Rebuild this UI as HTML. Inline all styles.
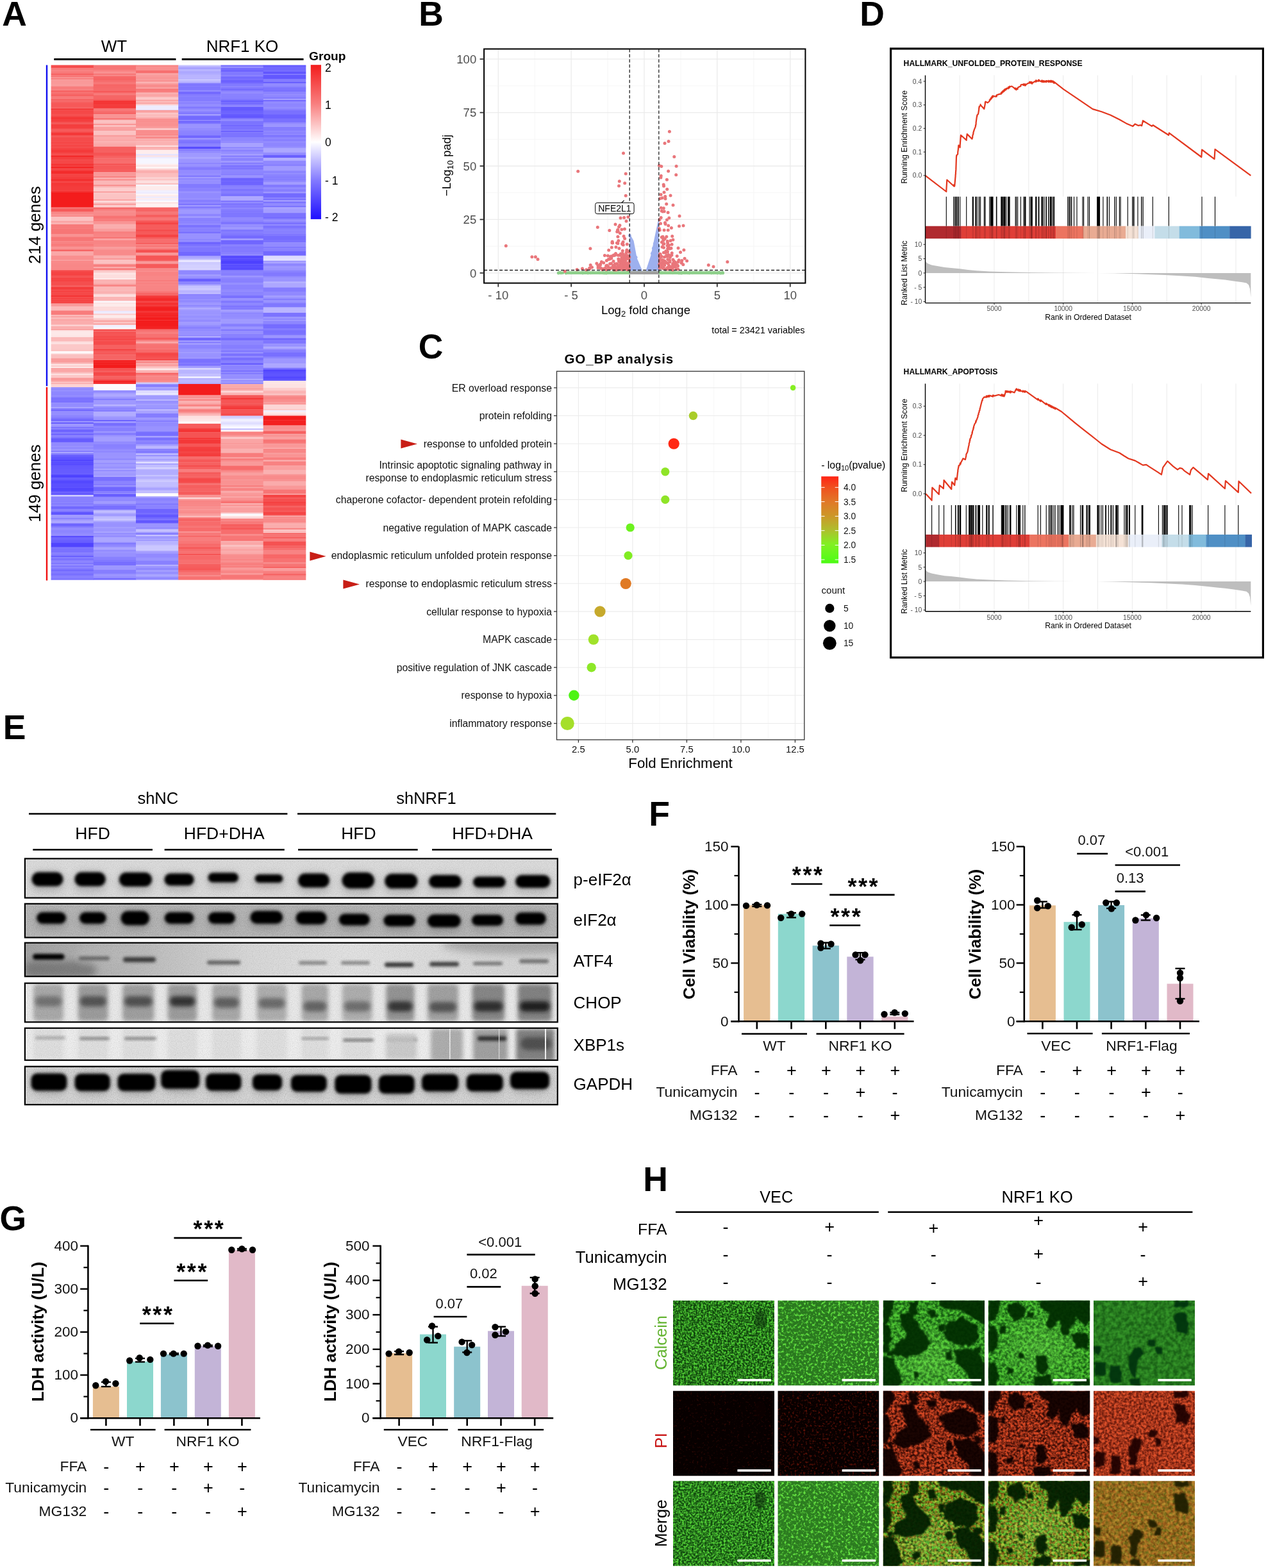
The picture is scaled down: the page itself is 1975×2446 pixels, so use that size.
<!DOCTYPE html>
<html><head><meta charset="utf-8"><title>Figure</title>
<style>
html,body{margin:0;padding:0;background:#fff;}
svg{display:block;font-family:"Liberation Sans",Arial,sans-serif;}
</style></head><body>
<svg width="1975" height="2446" viewBox="0 0 1975 2446">
<defs><linearGradient id="hmcb" x1="0" y1="0" x2="0" y2="1"><stop offset="0" stop-color="#f31c1c"/><stop offset=".25" stop-color="#f87e7e"/><stop offset=".5" stop-color="#fff"/><stop offset=".75" stop-color="#8279ff"/><stop offset="1" stop-color="#1e0fff"/></linearGradient>
<linearGradient id="pvg" x1="0" y1="0" x2="0" y2="1"><stop offset="0" stop-color="#ff2314"/><stop offset=".127" stop-color="#f0501e"/><stop offset=".29" stop-color="#e17828"/><stop offset=".45" stop-color="#cd9628"/><stop offset=".615" stop-color="#afbe2d"/><stop offset=".78" stop-color="#82f023"/><stop offset=".94" stop-color="#5afa19"/><stop offset="1" stop-color="#4bfa14"/></linearGradient>
<filter id="b1" x="-30%" y="-60%" width="160%" height="220%"><feGaussianBlur stdDeviation="2.0"/></filter>
<filter id="b2" x="-30%" y="-60%" width="160%" height="220%"><feGaussianBlur stdDeviation="3"/></filter>
<filter id="b3" x="-40%" y="-60%" width="180%" height="220%"><feGaussianBlur stdDeviation="6"/></filter>
<filter id="grain" x="0" y="0" width="100%" height="100%"><feTurbulence type="fractalNoise" baseFrequency="0.9" numOctaves="1" seed="4"/><feColorMatrix type="matrix" values="0 0 0 0 0  0 0 0 0 0  0 0 0 0 0  0 0 0 -1.3 0.75"/></filter>
<clipPath id="bc1"><rect x="38.9" y="1339.4" width="830.9" height="61.2"/></clipPath>
<clipPath id="bc2"><rect x="38.9" y="1409.8" width="830.9" height="52.7"/></clipPath>
<linearGradient id="atfbg" x1="0" y1="0" x2="1" y2="0"><stop offset="0" stop-color="#a2a2a2"/><stop offset=".22" stop-color="#bdbdbd"/><stop offset=".42" stop-color="#d8d8d8"/><stop offset=".62" stop-color="#e3e3e3"/><stop offset="1" stop-color="#d2d2d2"/></linearGradient>
<clipPath id="bc3"><rect x="38.9" y="1470.7" width="830.9" height="52.5"/></clipPath>
<clipPath id="bc4"><rect x="38.9" y="1533.7" width="830.9" height="60.7"/></clipPath>
<clipPath id="bc5"><rect x="38.9" y="1603.8" width="830.9" height="50"/></clipPath>
<clipPath id="bc6"><rect x="38.9" y="1663.7" width="830.9" height="59.5"/></clipPath>
<filter id="hb" x="-10%" y="-10%" width="120%" height="120%"><feGaussianBlur stdDeviation="1.3"/></filter>
<filter id="c1" x="0" y="0" width="1" height="1" color-interpolation-filters="sRGB"><feTurbulence type="fractalNoise" baseFrequency="0.34" numOctaves="3" seed="3"/><feComponentTransfer><feFuncR type="linear" slope="3" intercept="-1.1"/></feComponentTransfer><feColorMatrix type="matrix" values="0.251 0 0 0 0.063  0.529 0 0 0 0.275  0.153 0 0 0 0.051  0 0 0 0 1"/></filter>
<filter id="c2" x="0" y="0" width="1" height="1" color-interpolation-filters="sRGB"><feTurbulence type="fractalNoise" baseFrequency="0.26" numOctaves="3" seed="5"/><feComponentTransfer><feFuncR type="linear" slope="4" intercept="-2"/></feComponentTransfer><feColorMatrix type="matrix" values="0.227 0 0 0 0.165  0.431 0 0 0 0.471  0.133 0 0 0 0.122  0 0 0 0 1"/></filter>
<filter id="c3" x="0" y="0" width="1" height="1" color-interpolation-filters="sRGB"><feTurbulence type="fractalNoise" baseFrequency="0.22" numOctaves="2" seed="7"/><feComponentTransfer><feFuncR type="linear" slope="2.6" intercept="-0.8"/></feComponentTransfer><feColorMatrix type="matrix" values="0.220 0 0 0 0.094  0.408 0 0 0 0.376  0.129 0 0 0 0.075  0 0 0 0 1"/></filter>
<filter id="c5" x="0" y="0" width="1" height="1" color-interpolation-filters="sRGB"><feTurbulence type="fractalNoise" baseFrequency="0.16" numOctaves="2" seed="9"/><feComponentTransfer><feFuncR type="linear" slope="2.2" intercept="-0.6"/></feComponentTransfer><feColorMatrix type="matrix" values="0.102 0 0 0 0.102  0.196 0 0 0 0.384  0.071 0 0 0 0.086  0 0 0 0 1"/></filter>
<filter id="p1" x="0" y="0" width="1" height="1" color-interpolation-filters="sRGB"><feTurbulence type="fractalNoise" baseFrequency="0.3" numOctaves="2" seed="11"/><feComponentTransfer><feFuncR type="linear" slope="3" intercept="-1.8"/></feComponentTransfer><feColorMatrix type="matrix" values="0.208 0 0 0 0.027  0.039 0 0 0 0.000  0.020 0 0 0 0.000  0 0 0 0 1"/></filter>
<filter id="p2" x="0" y="0" width="1" height="1" color-interpolation-filters="sRGB"><feTurbulence type="fractalNoise" baseFrequency="0.3" numOctaves="2" seed="13"/><feComponentTransfer><feFuncR type="linear" slope="3" intercept="-1.6"/></feComponentTransfer><feColorMatrix type="matrix" values="0.400 0 0 0 0.031  0.078 0 0 0 0.000  0.031 0 0 0 0.000  0 0 0 0 1"/></filter>
<filter id="p3" x="0" y="0" width="1" height="1" color-interpolation-filters="sRGB"><feTurbulence type="fractalNoise" baseFrequency="0.26" numOctaves="2" seed="15"/><feComponentTransfer><feFuncR type="linear" slope="2.6" intercept="-0.8"/></feComponentTransfer><feColorMatrix type="matrix" values="0.608 0 0 0 0.235  0.235 0 0 0 0.047  0.122 0 0 0 0.020  0 0 0 0 1"/></filter>
<filter id="p5" x="0" y="0" width="1" height="1" color-interpolation-filters="sRGB"><feTurbulence type="fractalNoise" baseFrequency="0.26" numOctaves="2" seed="17"/><feComponentTransfer><feFuncR type="linear" slope="2.4" intercept="-0.7"/></feComponentTransfer><feColorMatrix type="matrix" values="0.459 0 0 0 0.412  0.212 0 0 0 0.102  0.118 0 0 0 0.047  0 0 0 0 1"/></filter>
<filter id="m1" x="0" y="0" width="1" height="1" color-interpolation-filters="sRGB"><feTurbulence type="fractalNoise" baseFrequency="0.34" numOctaves="3" seed="19"/><feComponentTransfer><feFuncR type="linear" slope="3" intercept="-1.1"/></feComponentTransfer><feColorMatrix type="matrix" values="0.259 0 0 0 0.071  0.525 0 0 0 0.298  0.157 0 0 0 0.059  0 0 0 0 1"/></filter>
<filter id="m2" x="0" y="0" width="1" height="1" color-interpolation-filters="sRGB"><feTurbulence type="fractalNoise" baseFrequency="0.26" numOctaves="3" seed="21"/><feComponentTransfer><feFuncR type="linear" slope="4" intercept="-2"/></feComponentTransfer><feColorMatrix type="matrix" values="0.235 0 0 0 0.173  0.424 0 0 0 0.486  0.137 0 0 0 0.125  0 0 0 0 1"/></filter>
<filter id="m3" x="0" y="0" width="1" height="1" color-interpolation-filters="sRGB"><feTurbulence type="fractalNoise" baseFrequency="0.24" numOctaves="2" seed="23" result="t1"/><feComponentTransfer in="t1" result="c1"><feFuncR type="linear" slope="2.6" intercept="-0.8"/></feComponentTransfer><feColorMatrix in="c1" type="matrix" values="0.216 0 0 0 0.000  0.510 0 0 0 0.196  0.149 0 0 0 0.000  0 0 0 0 1" result="g"/><feTurbulence type="fractalNoise" baseFrequency="0.24" numOctaves="2" seed="25" result="t2"/><feComponentTransfer in="t2" result="c2"><feFuncR type="linear" slope="2.6" intercept="-0.8"/></feComponentTransfer><feColorMatrix in="c2" type="matrix" values="0.490 0 0 0 0.098  0.196 0 0 0 0.000  0.086 0 0 0 0.000  0 0 0 0 1" result="r"/><feBlend in="g" in2="r" mode="screen"/></filter>
<filter id="m5" x="0" y="0" width="1" height="1" color-interpolation-filters="sRGB"><feTurbulence type="fractalNoise" baseFrequency="0.2" numOctaves="2" seed="27" result="t1"/><feComponentTransfer in="t1" result="c1"><feFuncR type="linear" slope="2.2" intercept="-0.6"/></feComponentTransfer><feColorMatrix in="c1" type="matrix" values="0.078 0 0 0 0.000  0.220 0 0 0 0.086  0.059 0 0 0 0.000  0 0 0 0 1" result="g"/><feTurbulence type="fractalNoise" baseFrequency="0.2" numOctaves="2" seed="29" result="t2"/><feComponentTransfer in="t2" result="c2"><feFuncR type="linear" slope="2.2" intercept="-0.6"/></feComponentTransfer><feColorMatrix in="c2" type="matrix" values="0.314 0 0 0 0.392  0.173 0 0 0 0.188  0.086 0 0 0 0.047  0 0 0 0 1" result="r"/><feBlend in="g" in2="r" mode="screen"/></filter>
<clipPath id="hc1"><rect x="1050" y="2028.8" width="158" height="132.5"/></clipPath>
<clipPath id="hc2"><rect x="1213.5" y="2028.8" width="157.7" height="132.5"/></clipPath>
<clipPath id="hc3"><rect x="1377.8" y="2028.8" width="158.2" height="132.5"/></clipPath>
<radialGradient id="hg3" cx="0.45" cy="0.72" r="0.5"><stop offset="0" stop-color="#9cff70" stop-opacity="0.22"/><stop offset="1" stop-color="#9cff70" stop-opacity="0"/></radialGradient>
<clipPath id="hc4"><rect x="1541.8" y="2028.8" width="158.4" height="132.5"/></clipPath>
<radialGradient id="hg4" cx="0.5" cy="0.55" r="0.5"><stop offset="0" stop-color="#9cff70" stop-opacity="0.22"/><stop offset="1" stop-color="#9cff70" stop-opacity="0"/></radialGradient>
<clipPath id="hc5"><rect x="1706" y="2028.8" width="158" height="132.5"/></clipPath>
<clipPath id="hc6"><rect x="1050" y="2169.7" width="158" height="132.6"/></clipPath>
<clipPath id="hc7"><rect x="1213.5" y="2169.7" width="157.7" height="132.6"/></clipPath>
<clipPath id="hc8"><rect x="1377.8" y="2169.7" width="158.2" height="132.6"/></clipPath>
<clipPath id="hc9"><rect x="1541.8" y="2169.7" width="158.4" height="132.6"/></clipPath>
<clipPath id="hc10"><rect x="1706" y="2169.7" width="158" height="132.6"/></clipPath>
<clipPath id="hc11"><rect x="1050" y="2310.3" width="158" height="132.5"/></clipPath>
<clipPath id="hc12"><rect x="1213.5" y="2310.3" width="157.7" height="132.5"/></clipPath>
<clipPath id="hc13"><rect x="1377.8" y="2310.3" width="158.2" height="132.5"/></clipPath>
<radialGradient id="hg13" cx="0.45" cy="0.72" r="0.5"><stop offset="0" stop-color="#9cff70" stop-opacity="0.22"/><stop offset="1" stop-color="#9cff70" stop-opacity="0"/></radialGradient>
<clipPath id="hc14"><rect x="1541.8" y="2310.3" width="158.4" height="132.5"/></clipPath>
<radialGradient id="hg14" cx="0.5" cy="0.55" r="0.5"><stop offset="0" stop-color="#9cff70" stop-opacity="0.22"/><stop offset="1" stop-color="#9cff70" stop-opacity="0"/></radialGradient>
<clipPath id="hc15"><rect x="1706" y="2310.3" width="158" height="132.5"/></clipPath></defs>
<rect width="1975" height="2446" fill="#fff"/>
<text x="3.2" y="40.1" font-size="53.5" font-weight="bold">A</text>
<text x="653.3" y="40" font-size="53.5" font-weight="bold">B</text>
<text x="652.8" y="559.1" font-size="53.5" font-weight="bold">C</text>
<text x="1341.2" y="40.2" font-size="53.5" font-weight="bold">D</text>
<text x="4.8" y="1152.5" font-size="53.5" font-weight="bold">E</text>
<text x="1012.2" y="1287.5" font-size="53.5" font-weight="bold">F</text>
<text x="-0.6" y="1919.2" font-size="53.5" font-weight="bold">G</text>
<text x="1003.3" y="1858.4" font-size="53.5" font-weight="bold">H</text>
<rect x="79.6" y="101.5" width="66.6" height="4.7" fill="#f54c4c"/>
<rect x="79.6" y="105.9" width="66.6" height="4.7" fill="#f87d7d"/>
<rect x="79.6" y="110.3" width="66.6" height="4.7" fill="#f87b7b"/>
<rect x="79.6" y="114.7" width="66.6" height="2.5" fill="#f66464"/>
<rect x="79.6" y="116.9" width="66.6" height="2.5" fill="#f87b7b"/>
<rect x="79.6" y="119.1" width="66.6" height="1" fill="#f65f5f"/>
<rect x="79.6" y="119.8" width="66.6" height="2.5" fill="#f99191"/>
<rect x="79.6" y="122" width="66.6" height="2.5" fill="#f88181"/>
<rect x="79.6" y="124.2" width="66.6" height="6.9" fill="#f99999"/>
<rect x="79.6" y="130.8" width="66.6" height="4.1" fill="#f99c9c"/>
<rect x="79.6" y="134.6" width="66.6" height="4.7" fill="#f87c7c"/>
<rect x="79.6" y="139" width="66.6" height="2.5" fill="#f88383"/>
<rect x="79.6" y="141.2" width="66.6" height="2.5" fill="#f65858"/>
<rect x="79.6" y="143.4" width="66.6" height="2.5" fill="#f76c6c"/>
<rect x="79.6" y="145.6" width="66.6" height="2.5" fill="#f76969"/>
<rect x="79.6" y="147.8" width="66.6" height="2.5" fill="#f66161"/>
<rect x="79.6" y="150" width="66.6" height="4.7" fill="#f77979"/>
<rect x="79.6" y="154.4" width="66.6" height="2.5" fill="#f65959"/>
<rect x="79.6" y="156.6" width="66.6" height="2.5" fill="#f76c6c"/>
<rect x="79.6" y="158.8" width="66.6" height="2.5" fill="#f65f5f"/>
<rect x="79.6" y="161" width="66.6" height="6.9" fill="#f65858"/>
<rect x="79.6" y="167.6" width="66.6" height="2" fill="#f66161"/>
<rect x="79.6" y="169.3" width="66.6" height="2.5" fill="#f32e2e"/>
<rect x="79.6" y="171.5" width="66.6" height="6.9" fill="#f54848"/>
<rect x="79.6" y="178.1" width="66.6" height="2.5" fill="#f54b4b"/>
<rect x="79.6" y="180.3" width="66.6" height="2.5" fill="#f43e3e"/>
<rect x="79.6" y="182.5" width="66.6" height="2.5" fill="#f43232"/>
<rect x="79.6" y="184.7" width="66.6" height="4.7" fill="#f43d3d"/>
<rect x="79.6" y="189.1" width="66.6" height="2.5" fill="#f44040"/>
<rect x="79.6" y="191.3" width="66.6" height="2.5" fill="#f55252"/>
<rect x="79.6" y="193.5" width="66.6" height="6.9" fill="#f43e3e"/>
<rect x="79.6" y="200.1" width="66.6" height="2.5" fill="#f54747"/>
<rect x="79.6" y="202.3" width="66.6" height="4.7" fill="#f65757"/>
<rect x="79.6" y="206.7" width="66.6" height="4.7" fill="#f43838"/>
<rect x="79.6" y="211.1" width="66.6" height="2.5" fill="#f55050"/>
<rect x="79.6" y="213.3" width="66.6" height="6.9" fill="#f54b4b"/>
<rect x="79.6" y="219.9" width="66.6" height="2.5" fill="#f54d4d"/>
<rect x="79.6" y="222.1" width="66.6" height="2.5" fill="#f43d3d"/>
<rect x="79.6" y="224.3" width="66.6" height="4.7" fill="#f54747"/>
<rect x="79.6" y="228.7" width="66.6" height="2.5" fill="#f54e4e"/>
<rect x="79.6" y="230.9" width="66.6" height="3.1" fill="#f54343"/>
<rect x="79.6" y="233.7" width="66.6" height="4.7" fill="#f43a3a"/>
<rect x="79.6" y="238.1" width="66.6" height="2.5" fill="#f44040"/>
<rect x="79.6" y="240.3" width="66.6" height="2.5" fill="#f54545"/>
<rect x="79.6" y="242.5" width="66.6" height="2.5" fill="#f32626"/>
<rect x="79.6" y="244.7" width="66.6" height="4.7" fill="#f43f3f"/>
<rect x="79.6" y="249.1" width="66.6" height="6.9" fill="#f54747"/>
<rect x="79.6" y="255.7" width="66.6" height="2.5" fill="#f43434"/>
<rect x="79.6" y="257.9" width="66.6" height="2.5" fill="#f44141"/>
<rect x="79.6" y="260.1" width="66.6" height="2.5" fill="#f31c1c"/>
<rect x="79.6" y="262.3" width="66.6" height="2.5" fill="#f43a3a"/>
<rect x="79.6" y="264.5" width="66.6" height="2.5" fill="#f43d3d"/>
<rect x="79.6" y="266.7" width="66.6" height="4.7" fill="#f32b2b"/>
<rect x="79.6" y="271.1" width="66.6" height="2.5" fill="#f43d3d"/>
<rect x="79.6" y="273.3" width="66.6" height="2.5" fill="#f43535"/>
<rect x="79.6" y="275.5" width="66.6" height="4.7" fill="#f43b3b"/>
<rect x="79.6" y="279.9" width="66.6" height="2.5" fill="#f32a2a"/>
<rect x="79.6" y="282.1" width="66.6" height="2.5" fill="#f43c3c"/>
<rect x="79.6" y="284.3" width="66.6" height="4.7" fill="#f43737"/>
<rect x="79.6" y="288.7" width="66.6" height="2.5" fill="#f43a3a"/>
<rect x="79.6" y="290.9" width="66.6" height="6.9" fill="#f43c3c"/>
<rect x="79.6" y="297.5" width="66.6" height="2.5" fill="#f32b2b"/>
<rect x="79.6" y="299.7" width="66.6" height="0.6" fill="#f65e5e"/>
<rect x="79.6" y="300" width="66.6" height="23.8" fill="#f31c1c"/>
<rect x="79.6" y="323.5" width="66.6" height="2.5" fill="#f77676"/>
<rect x="79.6" y="325.7" width="66.6" height="4.7" fill="#f65b5b"/>
<rect x="79.6" y="330.1" width="66.6" height="2.5" fill="#f88080"/>
<rect x="79.6" y="332.3" width="66.6" height="2.5" fill="#f88282"/>
<rect x="79.6" y="334.5" width="66.6" height="2.5" fill="#f99393"/>
<rect x="79.6" y="336.7" width="66.6" height="1.6" fill="#f88686"/>
<rect x="79.6" y="338" width="66.6" height="6.9" fill="#fbc1c1"/>
<rect x="79.6" y="344.6" width="66.6" height="2.5" fill="#faa2a2"/>
<rect x="79.6" y="346.8" width="66.6" height="3.5" fill="#fbb3b3"/>
<rect x="79.6" y="350" width="66.6" height="6.9" fill="#f77a7a"/>
<rect x="79.6" y="356.6" width="66.6" height="9.1" fill="#f77676"/>
<rect x="79.6" y="365.4" width="66.6" height="2.5" fill="#f99090"/>
<rect x="79.6" y="367.6" width="66.6" height="2.5" fill="#f98f8f"/>
<rect x="79.6" y="369.8" width="66.6" height="6.9" fill="#f77676"/>
<rect x="79.6" y="376.4" width="66.6" height="4.7" fill="#f88383"/>
<rect x="79.6" y="380.8" width="66.6" height="2.5" fill="#f87a7a"/>
<rect x="79.6" y="383" width="66.6" height="2.5" fill="#f88181"/>
<rect x="79.6" y="385.2" width="66.6" height="2.5" fill="#f98e8e"/>
<rect x="79.6" y="387.4" width="66.6" height="2.5" fill="#f88989"/>
<rect x="79.6" y="389.6" width="66.6" height="2.5" fill="#f65e5e"/>
<rect x="79.6" y="391.8" width="66.6" height="6.9" fill="#faa7a7"/>
<rect x="79.6" y="398.4" width="66.6" height="6.9" fill="#f98e8e"/>
<rect x="79.6" y="405" width="66.6" height="2.5" fill="#f99c9c"/>
<rect x="79.6" y="407.2" width="66.6" height="2.5" fill="#f88181"/>
<rect x="79.6" y="409.4" width="66.6" height="2.5" fill="#f88484"/>
<rect x="79.6" y="411.6" width="66.6" height="6.9" fill="#f88787"/>
<rect x="79.6" y="418.2" width="66.6" height="2.5" fill="#f88080"/>
<rect x="79.6" y="420.4" width="66.6" height="1.3" fill="#f87f7f"/>
<rect x="79.6" y="421.4" width="66.6" height="2.5" fill="#f54545"/>
<rect x="79.6" y="423.6" width="66.6" height="2.5" fill="#f54444"/>
<rect x="79.6" y="425.8" width="66.6" height="4.7" fill="#f54343"/>
<rect x="79.6" y="430.2" width="66.6" height="2.5" fill="#f54a4a"/>
<rect x="79.6" y="432.4" width="66.6" height="6.9" fill="#f54444"/>
<rect x="79.6" y="439" width="66.6" height="6.9" fill="#f54e4e"/>
<rect x="79.6" y="445.6" width="66.6" height="2.5" fill="#f65f5f"/>
<rect x="79.6" y="447.8" width="66.6" height="2.5" fill="#f43a3a"/>
<rect x="79.6" y="450" width="66.6" height="2.5" fill="#f43f3f"/>
<rect x="79.6" y="452.2" width="66.6" height="4.7" fill="#f54444"/>
<rect x="79.6" y="456.6" width="66.6" height="4.7" fill="#f54848"/>
<rect x="79.6" y="461" width="66.6" height="2.5" fill="#f43333"/>
<rect x="79.6" y="463.2" width="66.6" height="4.7" fill="#f54545"/>
<rect x="79.6" y="467.6" width="66.6" height="2.5" fill="#f54242"/>
<rect x="79.6" y="469.8" width="66.6" height="2.5" fill="#f54747"/>
<rect x="79.6" y="472" width="66.6" height="1.7" fill="#f43f3f"/>
<rect x="79.6" y="473.4" width="66.6" height="4.7" fill="#f99999"/>
<rect x="79.6" y="477.8" width="66.6" height="6.9" fill="#fbbaba"/>
<rect x="79.6" y="484.4" width="66.6" height="6.9" fill="#f87c7c"/>
<rect x="79.6" y="491" width="66.6" height="2.5" fill="#fbb9b9"/>
<rect x="79.6" y="493.2" width="66.6" height="2.5" fill="#f99d9d"/>
<rect x="79.6" y="495.4" width="66.6" height="2.5" fill="#fbbcbc"/>
<rect x="79.6" y="497.6" width="66.6" height="2.5" fill="#faa6a6"/>
<rect x="79.6" y="499.8" width="66.6" height="0.5" fill="#f99f9f"/>
<rect x="79.6" y="500" width="66.6" height="6.9" fill="#faadad"/>
<rect x="79.6" y="506.6" width="66.6" height="2.5" fill="#fcd4d4"/>
<rect x="79.6" y="508.8" width="66.6" height="4.7" fill="#faafaf"/>
<rect x="79.6" y="513.2" width="66.6" height="2.1" fill="#f99d9d"/>
<rect x="79.6" y="515" width="66.6" height="2.5" fill="#fde0e0"/>
<rect x="79.6" y="517.2" width="66.6" height="6.9" fill="#fde9e9"/>
<rect x="79.6" y="523.8" width="66.6" height="2.5" fill="#fde5e5"/>
<rect x="79.6" y="526" width="66.6" height="6.9" fill="#fbbaba"/>
<rect x="79.6" y="532.6" width="66.6" height="2.5" fill="#fddede"/>
<rect x="79.6" y="534.8" width="66.6" height="2.5" fill="#fde1e1"/>
<rect x="79.6" y="537" width="66.6" height="6.9" fill="#fcc8c8"/>
<rect x="79.6" y="543.6" width="66.6" height="4.7" fill="#fbc5c5"/>
<rect x="79.6" y="548" width="66.6" height="2.5" fill="#fefeff"/>
<rect x="79.6" y="550.2" width="66.6" height="2.5" fill="#fdebeb"/>
<rect x="79.6" y="552.4" width="66.6" height="2.5" fill="#fbbebe"/>
<rect x="79.6" y="554.6" width="66.6" height="2.5" fill="#fbc1c1"/>
<rect x="79.6" y="556.8" width="66.6" height="2.5" fill="#fbbebe"/>
<rect x="79.6" y="559" width="66.6" height="6.9" fill="#f99c9c"/>
<rect x="79.6" y="565.6" width="66.6" height="2.5" fill="#fbbaba"/>
<rect x="79.6" y="567.8" width="66.6" height="2.5" fill="#fde5e5"/>
<rect x="79.6" y="570" width="66.6" height="2.5" fill="#fccccc"/>
<rect x="79.6" y="572.2" width="66.6" height="2.1" fill="#fde8e8"/>
<rect x="79.6" y="574" width="66.6" height="6.9" fill="#faa6a6"/>
<rect x="79.6" y="580.6" width="66.6" height="2.5" fill="#fbbfbf"/>
<rect x="79.6" y="582.8" width="66.6" height="2.5" fill="#fde1e1"/>
<rect x="79.6" y="585" width="66.6" height="4.7" fill="#fcc8c8"/>
<rect x="79.6" y="589.4" width="66.6" height="2.5" fill="#f99494"/>
<rect x="79.6" y="591.6" width="66.6" height="2.5" fill="#f99898"/>
<rect x="79.6" y="593.8" width="66.6" height="2.5" fill="#faaeae"/>
<rect x="79.6" y="596" width="66.6" height="2.5" fill="#fbc4c4"/>
<rect x="79.6" y="598.2" width="66.6" height="1.1" fill="#f99595"/>
<rect x="79.6" y="599" width="66.6" height="5.3" fill="#fcd3d3"/>
<rect x="79.6" y="604" width="66.6" height="2.5" fill="#9790ff"/>
<rect x="79.6" y="606.2" width="66.6" height="2.5" fill="#8880ff"/>
<rect x="79.6" y="608.4" width="66.6" height="2.5" fill="#928bff"/>
<rect x="79.6" y="610.6" width="66.6" height="6.9" fill="#8e87ff"/>
<rect x="79.6" y="617.2" width="66.6" height="2.5" fill="#8e86ff"/>
<rect x="79.6" y="619.4" width="66.6" height="6.9" fill="#7c73ff"/>
<rect x="79.6" y="626" width="66.6" height="2.5" fill="#7a71ff"/>
<rect x="79.6" y="628.2" width="66.6" height="6.9" fill="#938cff"/>
<rect x="79.6" y="634.8" width="66.6" height="2.5" fill="#aaa4ff"/>
<rect x="79.6" y="637" width="66.6" height="2.5" fill="#8178ff"/>
<rect x="79.6" y="639.2" width="66.6" height="2.5" fill="#6a60ff"/>
<rect x="79.6" y="641.4" width="66.6" height="6.9" fill="#958eff"/>
<rect x="79.6" y="648" width="66.6" height="2.5" fill="#8b83ff"/>
<rect x="79.6" y="650.2" width="66.6" height="2.5" fill="#8078ff"/>
<rect x="79.6" y="652.4" width="66.6" height="2.5" fill="#7269ff"/>
<rect x="79.6" y="654.6" width="66.6" height="2.5" fill="#6e64ff"/>
<rect x="79.6" y="656.8" width="66.6" height="2.5" fill="#9c96ff"/>
<rect x="79.6" y="659" width="66.6" height="2.5" fill="#675dff"/>
<rect x="79.6" y="661.2" width="66.6" height="4.7" fill="#9d96ff"/>
<rect x="79.6" y="665.6" width="66.6" height="2.5" fill="#7c73ff"/>
<rect x="79.6" y="667.8" width="66.6" height="2.5" fill="#8b84ff"/>
<rect x="79.6" y="670" width="66.6" height="4.7" fill="#6e64ff"/>
<rect x="79.6" y="674.4" width="66.6" height="2.5" fill="#7f77ff"/>
<rect x="79.6" y="676.6" width="66.6" height="2.5" fill="#6e64ff"/>
<rect x="79.6" y="678.8" width="66.6" height="2.5" fill="#8e86ff"/>
<rect x="79.6" y="681" width="66.6" height="2.5" fill="#8179ff"/>
<rect x="79.6" y="683.2" width="66.6" height="6.9" fill="#665cff"/>
<rect x="79.6" y="689.8" width="66.6" height="6.9" fill="#928aff"/>
<rect x="79.6" y="696.4" width="66.6" height="4.7" fill="#918aff"/>
<rect x="79.6" y="700.8" width="66.6" height="2.5" fill="#9f99ff"/>
<rect x="79.6" y="703" width="66.6" height="2.5" fill="#847cff"/>
<rect x="79.6" y="705.2" width="66.6" height="2.5" fill="#a7a2ff"/>
<rect x="79.6" y="707.4" width="66.6" height="2.5" fill="#746bff"/>
<rect x="79.6" y="709.6" width="66.6" height="0.7" fill="#9993ff"/>
<rect x="79.6" y="710" width="66.6" height="2.5" fill="#6257ff"/>
<rect x="79.6" y="712.2" width="66.6" height="4.7" fill="#5d53ff"/>
<rect x="79.6" y="716.6" width="66.6" height="2.5" fill="#5044ff"/>
<rect x="79.6" y="718.8" width="66.6" height="2.5" fill="#5d53ff"/>
<rect x="79.6" y="721" width="66.6" height="2.5" fill="#584dff"/>
<rect x="79.6" y="723.2" width="66.6" height="2.5" fill="#4c40ff"/>
<rect x="79.6" y="725.4" width="66.6" height="2.5" fill="#594dff"/>
<rect x="79.6" y="727.6" width="66.6" height="4.7" fill="#6459ff"/>
<rect x="79.6" y="732" width="66.6" height="6.9" fill="#665cff"/>
<rect x="79.6" y="738.6" width="66.6" height="2.5" fill="#655aff"/>
<rect x="79.6" y="740.8" width="66.6" height="4.7" fill="#4e43ff"/>
<rect x="79.6" y="745.2" width="66.6" height="2.5" fill="#6056ff"/>
<rect x="79.6" y="747.4" width="66.6" height="2.5" fill="#5a50ff"/>
<rect x="79.6" y="749.6" width="66.6" height="4.7" fill="#5348ff"/>
<rect x="79.6" y="754" width="66.6" height="6.9" fill="#5a4fff"/>
<rect x="79.6" y="760.6" width="66.6" height="2.5" fill="#5448ff"/>
<rect x="79.6" y="762.8" width="66.6" height="2.5" fill="#5247ff"/>
<rect x="79.6" y="765" width="66.6" height="2.5" fill="#584dff"/>
<rect x="79.6" y="767.2" width="66.6" height="2.5" fill="#665bff"/>
<rect x="79.6" y="769.4" width="66.6" height="2.5" fill="#5a4fff"/>
<rect x="79.6" y="771.6" width="66.6" height="0.7" fill="#6157ff"/>
<rect x="79.6" y="772" width="66.6" height="2.5" fill="#cecbff"/>
<rect x="79.6" y="774.2" width="66.6" height="0.6" fill="#dad8ff"/>
<rect x="79.6" y="774.5" width="66.6" height="6.9" fill="#8981ff"/>
<rect x="79.6" y="781.1" width="66.6" height="2.5" fill="#827aff"/>
<rect x="79.6" y="783.3" width="66.6" height="4.7" fill="#867eff"/>
<rect x="79.6" y="787.7" width="66.6" height="2.5" fill="#8f88ff"/>
<rect x="79.6" y="789.9" width="66.6" height="4.7" fill="#7168ff"/>
<rect x="79.6" y="794.3" width="66.6" height="2.5" fill="#857dff"/>
<rect x="79.6" y="796.5" width="66.6" height="2.5" fill="#8179ff"/>
<rect x="79.6" y="798.7" width="66.6" height="4.7" fill="#6056ff"/>
<rect x="79.6" y="803.1" width="66.6" height="4.7" fill="#a09aff"/>
<rect x="79.6" y="807.5" width="66.6" height="2.5" fill="#8880ff"/>
<rect x="79.6" y="809.7" width="66.6" height="2.5" fill="#9e97ff"/>
<rect x="79.6" y="811.9" width="66.6" height="4.7" fill="#aca7ff"/>
<rect x="79.6" y="816.3" width="66.6" height="4.7" fill="#6e65ff"/>
<rect x="79.6" y="820.7" width="66.6" height="2.5" fill="#837aff"/>
<rect x="79.6" y="822.9" width="66.6" height="2.5" fill="#938cff"/>
<rect x="79.6" y="825.1" width="66.6" height="2.5" fill="#9089ff"/>
<rect x="79.6" y="827.3" width="66.6" height="2.5" fill="#837bff"/>
<rect x="79.6" y="829.5" width="66.6" height="2.5" fill="#8c85ff"/>
<rect x="79.6" y="831.7" width="66.6" height="4.6" fill="#948dff"/>
<rect x="79.6" y="836" width="66.6" height="2.5" fill="#584cff"/>
<rect x="79.6" y="838.2" width="66.6" height="2.5" fill="#655bff"/>
<rect x="79.6" y="840.4" width="66.6" height="4.7" fill="#6a60ff"/>
<rect x="79.6" y="844.8" width="66.6" height="2.5" fill="#665cff"/>
<rect x="79.6" y="847" width="66.6" height="6.9" fill="#5044ff"/>
<rect x="79.6" y="853.6" width="66.6" height="2.5" fill="#7f76ff"/>
<rect x="79.6" y="855.8" width="66.6" height="6.9" fill="#7a71ff"/>
<rect x="79.6" y="862.4" width="66.6" height="4.7" fill="#867eff"/>
<rect x="79.6" y="866.8" width="66.6" height="2.5" fill="#6a61ff"/>
<rect x="79.6" y="869" width="66.6" height="2.5" fill="#8881ff"/>
<rect x="79.6" y="871.2" width="66.6" height="2.5" fill="#6f65ff"/>
<rect x="79.6" y="873.4" width="66.6" height="2.5" fill="#8078ff"/>
<rect x="79.6" y="875.6" width="66.6" height="2.5" fill="#8f87ff"/>
<rect x="79.6" y="877.8" width="66.6" height="2.5" fill="#7f77ff"/>
<rect x="79.6" y="880" width="66.6" height="2.5" fill="#958eff"/>
<rect x="79.6" y="882.2" width="66.6" height="2.5" fill="#776eff"/>
<rect x="79.6" y="884.4" width="66.6" height="2.5" fill="#8880ff"/>
<rect x="79.6" y="886.6" width="66.6" height="2.5" fill="#7e76ff"/>
<rect x="79.6" y="888.8" width="66.6" height="2.5" fill="#736aff"/>
<rect x="79.6" y="891" width="66.6" height="2.5" fill="#827aff"/>
<rect x="79.6" y="893.2" width="66.6" height="2.5" fill="#776eff"/>
<rect x="79.6" y="895.4" width="66.6" height="2.5" fill="#7067ff"/>
<rect x="79.6" y="897.6" width="66.6" height="4.7" fill="#877fff"/>
<rect x="79.6" y="902" width="66.6" height="2.5" fill="#7e76ff"/>
<rect x="79.6" y="904.2" width="66.6" height="0.5" fill="#756cff"/>
<rect x="145.8" y="101.5" width="66.6" height="6.9" fill="#f77575"/>
<rect x="145.8" y="108.1" width="66.6" height="2.5" fill="#f77676"/>
<rect x="145.8" y="110.3" width="66.6" height="2.5" fill="#f88181"/>
<rect x="145.8" y="112.5" width="66.6" height="2.5" fill="#f99191"/>
<rect x="145.8" y="114.7" width="66.6" height="2.5" fill="#f77979"/>
<rect x="145.8" y="116.9" width="66.6" height="2.5" fill="#f88888"/>
<rect x="145.8" y="119.1" width="66.6" height="1" fill="#f65959"/>
<rect x="145.8" y="119.8" width="66.6" height="2.5" fill="#f76868"/>
<rect x="145.8" y="122" width="66.6" height="4.7" fill="#f66565"/>
<rect x="145.8" y="126.4" width="66.6" height="2.5" fill="#f66666"/>
<rect x="145.8" y="128.6" width="66.6" height="2.5" fill="#f87b7b"/>
<rect x="145.8" y="130.8" width="66.6" height="2.5" fill="#f76a6a"/>
<rect x="145.8" y="133" width="66.6" height="2.5" fill="#f66464"/>
<rect x="145.8" y="135.2" width="66.6" height="2.5" fill="#f65f5f"/>
<rect x="145.8" y="137.4" width="66.6" height="2.5" fill="#f66262"/>
<rect x="145.8" y="139.6" width="66.6" height="2.5" fill="#f76b6b"/>
<rect x="145.8" y="141.8" width="66.6" height="2.5" fill="#f65959"/>
<rect x="145.8" y="144" width="66.6" height="2.5" fill="#f76d6d"/>
<rect x="145.8" y="146.2" width="66.6" height="2.5" fill="#f77474"/>
<rect x="145.8" y="148.4" width="66.6" height="2.5" fill="#f65f5f"/>
<rect x="145.8" y="150.6" width="66.6" height="4.7" fill="#f66565"/>
<rect x="145.8" y="155" width="66.6" height="2.3" fill="#f65b5b"/>
<rect x="145.8" y="157" width="66.6" height="6.9" fill="#f43636"/>
<rect x="145.8" y="163.6" width="66.6" height="4.7" fill="#f43b3b"/>
<rect x="145.8" y="168" width="66.6" height="1.6" fill="#f54343"/>
<rect x="145.8" y="169.3" width="66.6" height="2.5" fill="#f77171"/>
<rect x="145.8" y="171.5" width="66.6" height="2.5" fill="#f77474"/>
<rect x="145.8" y="173.7" width="66.6" height="2.5" fill="#f76c6c"/>
<rect x="145.8" y="175.9" width="66.6" height="2.5" fill="#f66565"/>
<rect x="145.8" y="178.1" width="66.6" height="6.9" fill="#f99494"/>
<rect x="145.8" y="184.7" width="66.6" height="2.2" fill="#f76969"/>
<rect x="145.8" y="186.6" width="66.6" height="2.5" fill="#fbbcbc"/>
<rect x="145.8" y="188.8" width="66.6" height="2.5" fill="#fbc4c4"/>
<rect x="145.8" y="191" width="66.6" height="2.5" fill="#fbbbbb"/>
<rect x="145.8" y="193.2" width="66.6" height="2.5" fill="#f98f8f"/>
<rect x="145.8" y="195.4" width="66.6" height="2.5" fill="#fcc6c6"/>
<rect x="145.8" y="197.6" width="66.6" height="4.7" fill="#faa1a1"/>
<rect x="145.8" y="202" width="66.6" height="2.5" fill="#f9a0a0"/>
<rect x="145.8" y="204.2" width="66.6" height="6.9" fill="#fbc2c2"/>
<rect x="145.8" y="210.8" width="66.6" height="2.5" fill="#f99d9d"/>
<rect x="145.8" y="213" width="66.6" height="4.7" fill="#faacac"/>
<rect x="145.8" y="217.4" width="66.6" height="2.5" fill="#faa1a1"/>
<rect x="145.8" y="219.6" width="66.6" height="2.5" fill="#fbb3b3"/>
<rect x="145.8" y="221.8" width="66.6" height="2.5" fill="#faafaf"/>
<rect x="145.8" y="224" width="66.6" height="5.1" fill="#faa9a9"/>
<rect x="145.8" y="228.8" width="66.6" height="9.1" fill="#f66060"/>
<rect x="145.8" y="237.6" width="66.6" height="4.7" fill="#f55454"/>
<rect x="145.8" y="242" width="66.6" height="2.5" fill="#f65b5b"/>
<rect x="145.8" y="244.2" width="66.6" height="2.5" fill="#f65858"/>
<rect x="145.8" y="246.4" width="66.6" height="4.7" fill="#f76b6b"/>
<rect x="145.8" y="250.8" width="66.6" height="4.7" fill="#f76e6e"/>
<rect x="145.8" y="255.2" width="66.6" height="2.5" fill="#f54a4a"/>
<rect x="145.8" y="257.4" width="66.6" height="6.9" fill="#f65a5a"/>
<rect x="145.8" y="264" width="66.6" height="2.5" fill="#f65e5e"/>
<rect x="145.8" y="266.2" width="66.6" height="2.5" fill="#f54f4f"/>
<rect x="145.8" y="268.4" width="66.6" height="4.7" fill="#f99999"/>
<rect x="145.8" y="272.8" width="66.6" height="2.5" fill="#f99a9a"/>
<rect x="145.8" y="275" width="66.6" height="2.5" fill="#f88282"/>
<rect x="145.8" y="277.2" width="66.6" height="2.5" fill="#fab0b0"/>
<rect x="145.8" y="279.4" width="66.6" height="2.5" fill="#f88989"/>
<rect x="145.8" y="281.6" width="66.6" height="6.9" fill="#fbb7b7"/>
<rect x="145.8" y="288.2" width="66.6" height="2.5" fill="#f88b8b"/>
<rect x="145.8" y="290.4" width="66.6" height="2.5" fill="#fbb4b4"/>
<rect x="145.8" y="292.6" width="66.6" height="4.7" fill="#fccdcd"/>
<rect x="145.8" y="297" width="66.6" height="2.5" fill="#fcc8c8"/>
<rect x="145.8" y="299.2" width="66.6" height="1.1" fill="#f77070"/>
<rect x="145.8" y="300" width="66.6" height="2.5" fill="#fbc4c4"/>
<rect x="145.8" y="302.2" width="66.6" height="9.1" fill="#fbc3c3"/>
<rect x="145.8" y="311" width="66.6" height="2.5" fill="#faa5a5"/>
<rect x="145.8" y="313.2" width="66.6" height="2.5" fill="#fddcdc"/>
<rect x="145.8" y="315.4" width="66.6" height="2.5" fill="#fbc3c3"/>
<rect x="145.8" y="317.6" width="66.6" height="2.5" fill="#f99c9c"/>
<rect x="145.8" y="319.8" width="66.6" height="4" fill="#fccece"/>
<rect x="145.8" y="323.5" width="66.6" height="2.5" fill="#f66666"/>
<rect x="145.8" y="325.7" width="66.6" height="2.5" fill="#f87b7b"/>
<rect x="145.8" y="327.9" width="66.6" height="2.5" fill="#f88989"/>
<rect x="145.8" y="330.1" width="66.6" height="6.9" fill="#f88a8a"/>
<rect x="145.8" y="336.7" width="66.6" height="4.7" fill="#f77373"/>
<rect x="145.8" y="341.1" width="66.6" height="4.7" fill="#f87b7b"/>
<rect x="145.8" y="345.5" width="66.6" height="2.5" fill="#f99494"/>
<rect x="145.8" y="347.7" width="66.6" height="0.6" fill="#f88b8b"/>
<rect x="145.8" y="348" width="66.6" height="2.5" fill="#f99898"/>
<rect x="145.8" y="350.2" width="66.6" height="6.9" fill="#faadad"/>
<rect x="145.8" y="356.8" width="66.6" height="4.7" fill="#f99d9d"/>
<rect x="145.8" y="361.2" width="66.6" height="2.5" fill="#f77777"/>
<rect x="145.8" y="363.4" width="66.6" height="2.5" fill="#f87b7b"/>
<rect x="145.8" y="365.6" width="66.6" height="4.7" fill="#f88585"/>
<rect x="145.8" y="370" width="66.6" height="2.5" fill="#f77474"/>
<rect x="145.8" y="372.2" width="66.6" height="2.5" fill="#faa3a3"/>
<rect x="145.8" y="374.4" width="66.6" height="6.9" fill="#f88585"/>
<rect x="145.8" y="381" width="66.6" height="4.7" fill="#f88888"/>
<rect x="145.8" y="385.4" width="66.6" height="2.5" fill="#f99b9b"/>
<rect x="145.8" y="387.6" width="66.6" height="2.5" fill="#f99696"/>
<rect x="145.8" y="389.8" width="66.6" height="9.1" fill="#f88b8b"/>
<rect x="145.8" y="398.6" width="66.6" height="4.7" fill="#faafaf"/>
<rect x="145.8" y="403" width="66.6" height="2.5" fill="#f99898"/>
<rect x="145.8" y="405.2" width="66.6" height="6.9" fill="#fbc2c2"/>
<rect x="145.8" y="411.8" width="66.6" height="2.5" fill="#f88989"/>
<rect x="145.8" y="414" width="66.6" height="2.5" fill="#f77a7a"/>
<rect x="145.8" y="416.2" width="66.6" height="2.5" fill="#faa8a8"/>
<rect x="145.8" y="418.4" width="66.6" height="3.3" fill="#f77979"/>
<rect x="145.8" y="421.4" width="66.6" height="2.5" fill="#fbc0c0"/>
<rect x="145.8" y="423.6" width="66.6" height="2.5" fill="#fcd1d1"/>
<rect x="145.8" y="425.8" width="66.6" height="2.5" fill="#fde7e7"/>
<rect x="145.8" y="428" width="66.6" height="6.9" fill="#fddede"/>
<rect x="145.8" y="434.6" width="66.6" height="1.4" fill="#fefdfd"/>
<rect x="145.8" y="435.7" width="66.6" height="6.9" fill="#fbb3b3"/>
<rect x="145.8" y="442.3" width="66.6" height="2.5" fill="#f99e9e"/>
<rect x="145.8" y="444.5" width="66.6" height="2.5" fill="#f87d7d"/>
<rect x="145.8" y="446.7" width="66.6" height="6.9" fill="#fbb7b7"/>
<rect x="145.8" y="453.3" width="66.6" height="4.7" fill="#fab2b2"/>
<rect x="145.8" y="457.7" width="66.6" height="1.1" fill="#faa9a9"/>
<rect x="145.8" y="458.5" width="66.6" height="2.5" fill="#fcd8d8"/>
<rect x="145.8" y="460.7" width="66.6" height="2.5" fill="#fde1e1"/>
<rect x="145.8" y="462.9" width="66.6" height="6.9" fill="#fbb5b5"/>
<rect x="145.8" y="469.5" width="66.6" height="2.5" fill="#fbfbff"/>
<rect x="145.8" y="471.7" width="66.6" height="2.5" fill="#fde4e4"/>
<rect x="145.8" y="473.9" width="66.6" height="4.7" fill="#fdebeb"/>
<rect x="145.8" y="478.3" width="66.6" height="2.5" fill="#fcd7d7"/>
<rect x="145.8" y="480.5" width="66.6" height="4.7" fill="#fddbdb"/>
<rect x="145.8" y="484.9" width="66.6" height="2.5" fill="#ebe9ff"/>
<rect x="145.8" y="487.1" width="66.6" height="2.5" fill="#efeeff"/>
<rect x="145.8" y="489.3" width="66.6" height="2.5" fill="#fccbcb"/>
<rect x="145.8" y="491.5" width="66.6" height="4.7" fill="#fdebeb"/>
<rect x="145.8" y="495.9" width="66.6" height="2.5" fill="#fcd1d1"/>
<rect x="145.8" y="498.1" width="66.6" height="2.2" fill="#fbc1c1"/>
<rect x="145.8" y="500" width="66.6" height="2.5" fill="#faa3a3"/>
<rect x="145.8" y="502.2" width="66.6" height="2.5" fill="#fbc4c4"/>
<rect x="145.8" y="504.4" width="66.6" height="2.5" fill="#faa2a2"/>
<rect x="145.8" y="506.6" width="66.6" height="0.7" fill="#fccaca"/>
<rect x="145.8" y="507" width="66.6" height="4.7" fill="#f1f0ff"/>
<rect x="145.8" y="511.4" width="66.6" height="2.5" fill="#fef8f8"/>
<rect x="145.8" y="513.6" width="66.6" height="2.5" fill="#f54f4f"/>
<rect x="145.8" y="515.8" width="66.6" height="2.5" fill="#f76767"/>
<rect x="145.8" y="518" width="66.6" height="2.5" fill="#f55050"/>
<rect x="145.8" y="520.2" width="66.6" height="2.5" fill="#f54a4a"/>
<rect x="145.8" y="522.4" width="66.6" height="6.9" fill="#f54e4e"/>
<rect x="145.8" y="529" width="66.6" height="2.5" fill="#f54848"/>
<rect x="145.8" y="531.2" width="66.6" height="6.9" fill="#f54c4c"/>
<rect x="145.8" y="537.8" width="66.6" height="6.9" fill="#f66060"/>
<rect x="145.8" y="544.4" width="66.6" height="2.5" fill="#f43939"/>
<rect x="145.8" y="546.6" width="66.6" height="2.5" fill="#f65959"/>
<rect x="145.8" y="548.8" width="66.6" height="2.5" fill="#f65c5c"/>
<rect x="145.8" y="551" width="66.6" height="2.5" fill="#f65757"/>
<rect x="145.8" y="553.2" width="66.6" height="6.9" fill="#f66464"/>
<rect x="145.8" y="559.8" width="66.6" height="2.5" fill="#f76a6a"/>
<rect x="145.8" y="562" width="66.6" height="2.5" fill="#f31c1c"/>
<rect x="145.8" y="564.2" width="66.6" height="4.7" fill="#f32020"/>
<rect x="145.8" y="568.6" width="66.6" height="5.7" fill="#f31c1c"/>
<rect x="145.8" y="574" width="66.6" height="2.5" fill="#f55252"/>
<rect x="145.8" y="576.2" width="66.6" height="2.5" fill="#f54545"/>
<rect x="145.8" y="578.4" width="66.6" height="2.5" fill="#f65b5b"/>
<rect x="145.8" y="580.6" width="66.6" height="4.7" fill="#f54848"/>
<rect x="145.8" y="585" width="66.6" height="2.5" fill="#f55353"/>
<rect x="145.8" y="587.2" width="66.6" height="4.7" fill="#f65f5f"/>
<rect x="145.8" y="591.6" width="66.6" height="2.5" fill="#f54848"/>
<rect x="145.8" y="593.8" width="66.6" height="0.5" fill="#f54343"/>
<rect x="145.8" y="594" width="66.6" height="2.5" fill="#f32222"/>
<rect x="145.8" y="596.2" width="66.6" height="2.5" fill="#f32424"/>
<rect x="145.8" y="598.4" width="66.6" height="0.9" fill="#f32727"/>
<rect x="145.8" y="599" width="66.6" height="2.5" fill="#fef9f9"/>
<rect x="145.8" y="601.2" width="66.6" height="2.5" fill="#fdfdff"/>
<rect x="145.8" y="603.4" width="66.6" height="4.7" fill="#fefbfb"/>
<rect x="145.8" y="607.8" width="66.6" height="1.5" fill="#f4f4ff"/>
<rect x="145.8" y="609" width="66.6" height="2.5" fill="#9189ff"/>
<rect x="145.8" y="611.2" width="66.6" height="2.5" fill="#918aff"/>
<rect x="145.8" y="613.4" width="66.6" height="2.5" fill="#a6a0ff"/>
<rect x="145.8" y="615.6" width="66.6" height="2.5" fill="#b1abff"/>
<rect x="145.8" y="617.8" width="66.6" height="2.5" fill="#a7a1ff"/>
<rect x="145.8" y="620" width="66.6" height="2.5" fill="#9891ff"/>
<rect x="145.8" y="622.2" width="66.6" height="2.5" fill="#7d75ff"/>
<rect x="145.8" y="624.4" width="66.6" height="6.9" fill="#9f98ff"/>
<rect x="145.8" y="631" width="66.6" height="2.5" fill="#bab5ff"/>
<rect x="145.8" y="633.2" width="66.6" height="2.5" fill="#9a94ff"/>
<rect x="145.8" y="635.4" width="66.6" height="2.5" fill="#867eff"/>
<rect x="145.8" y="637.6" width="66.6" height="2.5" fill="#8e87ff"/>
<rect x="145.8" y="639.8" width="66.6" height="2.5" fill="#857dff"/>
<rect x="145.8" y="642" width="66.6" height="6.9" fill="#b1acff"/>
<rect x="145.8" y="648.6" width="66.6" height="2.5" fill="#a49eff"/>
<rect x="145.8" y="650.8" width="66.6" height="4.7" fill="#9b94ff"/>
<rect x="145.8" y="655.2" width="66.6" height="2.5" fill="#6358ff"/>
<rect x="145.8" y="657.4" width="66.6" height="2.5" fill="#a59fff"/>
<rect x="145.8" y="659.6" width="66.6" height="4.7" fill="#776eff"/>
<rect x="145.8" y="664" width="66.6" height="2.5" fill="#8a82ff"/>
<rect x="145.8" y="666.2" width="66.6" height="6.9" fill="#877fff"/>
<rect x="145.8" y="672.8" width="66.6" height="2.5" fill="#9f99ff"/>
<rect x="145.8" y="675" width="66.6" height="4.7" fill="#867eff"/>
<rect x="145.8" y="679.4" width="66.6" height="2.5" fill="#9992ff"/>
<rect x="145.8" y="681.6" width="66.6" height="6.9" fill="#a49eff"/>
<rect x="145.8" y="688.2" width="66.6" height="4.7" fill="#928bff"/>
<rect x="145.8" y="692.6" width="66.6" height="4.7" fill="#8981ff"/>
<rect x="145.8" y="697" width="66.6" height="3.3" fill="#8a82ff"/>
<rect x="145.8" y="700" width="66.6" height="2.5" fill="#9189ff"/>
<rect x="145.8" y="702.2" width="66.6" height="4.7" fill="#9089ff"/>
<rect x="145.8" y="706.6" width="66.6" height="6.9" fill="#9a93ff"/>
<rect x="145.8" y="713.2" width="66.6" height="2.5" fill="#948dff"/>
<rect x="145.8" y="715.4" width="66.6" height="2.5" fill="#8982ff"/>
<rect x="145.8" y="717.6" width="66.6" height="4.7" fill="#a49eff"/>
<rect x="145.8" y="722" width="66.6" height="2.5" fill="#958eff"/>
<rect x="145.8" y="724.2" width="66.6" height="2.5" fill="#9a94ff"/>
<rect x="145.8" y="726.4" width="66.6" height="2.5" fill="#9992ff"/>
<rect x="145.8" y="728.6" width="66.6" height="2.5" fill="#958eff"/>
<rect x="145.8" y="730.8" width="66.6" height="2.5" fill="#aca6ff"/>
<rect x="145.8" y="733" width="66.6" height="2.5" fill="#948dff"/>
<rect x="145.8" y="735.2" width="66.6" height="2.5" fill="#9d96ff"/>
<rect x="145.8" y="737.4" width="66.6" height="4.7" fill="#9f99ff"/>
<rect x="145.8" y="741.8" width="66.6" height="2.5" fill="#aaa4ff"/>
<rect x="145.8" y="744" width="66.6" height="6.9" fill="#7970ff"/>
<rect x="145.8" y="750.6" width="66.6" height="4.7" fill="#8b83ff"/>
<rect x="145.8" y="755" width="66.6" height="2.5" fill="#847bff"/>
<rect x="145.8" y="757.2" width="66.6" height="2.5" fill="#948dff"/>
<rect x="145.8" y="759.4" width="66.6" height="6.9" fill="#6f66ff"/>
<rect x="145.8" y="766" width="66.6" height="4.7" fill="#8880ff"/>
<rect x="145.8" y="770.4" width="66.6" height="0.9" fill="#8a83ff"/>
<rect x="145.8" y="771" width="66.6" height="2.5" fill="#5f54ff"/>
<rect x="145.8" y="773.2" width="66.6" height="2.1" fill="#685eff"/>
<rect x="145.8" y="775" width="66.6" height="2.5" fill="#8f87ff"/>
<rect x="145.8" y="777.2" width="66.6" height="2.5" fill="#8d85ff"/>
<rect x="145.8" y="779.4" width="66.6" height="2.5" fill="#8a82ff"/>
<rect x="145.8" y="781.6" width="66.6" height="4.7" fill="#a19bff"/>
<rect x="145.8" y="786" width="66.6" height="2.5" fill="#8a82ff"/>
<rect x="145.8" y="788.2" width="66.6" height="6.9" fill="#786fff"/>
<rect x="145.8" y="794.8" width="66.6" height="2.1" fill="#a29cff"/>
<rect x="145.8" y="796.6" width="66.6" height="2.5" fill="#c4c0ff"/>
<rect x="145.8" y="798.8" width="66.6" height="2.5" fill="#bab5ff"/>
<rect x="145.8" y="801" width="66.6" height="2.5" fill="#a19bff"/>
<rect x="145.8" y="803.2" width="66.6" height="2.5" fill="#9c96ff"/>
<rect x="145.8" y="805.4" width="66.6" height="2.5" fill="#b9b5ff"/>
<rect x="145.8" y="807.6" width="66.6" height="2.5" fill="#c1bdff"/>
<rect x="145.8" y="809.8" width="66.6" height="2" fill="#cecaff"/>
<rect x="145.8" y="811.5" width="66.6" height="2.5" fill="#b4b0ff"/>
<rect x="145.8" y="813.7" width="66.6" height="2.5" fill="#9d97ff"/>
<rect x="145.8" y="815.9" width="66.6" height="6.9" fill="#9992ff"/>
<rect x="145.8" y="822.5" width="66.6" height="2.5" fill="#a19bff"/>
<rect x="145.8" y="824.7" width="66.6" height="4.7" fill="#9d96ff"/>
<rect x="145.8" y="829.1" width="66.6" height="2.5" fill="#a7a1ff"/>
<rect x="145.8" y="831.3" width="66.6" height="2.5" fill="#8d86ff"/>
<rect x="145.8" y="833.5" width="66.6" height="2.5" fill="#9d96ff"/>
<rect x="145.8" y="835.7" width="66.6" height="2.5" fill="#948dff"/>
<rect x="145.8" y="837.9" width="66.6" height="6.9" fill="#aba6ff"/>
<rect x="145.8" y="844.5" width="66.6" height="2.5" fill="#a39cff"/>
<rect x="145.8" y="846.7" width="66.6" height="2.5" fill="#8179ff"/>
<rect x="145.8" y="848.9" width="66.6" height="2.5" fill="#8e86ff"/>
<rect x="145.8" y="851.1" width="66.6" height="2.5" fill="#8d85ff"/>
<rect x="145.8" y="853.3" width="66.6" height="2.5" fill="#a19bff"/>
<rect x="145.8" y="855.5" width="66.6" height="2.5" fill="#aaa4ff"/>
<rect x="145.8" y="857.7" width="66.6" height="2.5" fill="#928bff"/>
<rect x="145.8" y="859.9" width="66.6" height="2.5" fill="#9a94ff"/>
<rect x="145.8" y="862.1" width="66.6" height="6.9" fill="#9790ff"/>
<rect x="145.8" y="868.7" width="66.6" height="4.7" fill="#8880ff"/>
<rect x="145.8" y="873.1" width="66.6" height="2.5" fill="#7d74ff"/>
<rect x="145.8" y="875.3" width="66.6" height="6.9" fill="#776eff"/>
<rect x="145.8" y="881.9" width="66.6" height="6.9" fill="#9d97ff"/>
<rect x="145.8" y="888.5" width="66.6" height="6.9" fill="#867eff"/>
<rect x="145.8" y="895.1" width="66.6" height="2.5" fill="#958eff"/>
<rect x="145.8" y="897.3" width="66.6" height="4.7" fill="#9790ff"/>
<rect x="145.8" y="901.7" width="66.6" height="3" fill="#766dff"/>
<rect x="212" y="101.5" width="66.6" height="2.5" fill="#f88484"/>
<rect x="212" y="103.7" width="66.6" height="6.5" fill="#f99090"/>
<rect x="212" y="109.9" width="66.6" height="4.7" fill="#f76f6f"/>
<rect x="212" y="114.3" width="66.6" height="2.5" fill="#f9a0a0"/>
<rect x="212" y="116.5" width="66.6" height="4.7" fill="#f99a9a"/>
<rect x="212" y="120.9" width="66.6" height="2.5" fill="#f99494"/>
<rect x="212" y="123.1" width="66.6" height="2.5" fill="#f99999"/>
<rect x="212" y="125.3" width="66.6" height="2.5" fill="#f88989"/>
<rect x="212" y="127.5" width="66.6" height="2.5" fill="#fbb4b4"/>
<rect x="212" y="129.7" width="66.6" height="2.5" fill="#f99f9f"/>
<rect x="212" y="131.9" width="66.6" height="4.7" fill="#f88c8c"/>
<rect x="212" y="136.3" width="66.6" height="2.5" fill="#f99a9a"/>
<rect x="212" y="138.5" width="66.6" height="2.5" fill="#f77575"/>
<rect x="212" y="140.7" width="66.6" height="4.1" fill="#f87e7e"/>
<rect x="212" y="144.5" width="66.6" height="2.5" fill="#fab2b2"/>
<rect x="212" y="146.7" width="66.6" height="4.7" fill="#faa6a6"/>
<rect x="212" y="151.1" width="66.6" height="2.5" fill="#fbc0c0"/>
<rect x="212" y="153.3" width="66.6" height="2.5" fill="#fcc8c8"/>
<rect x="212" y="155.5" width="66.6" height="2.5" fill="#faa3a3"/>
<rect x="212" y="157.7" width="66.6" height="2.5" fill="#fbbfbf"/>
<rect x="212" y="159.9" width="66.6" height="2.5" fill="#faa6a6"/>
<rect x="212" y="162.1" width="66.6" height="2.5" fill="#fccaca"/>
<rect x="212" y="164.3" width="66.6" height="0.4" fill="#fdd9d9"/>
<rect x="212" y="164.4" width="66.6" height="6.9" fill="#eeecff"/>
<rect x="212" y="171" width="66.6" height="1.1" fill="#e5e3ff"/>
<rect x="212" y="171.8" width="66.6" height="2.5" fill="#f99d9d"/>
<rect x="212" y="174" width="66.6" height="2.5" fill="#faa8a8"/>
<rect x="212" y="176.2" width="66.6" height="2.5" fill="#fbc5c5"/>
<rect x="212" y="178.4" width="66.6" height="2.5" fill="#fbb5b5"/>
<rect x="212" y="180.6" width="66.6" height="2.5" fill="#fbc0c0"/>
<rect x="212" y="182.8" width="66.6" height="2.5" fill="#faaeae"/>
<rect x="212" y="185" width="66.6" height="6.9" fill="#f99090"/>
<rect x="212" y="191.6" width="66.6" height="4.7" fill="#f99191"/>
<rect x="212" y="196" width="66.6" height="2.5" fill="#f99595"/>
<rect x="212" y="198.2" width="66.6" height="2.5" fill="#f99898"/>
<rect x="212" y="200.4" width="66.6" height="2.5" fill="#fcd1d1"/>
<rect x="212" y="202.6" width="66.6" height="6.9" fill="#f98d8d"/>
<rect x="212" y="209.2" width="66.6" height="2.5" fill="#f88282"/>
<rect x="212" y="211.4" width="66.6" height="2.5" fill="#f9a0a0"/>
<rect x="212" y="213.6" width="66.6" height="2.5" fill="#f88383"/>
<rect x="212" y="215.8" width="66.6" height="2.5" fill="#fab1b1"/>
<rect x="212" y="218" width="66.6" height="2.5" fill="#faaaaa"/>
<rect x="212" y="220.2" width="66.6" height="6.9" fill="#fab2b2"/>
<rect x="212" y="226.8" width="66.6" height="2.5" fill="#fddede"/>
<rect x="212" y="229" width="66.6" height="2.5" fill="#faaeae"/>
<rect x="212" y="231.2" width="66.6" height="2.5" fill="#faafaf"/>
<rect x="212" y="233.4" width="66.6" height="0.6" fill="#faa2a2"/>
<rect x="212" y="233.7" width="66.6" height="6.9" fill="#feeded"/>
<rect x="212" y="240.3" width="66.6" height="2.5" fill="#e3e1ff"/>
<rect x="212" y="242.5" width="66.6" height="2.5" fill="#fde2e2"/>
<rect x="212" y="244.7" width="66.6" height="2.5" fill="#ecebff"/>
<rect x="212" y="246.9" width="66.6" height="6.9" fill="#f6f6ff"/>
<rect x="212" y="253.5" width="66.6" height="2.5" fill="#f6f5ff"/>
<rect x="212" y="255.7" width="66.6" height="2.5" fill="#feeeee"/>
<rect x="212" y="257.9" width="66.6" height="2.5" fill="#fde2e2"/>
<rect x="212" y="260.1" width="66.6" height="2.5" fill="#fef6f6"/>
<rect x="212" y="262.3" width="66.6" height="1.4" fill="#fde5e5"/>
<rect x="212" y="263.4" width="66.6" height="2.5" fill="#fccdcd"/>
<rect x="212" y="265.6" width="66.6" height="2.5" fill="#faaeae"/>
<rect x="212" y="267.8" width="66.6" height="2.5" fill="#faafaf"/>
<rect x="212" y="270" width="66.6" height="6.9" fill="#fbbebe"/>
<rect x="212" y="276.6" width="66.6" height="2.5" fill="#fcd5d5"/>
<rect x="212" y="278.8" width="66.6" height="2.5" fill="#fbc4c4"/>
<rect x="212" y="281" width="66.6" height="2.5" fill="#fcd8d8"/>
<rect x="212" y="283.2" width="66.6" height="2.5" fill="#fde2e2"/>
<rect x="212" y="285.4" width="66.6" height="2.9" fill="#fbc4c4"/>
<rect x="212" y="288" width="66.6" height="2.5" fill="#f7f6ff"/>
<rect x="212" y="290.2" width="66.6" height="6.9" fill="#fdebeb"/>
<rect x="212" y="296.8" width="66.6" height="3.5" fill="#f1f0ff"/>
<rect x="212" y="300" width="66.6" height="2.5" fill="#edecff"/>
<rect x="212" y="302.2" width="66.6" height="2.5" fill="#fef6f6"/>
<rect x="212" y="304.4" width="66.6" height="2.5" fill="#fde9e9"/>
<rect x="212" y="306.6" width="66.6" height="2.5" fill="#ecebff"/>
<rect x="212" y="308.8" width="66.6" height="2.5" fill="#feeded"/>
<rect x="212" y="311" width="66.6" height="2.5" fill="#f0efff"/>
<rect x="212" y="313.2" width="66.6" height="2.5" fill="#fcfcff"/>
<rect x="212" y="315.4" width="66.6" height="2.5" fill="#fde0e0"/>
<rect x="212" y="317.6" width="66.6" height="6.2" fill="#fef2f2"/>
<rect x="212" y="323.5" width="66.6" height="6.9" fill="#f66565"/>
<rect x="212" y="330.1" width="66.6" height="4.7" fill="#f77676"/>
<rect x="212" y="334.5" width="66.6" height="2.5" fill="#f65e5e"/>
<rect x="212" y="336.7" width="66.6" height="2.5" fill="#f66060"/>
<rect x="212" y="338.9" width="66.6" height="5.4" fill="#f77676"/>
<rect x="212" y="344" width="66.6" height="2.5" fill="#f65858"/>
<rect x="212" y="346.2" width="66.6" height="4.7" fill="#f54646"/>
<rect x="212" y="350.6" width="66.6" height="6.9" fill="#f65c5c"/>
<rect x="212" y="357.2" width="66.6" height="4.7" fill="#f54f4f"/>
<rect x="212" y="361.6" width="66.6" height="2.5" fill="#f65858"/>
<rect x="212" y="363.8" width="66.6" height="2.5" fill="#f65a5a"/>
<rect x="212" y="366" width="66.6" height="4.7" fill="#f54444"/>
<rect x="212" y="370.4" width="66.6" height="1.9" fill="#f55454"/>
<rect x="212" y="372" width="66.6" height="6.9" fill="#f76e6e"/>
<rect x="212" y="378.6" width="66.6" height="2.5" fill="#f65c5c"/>
<rect x="212" y="380.8" width="66.6" height="2.5" fill="#f88585"/>
<rect x="212" y="383" width="66.6" height="2.5" fill="#f77373"/>
<rect x="212" y="385.2" width="66.6" height="2.5" fill="#f88383"/>
<rect x="212" y="387.4" width="66.6" height="2.5" fill="#f77272"/>
<rect x="212" y="389.6" width="66.6" height="2.5" fill="#f55151"/>
<rect x="212" y="391.8" width="66.6" height="2.5" fill="#f55252"/>
<rect x="212" y="394" width="66.6" height="4.7" fill="#f99797"/>
<rect x="212" y="398.4" width="66.6" height="6.9" fill="#f65555"/>
<rect x="212" y="405" width="66.6" height="2.5" fill="#f65b5b"/>
<rect x="212" y="407.2" width="66.6" height="2.5" fill="#f88c8c"/>
<rect x="212" y="409.4" width="66.6" height="2.5" fill="#f99999"/>
<rect x="212" y="411.6" width="66.6" height="6.9" fill="#f65a5a"/>
<rect x="212" y="418.2" width="66.6" height="1.1" fill="#f77979"/>
<rect x="212" y="419" width="66.6" height="4.7" fill="#f88989"/>
<rect x="212" y="423.4" width="66.6" height="6.9" fill="#f88383"/>
<rect x="212" y="430" width="66.6" height="6.9" fill="#f88787"/>
<rect x="212" y="436.6" width="66.6" height="2.5" fill="#f87b7b"/>
<rect x="212" y="438.8" width="66.6" height="2.5" fill="#f88989"/>
<rect x="212" y="441" width="66.6" height="2.5" fill="#f88080"/>
<rect x="212" y="443.2" width="66.6" height="2.5" fill="#f87e7e"/>
<rect x="212" y="445.4" width="66.6" height="2.5" fill="#f87f7f"/>
<rect x="212" y="447.6" width="66.6" height="6.9" fill="#f88484"/>
<rect x="212" y="454.2" width="66.6" height="2.5" fill="#f77070"/>
<rect x="212" y="456.4" width="66.6" height="4.7" fill="#f66565"/>
<rect x="212" y="460.8" width="66.6" height="0.5" fill="#f99494"/>
<rect x="212" y="461" width="66.6" height="2.5" fill="#f43a3a"/>
<rect x="212" y="463.2" width="66.6" height="2.5" fill="#f32828"/>
<rect x="212" y="465.4" width="66.6" height="2.5" fill="#f31d1d"/>
<rect x="212" y="467.6" width="66.6" height="2.5" fill="#f32e2e"/>
<rect x="212" y="469.8" width="66.6" height="2.5" fill="#f54a4a"/>
<rect x="212" y="472" width="66.6" height="4.7" fill="#f43232"/>
<rect x="212" y="476.4" width="66.6" height="2.5" fill="#f32c2c"/>
<rect x="212" y="478.6" width="66.6" height="6.9" fill="#f31f1f"/>
<rect x="212" y="485.2" width="66.6" height="2.5" fill="#f32c2c"/>
<rect x="212" y="487.4" width="66.6" height="2.5" fill="#f32020"/>
<rect x="212" y="489.6" width="66.6" height="4.7" fill="#f32424"/>
<rect x="212" y="494" width="66.6" height="1.3" fill="#f43131"/>
<rect x="212" y="495" width="66.6" height="4.7" fill="#f31c1c"/>
<rect x="212" y="499.4" width="66.6" height="0.9" fill="#f32121"/>
<rect x="212" y="500" width="66.6" height="9.1" fill="#f31c1c"/>
<rect x="212" y="508.8" width="66.6" height="4.7" fill="#f32222"/>
<rect x="212" y="513.2" width="66.6" height="0.7" fill="#f31c1c"/>
<rect x="212" y="513.6" width="66.6" height="2.5" fill="#f76d6d"/>
<rect x="212" y="515.8" width="66.6" height="2.5" fill="#f77676"/>
<rect x="212" y="518" width="66.6" height="2.5" fill="#f87f7f"/>
<rect x="212" y="520.2" width="66.6" height="6.9" fill="#f77171"/>
<rect x="212" y="526.8" width="66.6" height="2.5" fill="#f65959"/>
<rect x="212" y="529" width="66.6" height="2.5" fill="#f76c6c"/>
<rect x="212" y="531.2" width="66.6" height="2.5" fill="#f88989"/>
<rect x="212" y="533.4" width="66.6" height="2.5" fill="#faa7a7"/>
<rect x="212" y="535.6" width="66.6" height="2.5" fill="#f77878"/>
<rect x="212" y="537.8" width="66.6" height="6.9" fill="#f77272"/>
<rect x="212" y="544.4" width="66.6" height="5.4" fill="#f76a6a"/>
<rect x="212" y="549.5" width="66.6" height="2.5" fill="#f54d4d"/>
<rect x="212" y="551.7" width="66.6" height="2.5" fill="#f54646"/>
<rect x="212" y="553.9" width="66.6" height="2.5" fill="#f54b4b"/>
<rect x="212" y="556.1" width="66.6" height="2.5" fill="#f54848"/>
<rect x="212" y="558.3" width="66.6" height="2.5" fill="#f54a4a"/>
<rect x="212" y="560.5" width="66.6" height="1.8" fill="#f43d3d"/>
<rect x="212" y="562" width="66.6" height="2.5" fill="#f99898"/>
<rect x="212" y="564.2" width="66.6" height="2.5" fill="#f88080"/>
<rect x="212" y="566.4" width="66.6" height="2.5" fill="#faabab"/>
<rect x="212" y="568.6" width="66.6" height="2.5" fill="#f99999"/>
<rect x="212" y="570.8" width="66.6" height="2.5" fill="#fbb9b9"/>
<rect x="212" y="573" width="66.6" height="2.5" fill="#fccbcb"/>
<rect x="212" y="575.2" width="66.6" height="2.5" fill="#fdebeb"/>
<rect x="212" y="577.4" width="66.6" height="4.6" fill="#fbb3b3"/>
<rect x="212" y="581.7" width="66.6" height="2.5" fill="#f66464"/>
<rect x="212" y="583.9" width="66.6" height="2.5" fill="#f87b7b"/>
<rect x="212" y="586.1" width="66.6" height="2.5" fill="#f88787"/>
<rect x="212" y="588.3" width="66.6" height="2.5" fill="#f87b7b"/>
<rect x="212" y="590.5" width="66.6" height="2.5" fill="#f88181"/>
<rect x="212" y="592.7" width="66.6" height="2.5" fill="#f88989"/>
<rect x="212" y="594.9" width="66.6" height="2" fill="#f99090"/>
<rect x="212" y="596.6" width="66.6" height="2.7" fill="#cfccff"/>
<rect x="212" y="599" width="66.6" height="2.5" fill="#928bff"/>
<rect x="212" y="601.2" width="66.6" height="2.5" fill="#776eff"/>
<rect x="212" y="603.4" width="66.6" height="2.5" fill="#a6a0ff"/>
<rect x="212" y="605.6" width="66.6" height="3.7" fill="#a39dff"/>
<rect x="212" y="609" width="66.6" height="4.7" fill="#dedbff"/>
<rect x="212" y="613.4" width="66.6" height="3.3" fill="#e7e6ff"/>
<rect x="212" y="616.4" width="66.6" height="6.9" fill="#a19bff"/>
<rect x="212" y="623" width="66.6" height="2.5" fill="#bab6ff"/>
<rect x="212" y="625.2" width="66.6" height="2.5" fill="#9089ff"/>
<rect x="212" y="627.4" width="66.6" height="2.5" fill="#948cff"/>
<rect x="212" y="629.6" width="66.6" height="2.5" fill="#a6a0ff"/>
<rect x="212" y="631.8" width="66.6" height="4.7" fill="#9d97ff"/>
<rect x="212" y="636.2" width="66.6" height="2.5" fill="#9089ff"/>
<rect x="212" y="638.4" width="66.6" height="2.5" fill="#bcb7ff"/>
<rect x="212" y="640.6" width="66.6" height="4.7" fill="#a8a2ff"/>
<rect x="212" y="645" width="66.6" height="6.9" fill="#857dff"/>
<rect x="212" y="651.6" width="66.6" height="2.5" fill="#a29cff"/>
<rect x="212" y="653.8" width="66.6" height="2.5" fill="#9a93ff"/>
<rect x="212" y="656" width="66.6" height="2.5" fill="#847cff"/>
<rect x="212" y="658.2" width="66.6" height="6.9" fill="#928bff"/>
<rect x="212" y="664.8" width="66.6" height="6.9" fill="#9992ff"/>
<rect x="212" y="671.4" width="66.6" height="2.5" fill="#9089ff"/>
<rect x="212" y="673.6" width="66.6" height="6.9" fill="#776eff"/>
<rect x="212" y="680.2" width="66.6" height="2.5" fill="#a6a0ff"/>
<rect x="212" y="682.4" width="66.6" height="4.7" fill="#7970ff"/>
<rect x="212" y="686.8" width="66.6" height="2.5" fill="#8e87ff"/>
<rect x="212" y="689" width="66.6" height="4.7" fill="#8880ff"/>
<rect x="212" y="693.4" width="66.6" height="2.5" fill="#9f98ff"/>
<rect x="212" y="695.6" width="66.6" height="4.7" fill="#bbb6ff"/>
<rect x="212" y="700" width="66.6" height="2.5" fill="#8981ff"/>
<rect x="212" y="702.2" width="66.6" height="4.7" fill="#827aff"/>
<rect x="212" y="706.6" width="66.6" height="1.1" fill="#8178ff"/>
<rect x="212" y="707.4" width="66.6" height="2.5" fill="#c1bdff"/>
<rect x="212" y="709.6" width="66.6" height="2.5" fill="#958eff"/>
<rect x="212" y="711.8" width="66.6" height="2.5" fill="#b9b4ff"/>
<rect x="212" y="714" width="66.6" height="2.5" fill="#b5b1ff"/>
<rect x="212" y="716.2" width="66.6" height="2.5" fill="#9e98ff"/>
<rect x="212" y="718.4" width="66.6" height="2.5" fill="#b9b4ff"/>
<rect x="212" y="720.6" width="66.6" height="2.5" fill="#e5e3ff"/>
<rect x="212" y="722.8" width="66.6" height="2.5" fill="#a9a3ff"/>
<rect x="212" y="725" width="66.6" height="4.7" fill="#c1bdff"/>
<rect x="212" y="729.4" width="66.6" height="2.5" fill="#d6d3ff"/>
<rect x="212" y="731.6" width="66.6" height="0.9" fill="#b1acff"/>
<rect x="212" y="732.2" width="66.6" height="6.9" fill="#b2adff"/>
<rect x="212" y="738.8" width="66.6" height="2.5" fill="#b4afff"/>
<rect x="212" y="741" width="66.6" height="2.5" fill="#c7c4ff"/>
<rect x="212" y="743.2" width="66.6" height="2.5" fill="#afaaff"/>
<rect x="212" y="745.4" width="66.6" height="2.5" fill="#b3aeff"/>
<rect x="212" y="747.6" width="66.6" height="2.5" fill="#c8c4ff"/>
<rect x="212" y="749.8" width="66.6" height="2.5" fill="#cdcaff"/>
<rect x="212" y="752" width="66.6" height="6.9" fill="#c1bdff"/>
<rect x="212" y="758.6" width="66.6" height="2.5" fill="#bbb6ff"/>
<rect x="212" y="760.8" width="66.6" height="2.5" fill="#a8a2ff"/>
<rect x="212" y="763" width="66.6" height="2.5" fill="#ada7ff"/>
<rect x="212" y="765.2" width="66.6" height="2.5" fill="#c0bcff"/>
<rect x="212" y="767.4" width="66.6" height="2.3" fill="#b9b4ff"/>
<rect x="212" y="769.4" width="66.6" height="4.7" fill="#fefcfc"/>
<rect x="212" y="773.8" width="66.6" height="0.8" fill="#fefefe"/>
<rect x="212" y="774.3" width="66.6" height="2.5" fill="#a39dff"/>
<rect x="212" y="776.5" width="66.6" height="4.7" fill="#8b83ff"/>
<rect x="212" y="780.9" width="66.6" height="4.7" fill="#928aff"/>
<rect x="212" y="785.3" width="66.6" height="2.5" fill="#776eff"/>
<rect x="212" y="787.5" width="66.6" height="6.8" fill="#8b83ff"/>
<rect x="212" y="794" width="66.6" height="6.9" fill="#6e64ff"/>
<rect x="212" y="800.6" width="66.6" height="2.5" fill="#766dff"/>
<rect x="212" y="802.8" width="66.6" height="4.7" fill="#6358ff"/>
<rect x="212" y="807.2" width="66.6" height="2.5" fill="#695fff"/>
<rect x="212" y="809.4" width="66.6" height="2.5" fill="#7a71ff"/>
<rect x="212" y="811.6" width="66.6" height="2.5" fill="#6056ff"/>
<rect x="212" y="813.8" width="66.6" height="2.5" fill="#665bff"/>
<rect x="212" y="816" width="66.6" height="0.7" fill="#564aff"/>
<rect x="212" y="816.4" width="66.6" height="6.9" fill="#9b94ff"/>
<rect x="212" y="823" width="66.6" height="2.5" fill="#9088ff"/>
<rect x="212" y="825.2" width="66.6" height="2.5" fill="#b9b5ff"/>
<rect x="212" y="827.4" width="66.6" height="2.5" fill="#c6c2ff"/>
<rect x="212" y="829.6" width="66.6" height="2.5" fill="#a19bff"/>
<rect x="212" y="831.8" width="66.6" height="2.5" fill="#8078ff"/>
<rect x="212" y="834" width="66.6" height="2.5" fill="#c5c1ff"/>
<rect x="212" y="836.2" width="66.6" height="4.7" fill="#9e98ff"/>
<rect x="212" y="840.6" width="66.6" height="2.5" fill="#aaa5ff"/>
<rect x="212" y="842.8" width="66.6" height="1.2" fill="#9088ff"/>
<rect x="212" y="843.7" width="66.6" height="2.5" fill="#bcb7ff"/>
<rect x="212" y="845.9" width="66.6" height="2.5" fill="#b6b2ff"/>
<rect x="212" y="848.1" width="66.6" height="2.5" fill="#b8b3ff"/>
<rect x="212" y="850.3" width="66.6" height="2.5" fill="#c4c0ff"/>
<rect x="212" y="852.5" width="66.6" height="2.5" fill="#cbc7ff"/>
<rect x="212" y="854.7" width="66.6" height="4.7" fill="#cbc8ff"/>
<rect x="212" y="859.1" width="66.6" height="2.2" fill="#aaa4ff"/>
<rect x="212" y="861" width="66.6" height="2.5" fill="#a29bff"/>
<rect x="212" y="863.2" width="66.6" height="6.9" fill="#928aff"/>
<rect x="212" y="869.8" width="66.6" height="4.7" fill="#9a94ff"/>
<rect x="212" y="874.2" width="66.6" height="6.9" fill="#8880ff"/>
<rect x="212" y="880.8" width="66.6" height="2.5" fill="#b5b0ff"/>
<rect x="212" y="883" width="66.6" height="2.5" fill="#9b94ff"/>
<rect x="212" y="885.2" width="66.6" height="4.7" fill="#8f88ff"/>
<rect x="212" y="889.6" width="66.6" height="2.5" fill="#a6a0ff"/>
<rect x="212" y="891.8" width="66.6" height="2.5" fill="#968fff"/>
<rect x="212" y="894" width="66.6" height="2.5" fill="#9892ff"/>
<rect x="212" y="896.2" width="66.6" height="2.5" fill="#a7a2ff"/>
<rect x="212" y="898.4" width="66.6" height="2.5" fill="#9e98ff"/>
<rect x="212" y="900.6" width="66.6" height="2.5" fill="#8d85ff"/>
<rect x="212" y="902.8" width="66.6" height="1.9" fill="#9891ff"/>
<rect x="278.2" y="101.5" width="66.6" height="2.5" fill="#c8c5ff"/>
<rect x="278.2" y="103.7" width="66.6" height="2.5" fill="#b0aaff"/>
<rect x="278.2" y="105.9" width="66.6" height="2.5" fill="#a6a0ff"/>
<rect x="278.2" y="108.1" width="66.6" height="2.5" fill="#b8b4ff"/>
<rect x="278.2" y="110.3" width="66.6" height="4.7" fill="#ada8ff"/>
<rect x="278.2" y="114.7" width="66.6" height="2.5" fill="#b3aeff"/>
<rect x="278.2" y="116.9" width="66.6" height="4.7" fill="#b9b4ff"/>
<rect x="278.2" y="121.3" width="66.6" height="2.5" fill="#b2adff"/>
<rect x="278.2" y="123.5" width="66.6" height="2.5" fill="#c9c6ff"/>
<rect x="278.2" y="125.7" width="66.6" height="2.5" fill="#beb9ff"/>
<rect x="278.2" y="127.9" width="66.6" height="2.1" fill="#b3aeff"/>
<rect x="278.2" y="129.7" width="66.6" height="2.5" fill="#827aff"/>
<rect x="278.2" y="131.9" width="66.6" height="2.5" fill="#7e75ff"/>
<rect x="278.2" y="134.1" width="66.6" height="6.9" fill="#7f77ff"/>
<rect x="278.2" y="140.7" width="66.6" height="2.5" fill="#958eff"/>
<rect x="278.2" y="142.9" width="66.6" height="4.7" fill="#746aff"/>
<rect x="278.2" y="147.3" width="66.6" height="2.5" fill="#7c73ff"/>
<rect x="278.2" y="149.5" width="66.6" height="2.5" fill="#877fff"/>
<rect x="278.2" y="151.7" width="66.6" height="6.9" fill="#847cff"/>
<rect x="278.2" y="158.3" width="66.6" height="4.7" fill="#8c84ff"/>
<rect x="278.2" y="162.7" width="66.6" height="2.5" fill="#9891ff"/>
<rect x="278.2" y="164.9" width="66.6" height="2.5" fill="#8d86ff"/>
<rect x="278.2" y="167.1" width="66.6" height="2.5" fill="#7b72ff"/>
<rect x="278.2" y="169.3" width="66.6" height="2.5" fill="#8a82ff"/>
<rect x="278.2" y="171.5" width="66.6" height="2.5" fill="#958eff"/>
<rect x="278.2" y="173.7" width="66.6" height="2.5" fill="#8a82ff"/>
<rect x="278.2" y="175.9" width="66.6" height="2.5" fill="#8077ff"/>
<rect x="278.2" y="178.1" width="66.6" height="2.5" fill="#a29cff"/>
<rect x="278.2" y="180.3" width="66.6" height="6.9" fill="#736aff"/>
<rect x="278.2" y="186.9" width="66.6" height="2.5" fill="#8c84ff"/>
<rect x="278.2" y="189.1" width="66.6" height="2.5" fill="#685eff"/>
<rect x="278.2" y="191.3" width="66.6" height="2.5" fill="#776eff"/>
<rect x="278.2" y="193.5" width="66.6" height="6.9" fill="#9a93ff"/>
<rect x="278.2" y="200.1" width="66.6" height="2.5" fill="#8d86ff"/>
<rect x="278.2" y="202.3" width="66.6" height="4.7" fill="#8d85ff"/>
<rect x="278.2" y="206.7" width="66.6" height="4.7" fill="#8a82ff"/>
<rect x="278.2" y="211.1" width="66.6" height="4.7" fill="#7066ff"/>
<rect x="278.2" y="215.5" width="66.6" height="2.5" fill="#9e98ff"/>
<rect x="278.2" y="217.7" width="66.6" height="2.5" fill="#837aff"/>
<rect x="278.2" y="219.9" width="66.6" height="4.7" fill="#7d74ff"/>
<rect x="278.2" y="224.3" width="66.6" height="2.5" fill="#847cff"/>
<rect x="278.2" y="226.5" width="66.6" height="2.5" fill="#8880ff"/>
<rect x="278.2" y="228.7" width="66.6" height="0.6" fill="#867eff"/>
<rect x="278.2" y="229" width="66.6" height="2.5" fill="#574cff"/>
<rect x="278.2" y="231.2" width="66.6" height="1.1" fill="#4235ff"/>
<rect x="278.2" y="232" width="66.6" height="4.7" fill="#8981ff"/>
<rect x="278.2" y="236.4" width="66.6" height="2.5" fill="#8e87ff"/>
<rect x="278.2" y="238.6" width="66.6" height="6.9" fill="#9f99ff"/>
<rect x="278.2" y="245.2" width="66.6" height="2.5" fill="#a6a1ff"/>
<rect x="278.2" y="247.4" width="66.6" height="6.9" fill="#9b94ff"/>
<rect x="278.2" y="254" width="66.6" height="2.5" fill="#8d85ff"/>
<rect x="278.2" y="256.2" width="66.6" height="2.5" fill="#948dff"/>
<rect x="278.2" y="258.4" width="66.6" height="2.5" fill="#9189ff"/>
<rect x="278.2" y="260.6" width="66.6" height="4.7" fill="#847bff"/>
<rect x="278.2" y="265" width="66.6" height="6.9" fill="#938bff"/>
<rect x="278.2" y="271.6" width="66.6" height="2.5" fill="#958eff"/>
<rect x="278.2" y="273.8" width="66.6" height="2.5" fill="#8279ff"/>
<rect x="278.2" y="276" width="66.6" height="2.5" fill="#a29bff"/>
<rect x="278.2" y="278.2" width="66.6" height="2.5" fill="#857dff"/>
<rect x="278.2" y="280.4" width="66.6" height="6.9" fill="#968fff"/>
<rect x="278.2" y="287" width="66.6" height="6.9" fill="#827aff"/>
<rect x="278.2" y="293.6" width="66.6" height="2.5" fill="#8b83ff"/>
<rect x="278.2" y="295.8" width="66.6" height="2.5" fill="#8981ff"/>
<rect x="278.2" y="298" width="66.6" height="2.5" fill="#968fff"/>
<rect x="278.2" y="300.2" width="66.6" height="9.1" fill="#918aff"/>
<rect x="278.2" y="309" width="66.6" height="2.5" fill="#9790ff"/>
<rect x="278.2" y="311.2" width="66.6" height="4.7" fill="#857dff"/>
<rect x="278.2" y="315.6" width="66.6" height="2.5" fill="#9088ff"/>
<rect x="278.2" y="317.8" width="66.6" height="2.5" fill="#7c74ff"/>
<rect x="278.2" y="320" width="66.6" height="2.5" fill="#a29cff"/>
<rect x="278.2" y="322.2" width="66.6" height="2.5" fill="#776eff"/>
<rect x="278.2" y="324.4" width="66.6" height="2.5" fill="#8d85ff"/>
<rect x="278.2" y="326.6" width="66.6" height="6.9" fill="#9f99ff"/>
<rect x="278.2" y="333.2" width="66.6" height="4.7" fill="#8d85ff"/>
<rect x="278.2" y="337.6" width="66.6" height="2.5" fill="#a39dff"/>
<rect x="278.2" y="339.8" width="66.6" height="6.9" fill="#8981ff"/>
<rect x="278.2" y="346.4" width="66.6" height="2.5" fill="#847cff"/>
<rect x="278.2" y="348.6" width="66.6" height="2.5" fill="#9790ff"/>
<rect x="278.2" y="350.8" width="66.6" height="4.7" fill="#7c73ff"/>
<rect x="278.2" y="355.2" width="66.6" height="6.9" fill="#8880ff"/>
<rect x="278.2" y="361.8" width="66.6" height="2.5" fill="#7970ff"/>
<rect x="278.2" y="364" width="66.6" height="9.1" fill="#9891ff"/>
<rect x="278.2" y="372.8" width="66.6" height="2.5" fill="#8e87ff"/>
<rect x="278.2" y="375" width="66.6" height="2.5" fill="#9790ff"/>
<rect x="278.2" y="377.2" width="66.6" height="4.7" fill="#6f65ff"/>
<rect x="278.2" y="381.6" width="66.6" height="2.5" fill="#7b72ff"/>
<rect x="278.2" y="383.8" width="66.6" height="2.5" fill="#877fff"/>
<rect x="278.2" y="386" width="66.6" height="6.9" fill="#7f76ff"/>
<rect x="278.2" y="392.6" width="66.6" height="6.9" fill="#7268ff"/>
<rect x="278.2" y="399.2" width="66.6" height="2.5" fill="#a39dff"/>
<rect x="278.2" y="401.4" width="66.6" height="2.5" fill="#aba5ff"/>
<rect x="278.2" y="403.6" width="66.6" height="0.7" fill="#bab6ff"/>
<rect x="278.2" y="404" width="66.6" height="2.5" fill="#c9c6ff"/>
<rect x="278.2" y="406.2" width="66.6" height="2.5" fill="#eeedff"/>
<rect x="278.2" y="408.4" width="66.6" height="4.7" fill="#cecbff"/>
<rect x="278.2" y="412.8" width="66.6" height="6.9" fill="#d3d0ff"/>
<rect x="278.2" y="419.4" width="66.6" height="2.3" fill="#d6d3ff"/>
<rect x="278.2" y="421.4" width="66.6" height="6.9" fill="#9088ff"/>
<rect x="278.2" y="428" width="66.6" height="2.5" fill="#a29cff"/>
<rect x="278.2" y="430.2" width="66.6" height="4.7" fill="#9790ff"/>
<rect x="278.2" y="434.6" width="66.6" height="4.7" fill="#695fff"/>
<rect x="278.2" y="439" width="66.6" height="5" fill="#8c85ff"/>
<rect x="278.2" y="443.7" width="66.6" height="2.5" fill="#afaaff"/>
<rect x="278.2" y="445.9" width="66.6" height="4.7" fill="#c6c3ff"/>
<rect x="278.2" y="450.3" width="66.6" height="2.5" fill="#cac7ff"/>
<rect x="278.2" y="452.5" width="66.6" height="4.7" fill="#bab5ff"/>
<rect x="278.2" y="456.9" width="66.6" height="1.9" fill="#c7c3ff"/>
<rect x="278.2" y="458.5" width="66.6" height="2.5" fill="#8b83ff"/>
<rect x="278.2" y="460.7" width="66.6" height="6.9" fill="#8f88ff"/>
<rect x="278.2" y="467.3" width="66.6" height="4.7" fill="#918aff"/>
<rect x="278.2" y="471.7" width="66.6" height="4.7" fill="#9e97ff"/>
<rect x="278.2" y="476.1" width="66.6" height="2.5" fill="#8b83ff"/>
<rect x="278.2" y="478.3" width="66.6" height="2.5" fill="#9c95ff"/>
<rect x="278.2" y="480.5" width="66.6" height="2.5" fill="#b1acff"/>
<rect x="278.2" y="482.7" width="66.6" height="2.5" fill="#a099ff"/>
<rect x="278.2" y="484.9" width="66.6" height="6.9" fill="#9b95ff"/>
<rect x="278.2" y="491.5" width="66.6" height="4.7" fill="#9791ff"/>
<rect x="278.2" y="495.9" width="66.6" height="2.5" fill="#9d97ff"/>
<rect x="278.2" y="498.1" width="66.6" height="4.7" fill="#938bff"/>
<rect x="278.2" y="502.5" width="66.6" height="4.7" fill="#a19bff"/>
<rect x="278.2" y="506.9" width="66.6" height="2.5" fill="#968fff"/>
<rect x="278.2" y="509.1" width="66.6" height="4.7" fill="#8981ff"/>
<rect x="278.2" y="513.5" width="66.6" height="2.5" fill="#8f88ff"/>
<rect x="278.2" y="515.7" width="66.6" height="6.9" fill="#9891ff"/>
<rect x="278.2" y="522.3" width="66.6" height="2.5" fill="#8981ff"/>
<rect x="278.2" y="524.5" width="66.6" height="2.5" fill="#b4afff"/>
<rect x="278.2" y="526.7" width="66.6" height="4.7" fill="#6f65ff"/>
<rect x="278.2" y="531.1" width="66.6" height="2.5" fill="#9f99ff"/>
<rect x="278.2" y="533.3" width="66.6" height="2.5" fill="#7e75ff"/>
<rect x="278.2" y="535.5" width="66.6" height="2.5" fill="#a59fff"/>
<rect x="278.2" y="537.7" width="66.6" height="6.9" fill="#8c85ff"/>
<rect x="278.2" y="544.3" width="66.6" height="2.5" fill="#928bff"/>
<rect x="278.2" y="546.5" width="66.6" height="2.5" fill="#968fff"/>
<rect x="278.2" y="548.7" width="66.6" height="2.5" fill="#a39dff"/>
<rect x="278.2" y="550.9" width="66.6" height="2.5" fill="#9993ff"/>
<rect x="278.2" y="553.1" width="66.6" height="2.5" fill="#958eff"/>
<rect x="278.2" y="555.3" width="66.6" height="2.5" fill="#928bff"/>
<rect x="278.2" y="557.5" width="66.6" height="2.5" fill="#9d96ff"/>
<rect x="278.2" y="559.7" width="66.6" height="6.9" fill="#7a71ff"/>
<rect x="278.2" y="566.3" width="66.6" height="4.7" fill="#7d74ff"/>
<rect x="278.2" y="570.7" width="66.6" height="3.9" fill="#a39dff"/>
<rect x="278.2" y="574.3" width="66.6" height="2.5" fill="#dad8ff"/>
<rect x="278.2" y="576.5" width="66.6" height="6.9" fill="#b9b5ff"/>
<rect x="278.2" y="583.1" width="66.6" height="4.7" fill="#c3bfff"/>
<rect x="278.2" y="587.5" width="66.6" height="2.5" fill="#f7f7ff"/>
<rect x="278.2" y="589.7" width="66.6" height="2.5" fill="#b6b1ff"/>
<rect x="278.2" y="591.9" width="66.6" height="4.7" fill="#bcb7ff"/>
<rect x="278.2" y="596.3" width="66.6" height="0.6" fill="#aea9ff"/>
<rect x="278.2" y="596.6" width="66.6" height="2.5" fill="#b3aeff"/>
<rect x="278.2" y="598.8" width="66.6" height="0.5" fill="#a59fff"/>
<rect x="278.2" y="599" width="66.6" height="17.7" fill="#f31c1c"/>
<rect x="278.2" y="616.4" width="66.6" height="2.5" fill="#f99292"/>
<rect x="278.2" y="618.6" width="66.6" height="2.5" fill="#f88d8d"/>
<rect x="278.2" y="620.8" width="66.6" height="2.5" fill="#faa5a5"/>
<rect x="278.2" y="623" width="66.6" height="2.5" fill="#f88383"/>
<rect x="278.2" y="625.2" width="66.6" height="4.7" fill="#faafaf"/>
<rect x="278.2" y="629.6" width="66.6" height="2.5" fill="#f99797"/>
<rect x="278.2" y="631.8" width="66.6" height="2.5" fill="#f88282"/>
<rect x="278.2" y="634" width="66.6" height="2.5" fill="#fbb9b9"/>
<rect x="278.2" y="636.2" width="66.6" height="2.5" fill="#faa8a8"/>
<rect x="278.2" y="638.4" width="66.6" height="2.5" fill="#f77575"/>
<rect x="278.2" y="640.6" width="66.6" height="2.5" fill="#f87f7f"/>
<rect x="278.2" y="642.8" width="66.6" height="2.5" fill="#f99999"/>
<rect x="278.2" y="645" width="66.6" height="3.9" fill="#fbb6b6"/>
<rect x="278.2" y="648.6" width="66.6" height="4.7" fill="#fde0e0"/>
<rect x="278.2" y="653" width="66.6" height="2.5" fill="#fde5e5"/>
<rect x="278.2" y="655.2" width="66.6" height="2.5" fill="#fde7e7"/>
<rect x="278.2" y="657.4" width="66.6" height="2.5" fill="#fef8f8"/>
<rect x="278.2" y="659.6" width="66.6" height="1.7" fill="#fdebeb"/>
<rect x="278.2" y="661" width="66.6" height="6.9" fill="#f65c5c"/>
<rect x="278.2" y="667.6" width="66.6" height="2.5" fill="#f54343"/>
<rect x="278.2" y="669.8" width="66.6" height="4.7" fill="#f43535"/>
<rect x="278.2" y="674.2" width="66.6" height="9.1" fill="#f55353"/>
<rect x="278.2" y="683" width="66.6" height="2.5" fill="#f43737"/>
<rect x="278.2" y="685.2" width="66.6" height="6.9" fill="#f43838"/>
<rect x="278.2" y="691.8" width="66.6" height="4.7" fill="#f65656"/>
<rect x="278.2" y="696.2" width="66.6" height="4.1" fill="#f44141"/>
<rect x="278.2" y="700" width="66.6" height="2.5" fill="#f43b3b"/>
<rect x="278.2" y="702.2" width="66.6" height="2.5" fill="#f42f2f"/>
<rect x="278.2" y="704.4" width="66.6" height="2.5" fill="#f43f3f"/>
<rect x="278.2" y="706.6" width="66.6" height="6.1" fill="#f43d3d"/>
<rect x="278.2" y="712.4" width="66.6" height="4.7" fill="#f76b6b"/>
<rect x="278.2" y="716.8" width="66.6" height="4.7" fill="#f65858"/>
<rect x="278.2" y="721.2" width="66.6" height="4.7" fill="#f66060"/>
<rect x="278.2" y="725.6" width="66.6" height="2.5" fill="#f54c4c"/>
<rect x="278.2" y="727.8" width="66.6" height="2.5" fill="#f65e5e"/>
<rect x="278.2" y="730" width="66.6" height="2.5" fill="#f66060"/>
<rect x="278.2" y="732.2" width="66.6" height="4.7" fill="#f87d7d"/>
<rect x="278.2" y="736.6" width="66.6" height="2.5" fill="#f65959"/>
<rect x="278.2" y="738.8" width="66.6" height="4.7" fill="#f66161"/>
<rect x="278.2" y="743.2" width="66.6" height="2.5" fill="#f65b5b"/>
<rect x="278.2" y="745.4" width="66.6" height="6.9" fill="#f54949"/>
<rect x="278.2" y="752" width="66.6" height="2.5" fill="#f55454"/>
<rect x="278.2" y="754.2" width="66.6" height="2.5" fill="#f76e6e"/>
<rect x="278.2" y="756.4" width="66.6" height="2.5" fill="#f65959"/>
<rect x="278.2" y="758.6" width="66.6" height="2.5" fill="#f65d5d"/>
<rect x="278.2" y="760.8" width="66.6" height="6.9" fill="#f66464"/>
<rect x="278.2" y="767.4" width="66.6" height="2.5" fill="#f55252"/>
<rect x="278.2" y="769.6" width="66.6" height="2.5" fill="#f65d5d"/>
<rect x="278.2" y="771.8" width="66.6" height="4.7" fill="#f99393"/>
<rect x="278.2" y="776.2" width="66.6" height="2.5" fill="#fcd7d7"/>
<rect x="278.2" y="778.4" width="66.6" height="2.5" fill="#f99393"/>
<rect x="278.2" y="780.6" width="66.6" height="2.5" fill="#f88484"/>
<rect x="278.2" y="782.8" width="66.6" height="4.7" fill="#f88787"/>
<rect x="278.2" y="787.2" width="66.6" height="2.5" fill="#f87f7f"/>
<rect x="278.2" y="789.4" width="66.6" height="2.5" fill="#f88b8b"/>
<rect x="278.2" y="791.6" width="66.6" height="2.5" fill="#f98e8e"/>
<rect x="278.2" y="793.8" width="66.6" height="2.5" fill="#f99898"/>
<rect x="278.2" y="796" width="66.6" height="2.5" fill="#f98e8e"/>
<rect x="278.2" y="798.2" width="66.6" height="2.5" fill="#f88484"/>
<rect x="278.2" y="800.4" width="66.6" height="2.5" fill="#f99191"/>
<rect x="278.2" y="802.6" width="66.6" height="2.5" fill="#faa1a1"/>
<rect x="278.2" y="804.8" width="66.6" height="2.5" fill="#fbbbbb"/>
<rect x="278.2" y="807" width="66.6" height="2.3" fill="#f87a7a"/>
<rect x="278.2" y="809" width="66.6" height="4.7" fill="#f66464"/>
<rect x="278.2" y="813.4" width="66.6" height="6.9" fill="#f76b6b"/>
<rect x="278.2" y="820" width="66.6" height="2.5" fill="#f77474"/>
<rect x="278.2" y="822.2" width="66.6" height="6.9" fill="#f76b6b"/>
<rect x="278.2" y="828.8" width="66.6" height="2.5" fill="#f99494"/>
<rect x="278.2" y="831" width="66.6" height="4.7" fill="#f77979"/>
<rect x="278.2" y="835.4" width="66.6" height="2.5" fill="#f65f5f"/>
<rect x="278.2" y="837.6" width="66.6" height="6.9" fill="#f87d7d"/>
<rect x="278.2" y="844.2" width="66.6" height="2.5" fill="#f76e6e"/>
<rect x="278.2" y="846.4" width="66.6" height="2.5" fill="#f77070"/>
<rect x="278.2" y="848.6" width="66.6" height="2.5" fill="#f76767"/>
<rect x="278.2" y="850.8" width="66.6" height="2.5" fill="#f77171"/>
<rect x="278.2" y="853" width="66.6" height="4.7" fill="#f65d5d"/>
<rect x="278.2" y="857.4" width="66.6" height="2.5" fill="#f66565"/>
<rect x="278.2" y="859.6" width="66.6" height="2.5" fill="#f77373"/>
<rect x="278.2" y="861.8" width="66.6" height="2.5" fill="#f77171"/>
<rect x="278.2" y="864" width="66.6" height="2.5" fill="#f55353"/>
<rect x="278.2" y="866.2" width="66.6" height="6.9" fill="#f76969"/>
<rect x="278.2" y="872.8" width="66.6" height="6.9" fill="#f77070"/>
<rect x="278.2" y="879.4" width="66.6" height="4.7" fill="#f65f5f"/>
<rect x="278.2" y="883.8" width="66.6" height="2.5" fill="#f65c5c"/>
<rect x="278.2" y="886" width="66.6" height="4.7" fill="#f65858"/>
<rect x="278.2" y="890.4" width="66.6" height="2.5" fill="#f66262"/>
<rect x="278.2" y="892.6" width="66.6" height="4.7" fill="#f77676"/>
<rect x="278.2" y="897" width="66.6" height="2.5" fill="#f88b8b"/>
<rect x="278.2" y="899.2" width="66.6" height="2.5" fill="#f76a6a"/>
<rect x="278.2" y="901.4" width="66.6" height="2.5" fill="#f76b6b"/>
<rect x="278.2" y="903.6" width="66.6" height="1.1" fill="#f77272"/>
<rect x="344.5" y="101.5" width="66.6" height="2.5" fill="#766dff"/>
<rect x="344.5" y="103.7" width="66.6" height="2.5" fill="#9a94ff"/>
<rect x="344.5" y="105.9" width="66.6" height="2.5" fill="#756cff"/>
<rect x="344.5" y="108.1" width="66.6" height="4.7" fill="#6e64ff"/>
<rect x="344.5" y="112.5" width="66.6" height="4.7" fill="#8179ff"/>
<rect x="344.5" y="116.9" width="66.6" height="2.5" fill="#8b83ff"/>
<rect x="344.5" y="119.1" width="66.6" height="4.7" fill="#736aff"/>
<rect x="344.5" y="123.5" width="66.6" height="2.5" fill="#7268ff"/>
<rect x="344.5" y="125.7" width="66.6" height="2.5" fill="#6a60ff"/>
<rect x="344.5" y="127.9" width="66.6" height="2.5" fill="#7268ff"/>
<rect x="344.5" y="130.1" width="66.6" height="2.5" fill="#7b72ff"/>
<rect x="344.5" y="132.3" width="66.6" height="2.5" fill="#7a72ff"/>
<rect x="344.5" y="134.5" width="66.6" height="2.5" fill="#8b83ff"/>
<rect x="344.5" y="136.7" width="66.6" height="2.5" fill="#7e75ff"/>
<rect x="344.5" y="138.9" width="66.6" height="2.5" fill="#736aff"/>
<rect x="344.5" y="141.1" width="66.6" height="2.5" fill="#847cff"/>
<rect x="344.5" y="143.3" width="66.6" height="2.5" fill="#8e86ff"/>
<rect x="344.5" y="145.5" width="66.6" height="4.7" fill="#8a82ff"/>
<rect x="344.5" y="149.9" width="66.6" height="2.5" fill="#8881ff"/>
<rect x="344.5" y="152.1" width="66.6" height="2.5" fill="#847cff"/>
<rect x="344.5" y="154.3" width="66.6" height="2.5" fill="#7970ff"/>
<rect x="344.5" y="156.5" width="66.6" height="2.5" fill="#675dff"/>
<rect x="344.5" y="158.7" width="66.6" height="2.5" fill="#786fff"/>
<rect x="344.5" y="160.9" width="66.6" height="2.5" fill="#756cff"/>
<rect x="344.5" y="163.1" width="66.6" height="2.5" fill="#857dff"/>
<rect x="344.5" y="165.3" width="66.6" height="1.8" fill="#8c84ff"/>
<rect x="344.5" y="166.8" width="66.6" height="6.9" fill="#645aff"/>
<rect x="344.5" y="173.4" width="66.6" height="2.5" fill="#6359ff"/>
<rect x="344.5" y="175.6" width="66.6" height="2.5" fill="#7168ff"/>
<rect x="344.5" y="177.8" width="66.6" height="2.5" fill="#665cff"/>
<rect x="344.5" y="180" width="66.6" height="4.5" fill="#6257ff"/>
<rect x="344.5" y="184.2" width="66.6" height="2.5" fill="#7b72ff"/>
<rect x="344.5" y="186.4" width="66.6" height="2.5" fill="#928bff"/>
<rect x="344.5" y="188.6" width="66.6" height="6.9" fill="#7c74ff"/>
<rect x="344.5" y="195.2" width="66.6" height="2.5" fill="#695fff"/>
<rect x="344.5" y="197.4" width="66.6" height="4.7" fill="#7a71ff"/>
<rect x="344.5" y="201.8" width="66.6" height="2.5" fill="#857dff"/>
<rect x="344.5" y="204" width="66.6" height="2.5" fill="#6d63ff"/>
<rect x="344.5" y="206.2" width="66.6" height="6.9" fill="#7d74ff"/>
<rect x="344.5" y="212.8" width="66.6" height="1.4" fill="#7b72ff"/>
<rect x="344.5" y="213.9" width="66.6" height="6.9" fill="#8c85ff"/>
<rect x="344.5" y="220.5" width="66.6" height="2.5" fill="#8d85ff"/>
<rect x="344.5" y="222.7" width="66.6" height="6.9" fill="#a8a2ff"/>
<rect x="344.5" y="229.3" width="66.6" height="2.5" fill="#8880ff"/>
<rect x="344.5" y="231.5" width="66.6" height="2.5" fill="#9c95ff"/>
<rect x="344.5" y="233.7" width="66.6" height="2.5" fill="#8880ff"/>
<rect x="344.5" y="235.9" width="66.6" height="2.5" fill="#948dff"/>
<rect x="344.5" y="238.1" width="66.6" height="2.5" fill="#918aff"/>
<rect x="344.5" y="240.3" width="66.6" height="2.5" fill="#a29bff"/>
<rect x="344.5" y="242.5" width="66.6" height="2.5" fill="#837bff"/>
<rect x="344.5" y="244.7" width="66.6" height="2.5" fill="#9b95ff"/>
<rect x="344.5" y="246.9" width="66.6" height="2.5" fill="#877fff"/>
<rect x="344.5" y="249.1" width="66.6" height="2.5" fill="#8981ff"/>
<rect x="344.5" y="251.3" width="66.6" height="2.5" fill="#9e98ff"/>
<rect x="344.5" y="253.5" width="66.6" height="2.5" fill="#837aff"/>
<rect x="344.5" y="255.7" width="66.6" height="2.5" fill="#958eff"/>
<rect x="344.5" y="257.9" width="66.6" height="2.5" fill="#7a71ff"/>
<rect x="344.5" y="260.1" width="66.6" height="2.5" fill="#7f76ff"/>
<rect x="344.5" y="262.3" width="66.6" height="2.5" fill="#756cff"/>
<rect x="344.5" y="264.5" width="66.6" height="4.7" fill="#8d86ff"/>
<rect x="344.5" y="268.9" width="66.6" height="2.5" fill="#8c84ff"/>
<rect x="344.5" y="271.1" width="66.6" height="2.5" fill="#827aff"/>
<rect x="344.5" y="273.3" width="66.6" height="2.5" fill="#948cff"/>
<rect x="344.5" y="275.5" width="66.6" height="2.5" fill="#9790ff"/>
<rect x="344.5" y="277.7" width="66.6" height="4.7" fill="#6c62ff"/>
<rect x="344.5" y="282.1" width="66.6" height="6.9" fill="#6e64ff"/>
<rect x="344.5" y="288.7" width="66.6" height="2.5" fill="#867eff"/>
<rect x="344.5" y="290.9" width="66.6" height="2.5" fill="#8981ff"/>
<rect x="344.5" y="293.1" width="66.6" height="2.5" fill="#857dff"/>
<rect x="344.5" y="295.3" width="66.6" height="2.5" fill="#7067ff"/>
<rect x="344.5" y="297.5" width="66.6" height="2.5" fill="#847cff"/>
<rect x="344.5" y="299.7" width="66.6" height="2.5" fill="#877fff"/>
<rect x="344.5" y="301.9" width="66.6" height="4.7" fill="#7b73ff"/>
<rect x="344.5" y="306.3" width="66.6" height="6.9" fill="#aea8ff"/>
<rect x="344.5" y="312.9" width="66.6" height="2.5" fill="#7e75ff"/>
<rect x="344.5" y="315.1" width="66.6" height="2.5" fill="#9088ff"/>
<rect x="344.5" y="317.3" width="66.6" height="2.5" fill="#7369ff"/>
<rect x="344.5" y="319.5" width="66.6" height="4.7" fill="#837aff"/>
<rect x="344.5" y="323.9" width="66.6" height="2.5" fill="#9088ff"/>
<rect x="344.5" y="326.1" width="66.6" height="2.5" fill="#8179ff"/>
<rect x="344.5" y="328.3" width="66.6" height="2.5" fill="#786fff"/>
<rect x="344.5" y="330.5" width="66.6" height="2.5" fill="#8078ff"/>
<rect x="344.5" y="332.7" width="66.6" height="6.9" fill="#7f77ff"/>
<rect x="344.5" y="339.3" width="66.6" height="2.5" fill="#8981ff"/>
<rect x="344.5" y="341.5" width="66.6" height="4.7" fill="#8e86ff"/>
<rect x="344.5" y="345.9" width="66.6" height="4.7" fill="#7e75ff"/>
<rect x="344.5" y="350.3" width="66.6" height="4.7" fill="#948dff"/>
<rect x="344.5" y="354.7" width="66.6" height="2.5" fill="#a39dff"/>
<rect x="344.5" y="356.9" width="66.6" height="2.5" fill="#9089ff"/>
<rect x="344.5" y="359.1" width="66.6" height="2.5" fill="#756cff"/>
<rect x="344.5" y="361.3" width="66.6" height="4.7" fill="#847cff"/>
<rect x="344.5" y="365.7" width="66.6" height="2.5" fill="#7d74ff"/>
<rect x="344.5" y="367.9" width="66.6" height="2.5" fill="#7369ff"/>
<rect x="344.5" y="370.1" width="66.6" height="2.5" fill="#7167ff"/>
<rect x="344.5" y="372.3" width="66.6" height="2.5" fill="#a59fff"/>
<rect x="344.5" y="374.5" width="66.6" height="6.9" fill="#7066ff"/>
<rect x="344.5" y="381.1" width="66.6" height="2.5" fill="#837bff"/>
<rect x="344.5" y="383.3" width="66.6" height="4.7" fill="#8279ff"/>
<rect x="344.5" y="387.7" width="66.6" height="6.9" fill="#847bff"/>
<rect x="344.5" y="394.3" width="66.6" height="2.5" fill="#8178ff"/>
<rect x="344.5" y="396.5" width="66.6" height="2.5" fill="#9089ff"/>
<rect x="344.5" y="398.7" width="66.6" height="0.6" fill="#7f76ff"/>
<rect x="344.5" y="399" width="66.6" height="4.7" fill="#564aff"/>
<rect x="344.5" y="403.4" width="66.6" height="2.5" fill="#5347ff"/>
<rect x="344.5" y="405.6" width="66.6" height="2.5" fill="#5246ff"/>
<rect x="344.5" y="407.8" width="66.6" height="2.5" fill="#4b3fff"/>
<rect x="344.5" y="410" width="66.6" height="2.5" fill="#5146ff"/>
<rect x="344.5" y="412.2" width="66.6" height="4.7" fill="#574cff"/>
<rect x="344.5" y="416.6" width="66.6" height="5.1" fill="#564bff"/>
<rect x="344.5" y="421.4" width="66.6" height="2.5" fill="#8179ff"/>
<rect x="344.5" y="423.6" width="66.6" height="2.5" fill="#8a83ff"/>
<rect x="344.5" y="425.8" width="66.6" height="4.7" fill="#877fff"/>
<rect x="344.5" y="430.2" width="66.6" height="2.5" fill="#9992ff"/>
<rect x="344.5" y="432.4" width="66.6" height="2.5" fill="#8a82ff"/>
<rect x="344.5" y="434.6" width="66.6" height="4.7" fill="#8981ff"/>
<rect x="344.5" y="439" width="66.6" height="2.5" fill="#8880ff"/>
<rect x="344.5" y="441.2" width="66.6" height="2.5" fill="#918aff"/>
<rect x="344.5" y="443.4" width="66.6" height="9.1" fill="#8b83ff"/>
<rect x="344.5" y="452.2" width="66.6" height="2.5" fill="#8c84ff"/>
<rect x="344.5" y="454.4" width="66.6" height="6.9" fill="#8c85ff"/>
<rect x="344.5" y="461" width="66.6" height="4.7" fill="#7a71ff"/>
<rect x="344.5" y="465.4" width="66.6" height="2.5" fill="#9892ff"/>
<rect x="344.5" y="467.6" width="66.6" height="2.5" fill="#9089ff"/>
<rect x="344.5" y="469.8" width="66.6" height="2.5" fill="#7d75ff"/>
<rect x="344.5" y="472" width="66.6" height="4.7" fill="#8e87ff"/>
<rect x="344.5" y="476.4" width="66.6" height="2.5" fill="#776eff"/>
<rect x="344.5" y="478.6" width="66.6" height="4.7" fill="#837bff"/>
<rect x="344.5" y="483" width="66.6" height="2.5" fill="#a49eff"/>
<rect x="344.5" y="485.2" width="66.6" height="2.5" fill="#9b94ff"/>
<rect x="344.5" y="487.4" width="66.6" height="2.5" fill="#8982ff"/>
<rect x="344.5" y="489.6" width="66.6" height="6.9" fill="#938cff"/>
<rect x="344.5" y="496.2" width="66.6" height="2.5" fill="#928bff"/>
<rect x="344.5" y="498.4" width="66.6" height="6.9" fill="#a09aff"/>
<rect x="344.5" y="505" width="66.6" height="2.5" fill="#8880ff"/>
<rect x="344.5" y="507.2" width="66.6" height="2.5" fill="#7d75ff"/>
<rect x="344.5" y="509.4" width="66.6" height="2.5" fill="#9790ff"/>
<rect x="344.5" y="511.6" width="66.6" height="2.5" fill="#9993ff"/>
<rect x="344.5" y="513.8" width="66.6" height="2.5" fill="#8179ff"/>
<rect x="344.5" y="516" width="66.6" height="4.7" fill="#968fff"/>
<rect x="344.5" y="520.4" width="66.6" height="6.9" fill="#8981ff"/>
<rect x="344.5" y="527" width="66.6" height="4.7" fill="#766dff"/>
<rect x="344.5" y="531.4" width="66.6" height="6.9" fill="#8e87ff"/>
<rect x="344.5" y="538" width="66.6" height="6.9" fill="#867eff"/>
<rect x="344.5" y="544.6" width="66.6" height="2.5" fill="#8f88ff"/>
<rect x="344.5" y="546.8" width="66.6" height="2.5" fill="#8078ff"/>
<rect x="344.5" y="549" width="66.6" height="2.5" fill="#9790ff"/>
<rect x="344.5" y="551.2" width="66.6" height="4.7" fill="#7a71ff"/>
<rect x="344.5" y="555.6" width="66.6" height="2.5" fill="#958eff"/>
<rect x="344.5" y="557.8" width="66.6" height="4.7" fill="#786fff"/>
<rect x="344.5" y="562.2" width="66.6" height="2.5" fill="#7f77ff"/>
<rect x="344.5" y="564.4" width="66.6" height="2.5" fill="#847cff"/>
<rect x="344.5" y="566.6" width="66.6" height="2.5" fill="#645aff"/>
<rect x="344.5" y="568.8" width="66.6" height="2.5" fill="#928bff"/>
<rect x="344.5" y="571" width="66.6" height="2.5" fill="#8a82ff"/>
<rect x="344.5" y="573.2" width="66.6" height="2.5" fill="#837bff"/>
<rect x="344.5" y="575.4" width="66.6" height="2.5" fill="#8b83ff"/>
<rect x="344.5" y="577.6" width="66.6" height="2.5" fill="#7a71ff"/>
<rect x="344.5" y="579.8" width="66.6" height="2.5" fill="#918aff"/>
<rect x="344.5" y="582" width="66.6" height="2.5" fill="#827aff"/>
<rect x="344.5" y="584.2" width="66.6" height="6.9" fill="#958eff"/>
<rect x="344.5" y="590.8" width="66.6" height="2.5" fill="#aea9ff"/>
<rect x="344.5" y="593" width="66.6" height="2.5" fill="#948dff"/>
<rect x="344.5" y="595.2" width="66.6" height="2.5" fill="#9b95ff"/>
<rect x="344.5" y="597.4" width="66.6" height="1.9" fill="#8780ff"/>
<rect x="344.5" y="599" width="66.6" height="2.5" fill="#faadad"/>
<rect x="344.5" y="601.2" width="66.6" height="2.5" fill="#faa3a3"/>
<rect x="344.5" y="603.4" width="66.6" height="2.5" fill="#faa8a8"/>
<rect x="344.5" y="605.6" width="66.6" height="2.5" fill="#f99c9c"/>
<rect x="344.5" y="607.8" width="66.6" height="2.5" fill="#fbb7b7"/>
<rect x="344.5" y="610" width="66.6" height="2.5" fill="#fddbdb"/>
<rect x="344.5" y="612.2" width="66.6" height="4.5" fill="#fbb4b4"/>
<rect x="344.5" y="616.4" width="66.6" height="2.5" fill="#f55050"/>
<rect x="344.5" y="618.6" width="66.6" height="2.5" fill="#f65858"/>
<rect x="344.5" y="620.8" width="66.6" height="2.5" fill="#f43737"/>
<rect x="344.5" y="623" width="66.6" height="6.9" fill="#f65555"/>
<rect x="344.5" y="629.6" width="66.6" height="2.5" fill="#f65757"/>
<rect x="344.5" y="631.8" width="66.6" height="2.5" fill="#f54b4b"/>
<rect x="344.5" y="634" width="66.6" height="2.5" fill="#f43c3c"/>
<rect x="344.5" y="636.2" width="66.6" height="2.5" fill="#f32b2b"/>
<rect x="344.5" y="638.4" width="66.6" height="6.9" fill="#f65555"/>
<rect x="344.5" y="645" width="66.6" height="3.9" fill="#f54c4c"/>
<rect x="344.5" y="648.6" width="66.6" height="2.5" fill="#d0cdff"/>
<rect x="344.5" y="650.8" width="66.6" height="2.5" fill="#d5d3ff"/>
<rect x="344.5" y="653" width="66.6" height="2.5" fill="#ecebff"/>
<rect x="344.5" y="655.2" width="66.6" height="2.5" fill="#f0f0ff"/>
<rect x="344.5" y="657.4" width="66.6" height="2.5" fill="#e4e2ff"/>
<rect x="344.5" y="659.6" width="66.6" height="2.5" fill="#dedcff"/>
<rect x="344.5" y="661.8" width="66.6" height="2.5" fill="#ebeaff"/>
<rect x="344.5" y="664" width="66.6" height="2.5" fill="#f5f4ff"/>
<rect x="344.5" y="666.2" width="66.6" height="2.5" fill="#fbfbff"/>
<rect x="344.5" y="668.4" width="66.6" height="2.5" fill="#c2beff"/>
<rect x="344.5" y="670.6" width="66.6" height="3.1" fill="#fef5f5"/>
<rect x="344.5" y="673.4" width="66.6" height="2.5" fill="#f87d7d"/>
<rect x="344.5" y="675.6" width="66.6" height="2.5" fill="#f88080"/>
<rect x="344.5" y="677.8" width="66.6" height="2.5" fill="#f88d8d"/>
<rect x="344.5" y="680" width="66.6" height="2.5" fill="#faa3a3"/>
<rect x="344.5" y="682.2" width="66.6" height="2.5" fill="#fccaca"/>
<rect x="344.5" y="684.4" width="66.6" height="6.9" fill="#faa4a4"/>
<rect x="344.5" y="691" width="66.6" height="2.5" fill="#f99b9b"/>
<rect x="344.5" y="693.2" width="66.6" height="6.9" fill="#f99f9f"/>
<rect x="344.5" y="699.8" width="66.6" height="0.5" fill="#fbb4b4"/>
<rect x="344.5" y="700" width="66.6" height="6.9" fill="#fab1b1"/>
<rect x="344.5" y="706.6" width="66.6" height="6.9" fill="#f87c7c"/>
<rect x="344.5" y="713.2" width="66.6" height="2.5" fill="#f99c9c"/>
<rect x="344.5" y="715.4" width="66.6" height="2.5" fill="#f77373"/>
<rect x="344.5" y="717.6" width="66.6" height="2.5" fill="#f88c8c"/>
<rect x="344.5" y="719.8" width="66.6" height="6.9" fill="#f99a9a"/>
<rect x="344.5" y="726.4" width="66.6" height="6.9" fill="#f76c6c"/>
<rect x="344.5" y="733" width="66.6" height="2.5" fill="#f88181"/>
<rect x="344.5" y="735.2" width="66.6" height="2.5" fill="#f88888"/>
<rect x="344.5" y="737.4" width="66.6" height="2.5" fill="#f99a9a"/>
<rect x="344.5" y="739.6" width="66.6" height="2.5" fill="#f99f9f"/>
<rect x="344.5" y="741.8" width="66.6" height="6.9" fill="#f88d8d"/>
<rect x="344.5" y="748.4" width="66.6" height="6.9" fill="#f99292"/>
<rect x="344.5" y="755" width="66.6" height="2.5" fill="#f99494"/>
<rect x="344.5" y="757.2" width="66.6" height="2.5" fill="#f77575"/>
<rect x="344.5" y="759.4" width="66.6" height="2.5" fill="#f99b9b"/>
<rect x="344.5" y="761.6" width="66.6" height="2.5" fill="#f87e7e"/>
<rect x="344.5" y="763.8" width="66.6" height="2.5" fill="#f88a8a"/>
<rect x="344.5" y="766" width="66.6" height="2.5" fill="#faadad"/>
<rect x="344.5" y="768.2" width="66.6" height="3.9" fill="#f99a9a"/>
<rect x="344.5" y="771.8" width="66.6" height="2.5" fill="#f99595"/>
<rect x="344.5" y="774" width="66.6" height="2.5" fill="#faa4a4"/>
<rect x="344.5" y="776.2" width="66.6" height="4.7" fill="#f99090"/>
<rect x="344.5" y="780.6" width="66.6" height="2.5" fill="#f87c7c"/>
<rect x="344.5" y="782.8" width="66.6" height="2.5" fill="#f77070"/>
<rect x="344.5" y="785" width="66.6" height="2.5" fill="#fab0b0"/>
<rect x="344.5" y="787.2" width="66.6" height="2.5" fill="#f98e8e"/>
<rect x="344.5" y="789.4" width="66.6" height="2.5" fill="#faa8a8"/>
<rect x="344.5" y="791.6" width="66.6" height="6.9" fill="#f99f9f"/>
<rect x="344.5" y="798.2" width="66.6" height="1.1" fill="#f99090"/>
<rect x="344.5" y="799" width="66.6" height="2.5" fill="#fbbfbf"/>
<rect x="344.5" y="801.2" width="66.6" height="2.5" fill="#f7f7ff"/>
<rect x="344.5" y="803.4" width="66.6" height="2.5" fill="#fef7f7"/>
<rect x="344.5" y="805.6" width="66.6" height="3.7" fill="#fcd8d8"/>
<rect x="344.5" y="809" width="66.6" height="2.5" fill="#f88383"/>
<rect x="344.5" y="811.2" width="66.6" height="2.5" fill="#f88181"/>
<rect x="344.5" y="813.4" width="66.6" height="2.5" fill="#f77272"/>
<rect x="344.5" y="815.6" width="66.6" height="2.5" fill="#f87c7c"/>
<rect x="344.5" y="817.8" width="66.6" height="2.5" fill="#f65d5d"/>
<rect x="344.5" y="820" width="66.6" height="2.5" fill="#f66161"/>
<rect x="344.5" y="822.2" width="66.6" height="4.7" fill="#f65959"/>
<rect x="344.5" y="826.6" width="66.6" height="6.9" fill="#f76e6e"/>
<rect x="344.5" y="833.2" width="66.6" height="2.5" fill="#f88787"/>
<rect x="344.5" y="835.4" width="66.6" height="6.9" fill="#f77676"/>
<rect x="344.5" y="842" width="66.6" height="2" fill="#f76e6e"/>
<rect x="344.5" y="843.7" width="66.6" height="2.5" fill="#fab0b0"/>
<rect x="344.5" y="845.9" width="66.6" height="4.7" fill="#faa7a7"/>
<rect x="344.5" y="850.3" width="66.6" height="2.5" fill="#fbbfbf"/>
<rect x="344.5" y="852.5" width="66.6" height="2.5" fill="#fab1b1"/>
<rect x="344.5" y="854.7" width="66.6" height="2.5" fill="#faadad"/>
<rect x="344.5" y="856.9" width="66.6" height="2.5" fill="#faa1a1"/>
<rect x="344.5" y="859.1" width="66.6" height="4.7" fill="#faabab"/>
<rect x="344.5" y="863.5" width="66.6" height="2.5" fill="#f99999"/>
<rect x="344.5" y="865.7" width="66.6" height="6.9" fill="#f88d8d"/>
<rect x="344.5" y="872.3" width="66.6" height="2.5" fill="#f87d7d"/>
<rect x="344.5" y="874.5" width="66.6" height="2.5" fill="#f99191"/>
<rect x="344.5" y="876.7" width="66.6" height="2.5" fill="#f88787"/>
<rect x="344.5" y="878.9" width="66.6" height="2.5" fill="#f87b7b"/>
<rect x="344.5" y="881.1" width="66.6" height="2.5" fill="#f88282"/>
<rect x="344.5" y="883.3" width="66.6" height="2.5" fill="#f77676"/>
<rect x="344.5" y="885.5" width="66.6" height="2.5" fill="#f99b9b"/>
<rect x="344.5" y="887.7" width="66.6" height="2.5" fill="#f99696"/>
<rect x="344.5" y="889.9" width="66.6" height="2.5" fill="#f88686"/>
<rect x="344.5" y="892.1" width="66.6" height="2.5" fill="#f88181"/>
<rect x="344.5" y="894.3" width="66.6" height="2.5" fill="#f99797"/>
<rect x="344.5" y="896.5" width="66.6" height="6.9" fill="#f77676"/>
<rect x="344.5" y="903.1" width="66.6" height="1.6" fill="#f88686"/>
<rect x="410.7" y="101.5" width="66.6" height="2.5" fill="#645aff"/>
<rect x="410.7" y="103.7" width="66.6" height="6.9" fill="#7269ff"/>
<rect x="410.7" y="110.3" width="66.6" height="2.5" fill="#695fff"/>
<rect x="410.7" y="112.5" width="66.6" height="2.5" fill="#564aff"/>
<rect x="410.7" y="114.7" width="66.6" height="2.5" fill="#837aff"/>
<rect x="410.7" y="116.9" width="66.6" height="6.9" fill="#6358ff"/>
<rect x="410.7" y="123.5" width="66.6" height="4.7" fill="#847cff"/>
<rect x="410.7" y="127.9" width="66.6" height="2.1" fill="#6359ff"/>
<rect x="410.7" y="129.7" width="66.6" height="4.7" fill="#928bff"/>
<rect x="410.7" y="134.1" width="66.6" height="2.5" fill="#877fff"/>
<rect x="410.7" y="136.3" width="66.6" height="2.5" fill="#736aff"/>
<rect x="410.7" y="138.5" width="66.6" height="4.7" fill="#7a71ff"/>
<rect x="410.7" y="142.9" width="66.6" height="2.5" fill="#8b84ff"/>
<rect x="410.7" y="145.1" width="66.6" height="2.5" fill="#8981ff"/>
<rect x="410.7" y="147.3" width="66.6" height="4.7" fill="#8f87ff"/>
<rect x="410.7" y="151.7" width="66.6" height="2.5" fill="#837bff"/>
<rect x="410.7" y="153.9" width="66.6" height="2.5" fill="#a49eff"/>
<rect x="410.7" y="156.1" width="66.6" height="2.5" fill="#6e64ff"/>
<rect x="410.7" y="158.3" width="66.6" height="2.5" fill="#8d85ff"/>
<rect x="410.7" y="160.5" width="66.6" height="6.9" fill="#8e86ff"/>
<rect x="410.7" y="167.1" width="66.6" height="2.5" fill="#918aff"/>
<rect x="410.7" y="169.3" width="66.6" height="2.5" fill="#847cff"/>
<rect x="410.7" y="171.5" width="66.6" height="6.9" fill="#7a71ff"/>
<rect x="410.7" y="178.1" width="66.6" height="6.9" fill="#6c62ff"/>
<rect x="410.7" y="184.7" width="66.6" height="6.9" fill="#7a71ff"/>
<rect x="410.7" y="191.3" width="66.6" height="2.5" fill="#8c84ff"/>
<rect x="410.7" y="193.5" width="66.6" height="2.5" fill="#9a93ff"/>
<rect x="410.7" y="195.7" width="66.6" height="2.5" fill="#a09aff"/>
<rect x="410.7" y="197.9" width="66.6" height="6.9" fill="#857dff"/>
<rect x="410.7" y="204.5" width="66.6" height="2.5" fill="#8b84ff"/>
<rect x="410.7" y="206.7" width="66.6" height="2.5" fill="#8b83ff"/>
<rect x="410.7" y="208.9" width="66.6" height="2.5" fill="#8f87ff"/>
<rect x="410.7" y="211.1" width="66.6" height="2.5" fill="#756cff"/>
<rect x="410.7" y="213.3" width="66.6" height="2.5" fill="#837aff"/>
<rect x="410.7" y="215.5" width="66.6" height="2.5" fill="#8d86ff"/>
<rect x="410.7" y="217.7" width="66.6" height="2.5" fill="#867dff"/>
<rect x="410.7" y="219.9" width="66.6" height="2.5" fill="#938cff"/>
<rect x="410.7" y="222.1" width="66.6" height="6.9" fill="#8e86ff"/>
<rect x="410.7" y="228.7" width="66.6" height="2.5" fill="#9790ff"/>
<rect x="410.7" y="230.9" width="66.6" height="6.9" fill="#aca7ff"/>
<rect x="410.7" y="237.5" width="66.6" height="2.5" fill="#958eff"/>
<rect x="410.7" y="239.7" width="66.6" height="2.5" fill="#928bff"/>
<rect x="410.7" y="241.9" width="66.6" height="4.7" fill="#6a60ff"/>
<rect x="410.7" y="246.3" width="66.6" height="4.7" fill="#b3aeff"/>
<rect x="410.7" y="250.7" width="66.6" height="4.7" fill="#9088ff"/>
<rect x="410.7" y="255.1" width="66.6" height="4.7" fill="#8a82ff"/>
<rect x="410.7" y="259.5" width="66.6" height="6.9" fill="#a19bff"/>
<rect x="410.7" y="266.1" width="66.6" height="4.7" fill="#8b84ff"/>
<rect x="410.7" y="270.5" width="66.6" height="2.5" fill="#9089ff"/>
<rect x="410.7" y="272.7" width="66.6" height="2.5" fill="#8a83ff"/>
<rect x="410.7" y="274.9" width="66.6" height="4.7" fill="#877fff"/>
<rect x="410.7" y="279.3" width="66.6" height="2.5" fill="#7d75ff"/>
<rect x="410.7" y="281.5" width="66.6" height="2.5" fill="#8d85ff"/>
<rect x="410.7" y="283.7" width="66.6" height="4.7" fill="#a29cff"/>
<rect x="410.7" y="288.1" width="66.6" height="2.5" fill="#7e75ff"/>
<rect x="410.7" y="290.3" width="66.6" height="2.5" fill="#7a71ff"/>
<rect x="410.7" y="292.5" width="66.6" height="2.5" fill="#948dff"/>
<rect x="410.7" y="294.7" width="66.6" height="2.5" fill="#8981ff"/>
<rect x="410.7" y="296.9" width="66.6" height="2.5" fill="#867eff"/>
<rect x="410.7" y="299.1" width="66.6" height="2.5" fill="#9d96ff"/>
<rect x="410.7" y="301.3" width="66.6" height="6.9" fill="#736aff"/>
<rect x="410.7" y="307.9" width="66.6" height="2.5" fill="#8b83ff"/>
<rect x="410.7" y="310.1" width="66.6" height="2.5" fill="#746bff"/>
<rect x="410.7" y="312.3" width="66.6" height="2.5" fill="#a09aff"/>
<rect x="410.7" y="314.5" width="66.6" height="2.5" fill="#786fff"/>
<rect x="410.7" y="316.7" width="66.6" height="4.7" fill="#918aff"/>
<rect x="410.7" y="321.1" width="66.6" height="2.5" fill="#776eff"/>
<rect x="410.7" y="323.3" width="66.6" height="2.5" fill="#a59fff"/>
<rect x="410.7" y="325.5" width="66.6" height="6.9" fill="#a39dff"/>
<rect x="410.7" y="332.1" width="66.6" height="6.9" fill="#7c73ff"/>
<rect x="410.7" y="338.7" width="66.6" height="2.5" fill="#756cff"/>
<rect x="410.7" y="340.9" width="66.6" height="2.5" fill="#8b84ff"/>
<rect x="410.7" y="343.1" width="66.6" height="2.5" fill="#948cff"/>
<rect x="410.7" y="345.3" width="66.6" height="2.5" fill="#827aff"/>
<rect x="410.7" y="347.5" width="66.6" height="2.5" fill="#756bff"/>
<rect x="410.7" y="349.7" width="66.6" height="2.5" fill="#958eff"/>
<rect x="410.7" y="351.9" width="66.6" height="2.5" fill="#7a71ff"/>
<rect x="410.7" y="354.1" width="66.6" height="2.5" fill="#776eff"/>
<rect x="410.7" y="356.3" width="66.6" height="2.5" fill="#8078ff"/>
<rect x="410.7" y="358.5" width="66.6" height="6.9" fill="#8881ff"/>
<rect x="410.7" y="365.1" width="66.6" height="2.5" fill="#7a72ff"/>
<rect x="410.7" y="367.3" width="66.6" height="6.9" fill="#756cff"/>
<rect x="410.7" y="373.9" width="66.6" height="4.7" fill="#7971ff"/>
<rect x="410.7" y="378.3" width="66.6" height="6.9" fill="#928bff"/>
<rect x="410.7" y="384.9" width="66.6" height="2.5" fill="#8179ff"/>
<rect x="410.7" y="387.1" width="66.6" height="4.7" fill="#8981ff"/>
<rect x="410.7" y="391.5" width="66.6" height="6.9" fill="#7369ff"/>
<rect x="410.7" y="398.1" width="66.6" height="1.2" fill="#8a82ff"/>
<rect x="410.7" y="399" width="66.6" height="2.5" fill="#dad8ff"/>
<rect x="410.7" y="401.2" width="66.6" height="2.5" fill="#dddaff"/>
<rect x="410.7" y="403.4" width="66.6" height="2.5" fill="#dfddff"/>
<rect x="410.7" y="405.6" width="66.6" height="1.2" fill="#f0efff"/>
<rect x="410.7" y="406.5" width="66.6" height="2.5" fill="#9c96ff"/>
<rect x="410.7" y="408.7" width="66.6" height="2.5" fill="#ada7ff"/>
<rect x="410.7" y="410.9" width="66.6" height="4.7" fill="#8f87ff"/>
<rect x="410.7" y="415.3" width="66.6" height="2.5" fill="#9891ff"/>
<rect x="410.7" y="417.5" width="66.6" height="4.7" fill="#9a93ff"/>
<rect x="410.7" y="421.9" width="66.6" height="2.5" fill="#8a83ff"/>
<rect x="410.7" y="424.1" width="66.6" height="6.9" fill="#8279ff"/>
<rect x="410.7" y="430.7" width="66.6" height="2.5" fill="#938bff"/>
<rect x="410.7" y="432.9" width="66.6" height="6.9" fill="#9b94ff"/>
<rect x="410.7" y="439.5" width="66.6" height="2.5" fill="#b7b3ff"/>
<rect x="410.7" y="441.7" width="66.6" height="6.9" fill="#ada7ff"/>
<rect x="410.7" y="448.3" width="66.6" height="6.9" fill="#857cff"/>
<rect x="410.7" y="454.9" width="66.6" height="6.9" fill="#9189ff"/>
<rect x="410.7" y="461.5" width="66.6" height="2.5" fill="#a39dff"/>
<rect x="410.7" y="463.7" width="66.6" height="2.5" fill="#9993ff"/>
<rect x="410.7" y="465.9" width="66.6" height="2.5" fill="#847cff"/>
<rect x="410.7" y="468.1" width="66.6" height="2.5" fill="#9690ff"/>
<rect x="410.7" y="470.3" width="66.6" height="2.5" fill="#918aff"/>
<rect x="410.7" y="472.5" width="66.6" height="6.9" fill="#8078ff"/>
<rect x="410.7" y="479.1" width="66.6" height="2.5" fill="#b0abff"/>
<rect x="410.7" y="481.3" width="66.6" height="6.9" fill="#bab5ff"/>
<rect x="410.7" y="487.9" width="66.6" height="6.9" fill="#7c73ff"/>
<rect x="410.7" y="494.5" width="66.6" height="2.5" fill="#9e98ff"/>
<rect x="410.7" y="496.7" width="66.6" height="2.5" fill="#918aff"/>
<rect x="410.7" y="498.9" width="66.6" height="2.5" fill="#9e98ff"/>
<rect x="410.7" y="501.1" width="66.6" height="2.5" fill="#877fff"/>
<rect x="410.7" y="503.3" width="66.6" height="2.5" fill="#8880ff"/>
<rect x="410.7" y="505.5" width="66.6" height="6.9" fill="#756cff"/>
<rect x="410.7" y="512.1" width="66.6" height="2.5" fill="#8078ff"/>
<rect x="410.7" y="514.3" width="66.6" height="6.9" fill="#7a71ff"/>
<rect x="410.7" y="520.9" width="66.6" height="2.5" fill="#8179ff"/>
<rect x="410.7" y="523.1" width="66.6" height="4.7" fill="#9b94ff"/>
<rect x="410.7" y="527.5" width="66.6" height="2.5" fill="#6b61ff"/>
<rect x="410.7" y="529.7" width="66.6" height="6.9" fill="#8077ff"/>
<rect x="410.7" y="536.3" width="66.6" height="4.7" fill="#9891ff"/>
<rect x="410.7" y="540.7" width="66.6" height="2.5" fill="#b1acff"/>
<rect x="410.7" y="542.9" width="66.6" height="2.5" fill="#a49eff"/>
<rect x="410.7" y="545.1" width="66.6" height="2.5" fill="#847cff"/>
<rect x="410.7" y="547.3" width="66.6" height="2.5" fill="#8078ff"/>
<rect x="410.7" y="549.5" width="66.6" height="6.9" fill="#786fff"/>
<rect x="410.7" y="556.1" width="66.6" height="2.5" fill="#837aff"/>
<rect x="410.7" y="558.3" width="66.6" height="2.5" fill="#918aff"/>
<rect x="410.7" y="560.5" width="66.6" height="6.9" fill="#9e97ff"/>
<rect x="410.7" y="567.1" width="66.6" height="6.9" fill="#ada7ff"/>
<rect x="410.7" y="573.7" width="66.6" height="0.9" fill="#7e75ff"/>
<rect x="410.7" y="574.3" width="66.6" height="2.5" fill="#7168ff"/>
<rect x="410.7" y="576.5" width="66.6" height="2.5" fill="#4e43ff"/>
<rect x="410.7" y="578.7" width="66.6" height="2.5" fill="#594eff"/>
<rect x="410.7" y="580.9" width="66.6" height="4.7" fill="#5d53ff"/>
<rect x="410.7" y="585.3" width="66.6" height="2.5" fill="#5247ff"/>
<rect x="410.7" y="587.5" width="66.6" height="2.5" fill="#5044ff"/>
<rect x="410.7" y="589.7" width="66.6" height="2.5" fill="#5a4fff"/>
<rect x="410.7" y="591.9" width="66.6" height="2.4" fill="#645aff"/>
<rect x="410.7" y="594" width="66.6" height="4.7" fill="#fde6e6"/>
<rect x="410.7" y="598.4" width="66.6" height="6.9" fill="#fde2e2"/>
<rect x="410.7" y="605" width="66.6" height="2.5" fill="#fccece"/>
<rect x="410.7" y="607.2" width="66.6" height="2.5" fill="#fcc9c9"/>
<rect x="410.7" y="609.4" width="66.6" height="4.7" fill="#fbb4b4"/>
<rect x="410.7" y="613.8" width="66.6" height="2.5" fill="#fbc3c3"/>
<rect x="410.7" y="616" width="66.6" height="0.7" fill="#fddede"/>
<rect x="410.7" y="616.4" width="66.6" height="2.5" fill="#f88d8d"/>
<rect x="410.7" y="618.6" width="66.6" height="4.7" fill="#f88585"/>
<rect x="410.7" y="623" width="66.6" height="4.7" fill="#f98e8e"/>
<rect x="410.7" y="627.4" width="66.6" height="4.2" fill="#f99a9a"/>
<rect x="410.7" y="631.3" width="66.6" height="6.9" fill="#fcd6d6"/>
<rect x="410.7" y="637.9" width="66.6" height="2.5" fill="#fccaca"/>
<rect x="410.7" y="640.1" width="66.6" height="2.5" fill="#f0efff"/>
<rect x="410.7" y="642.3" width="66.6" height="2.5" fill="#feecec"/>
<rect x="410.7" y="644.5" width="66.6" height="2.5" fill="#fde4e4"/>
<rect x="410.7" y="646.7" width="66.6" height="2.2" fill="#fccfcf"/>
<rect x="410.7" y="648.6" width="66.6" height="6.9" fill="#f31c1c"/>
<rect x="410.7" y="655.2" width="66.6" height="6.9" fill="#f32020"/>
<rect x="410.7" y="661.8" width="66.6" height="2" fill="#f31c1c"/>
<rect x="410.7" y="663.5" width="66.6" height="6.9" fill="#f98f8f"/>
<rect x="410.7" y="670.1" width="66.6" height="2.5" fill="#f99595"/>
<rect x="410.7" y="672.3" width="66.6" height="4.7" fill="#f66161"/>
<rect x="410.7" y="676.7" width="66.6" height="2.5" fill="#f99f9f"/>
<rect x="410.7" y="678.9" width="66.6" height="2.5" fill="#f99191"/>
<rect x="410.7" y="681.1" width="66.6" height="2.5" fill="#f99c9c"/>
<rect x="410.7" y="683.3" width="66.6" height="2.5" fill="#f99b9b"/>
<rect x="410.7" y="685.5" width="66.6" height="4.7" fill="#f77474"/>
<rect x="410.7" y="689.9" width="66.6" height="2.5" fill="#f87c7c"/>
<rect x="410.7" y="692.1" width="66.6" height="6.9" fill="#f99898"/>
<rect x="410.7" y="698.7" width="66.6" height="1.6" fill="#fbb3b3"/>
<rect x="410.7" y="700" width="66.6" height="6.9" fill="#f88787"/>
<rect x="410.7" y="706.6" width="66.6" height="2.5" fill="#f99e9e"/>
<rect x="410.7" y="708.8" width="66.6" height="2.5" fill="#f99292"/>
<rect x="410.7" y="711" width="66.6" height="2.5" fill="#f99696"/>
<rect x="410.7" y="713.2" width="66.6" height="4.7" fill="#f87e7e"/>
<rect x="410.7" y="717.6" width="66.6" height="2.5" fill="#faafaf"/>
<rect x="410.7" y="719.8" width="66.6" height="6.9" fill="#f88282"/>
<rect x="410.7" y="726.4" width="66.6" height="4.7" fill="#faa1a1"/>
<rect x="410.7" y="730.8" width="66.6" height="2.5" fill="#f9a0a0"/>
<rect x="410.7" y="733" width="66.6" height="6.9" fill="#fab1b1"/>
<rect x="410.7" y="739.6" width="66.6" height="2.5" fill="#f99595"/>
<rect x="410.7" y="741.8" width="66.6" height="6.9" fill="#f88b8b"/>
<rect x="410.7" y="748.4" width="66.6" height="2.5" fill="#f88c8c"/>
<rect x="410.7" y="750.6" width="66.6" height="6.9" fill="#faabab"/>
<rect x="410.7" y="757.2" width="66.6" height="6.9" fill="#f99898"/>
<rect x="410.7" y="763.8" width="66.6" height="6.9" fill="#f77676"/>
<rect x="410.7" y="770.4" width="66.6" height="1.7" fill="#faa9a9"/>
<rect x="410.7" y="771.8" width="66.6" height="4.7" fill="#f54343"/>
<rect x="410.7" y="776.2" width="66.6" height="2.5" fill="#f55353"/>
<rect x="410.7" y="778.4" width="66.6" height="2.5" fill="#f54444"/>
<rect x="410.7" y="780.6" width="66.6" height="2.5" fill="#f55151"/>
<rect x="410.7" y="782.8" width="66.6" height="2.5" fill="#f44141"/>
<rect x="410.7" y="785" width="66.6" height="4.7" fill="#f54949"/>
<rect x="410.7" y="789.4" width="66.6" height="2.5" fill="#f65b5b"/>
<rect x="410.7" y="791.6" width="66.6" height="4.7" fill="#f55252"/>
<rect x="410.7" y="796" width="66.6" height="2.5" fill="#f65959"/>
<rect x="410.7" y="798.2" width="66.6" height="4.7" fill="#f54343"/>
<rect x="410.7" y="802.6" width="66.6" height="1.7" fill="#f54b4b"/>
<rect x="410.7" y="804" width="66.6" height="2.5" fill="#f99f9f"/>
<rect x="410.7" y="806.2" width="66.6" height="2.5" fill="#f88484"/>
<rect x="410.7" y="808.4" width="66.6" height="6.9" fill="#f88a8a"/>
<rect x="410.7" y="815" width="66.6" height="2.5" fill="#faa4a4"/>
<rect x="410.7" y="817.2" width="66.6" height="6.9" fill="#faadad"/>
<rect x="410.7" y="823.8" width="66.6" height="2.5" fill="#f88585"/>
<rect x="410.7" y="826" width="66.6" height="2.5" fill="#fbc6c6"/>
<rect x="410.7" y="828.2" width="66.6" height="2.5" fill="#fbb8b8"/>
<rect x="410.7" y="830.4" width="66.6" height="1.2" fill="#fcc8c8"/>
<rect x="410.7" y="831.3" width="66.6" height="2.5" fill="#f66262"/>
<rect x="410.7" y="833.5" width="66.6" height="4.7" fill="#f77575"/>
<rect x="410.7" y="837.9" width="66.6" height="2.5" fill="#f66060"/>
<rect x="410.7" y="840.1" width="66.6" height="4.7" fill="#f87f7f"/>
<rect x="410.7" y="844.5" width="66.6" height="6.9" fill="#f55252"/>
<rect x="410.7" y="851.1" width="66.6" height="4.7" fill="#f66262"/>
<rect x="410.7" y="855.5" width="66.6" height="2.5" fill="#f76c6c"/>
<rect x="410.7" y="857.7" width="66.6" height="6.9" fill="#f88383"/>
<rect x="410.7" y="864.3" width="66.6" height="6.9" fill="#f76767"/>
<rect x="410.7" y="870.9" width="66.6" height="6.9" fill="#f77272"/>
<rect x="410.7" y="877.5" width="66.6" height="2.5" fill="#f88c8c"/>
<rect x="410.7" y="879.7" width="66.6" height="4.7" fill="#f77474"/>
<rect x="410.7" y="884.1" width="66.6" height="2.5" fill="#f65d5d"/>
<rect x="410.7" y="886.3" width="66.6" height="4.7" fill="#f99e9e"/>
<rect x="410.7" y="890.7" width="66.6" height="2.5" fill="#f87f7f"/>
<rect x="410.7" y="892.9" width="66.6" height="2.5" fill="#f87e7e"/>
<rect x="410.7" y="895.1" width="66.6" height="2.5" fill="#f65f5f"/>
<rect x="410.7" y="897.3" width="66.6" height="2.5" fill="#f77373"/>
<rect x="410.7" y="899.5" width="66.6" height="4.7" fill="#f88181"/>
<rect x="410.7" y="903.9" width="66.6" height="0.8" fill="#f76969"/>
<rect x="71.8" y="101.5" width="2.4" height="500.8" fill="#1010f0"/>
<rect x="71.8" y="604" width="2.4" height="301.5" fill="#f01010"/>
<text x="178" y="81.2" font-size="26" text-anchor="middle">WT</text>
<text x="378" y="80.6" font-size="26" text-anchor="middle">NRF1 KO</text>
<line x1="84.3" y1="92.5" x2="274.4" y2="92.5" stroke="#000" stroke-width="2.8"/>
<line x1="283.7" y1="92.5" x2="473.5" y2="92.5" stroke="#000" stroke-width="2.8"/>
<text transform="translate(63,351) rotate(-90)" font-size="26" text-anchor="middle">214 genes</text>
<text transform="translate(63,754) rotate(-90)" font-size="26" text-anchor="middle">149 genes</text>
<rect x="484.7" y="101.2" width="16.3" height="240.7" fill="url(#hmcb)"/>
<text x="482" y="93.5" font-size="19.2" font-weight="bold">Group</text>
<text x="507" y="111.6" font-size="17.5">2</text>
<text x="507" y="170.3" font-size="17.5">1</text>
<text x="507" y="228.3" font-size="17.5">0</text>
<text x="507" y="288.3" font-size="17.5">- 1</text>
<text x="507" y="345.3" font-size="17.5">- 2</text>
<line x1="777.3" y1="76.4" x2="777.3" y2="441.6" stroke="#ebebeb" stroke-width="1.3"/>
<line x1="891.1" y1="76.4" x2="891.1" y2="441.6" stroke="#ebebeb" stroke-width="1.3"/>
<line x1="1005" y1="76.4" x2="1005" y2="441.6" stroke="#ebebeb" stroke-width="1.3"/>
<line x1="1118.8" y1="76.4" x2="1118.8" y2="441.6" stroke="#ebebeb" stroke-width="1.3"/>
<line x1="1232.7" y1="76.4" x2="1232.7" y2="441.6" stroke="#ebebeb" stroke-width="1.3"/>
<line x1="834.2" y1="76.4" x2="834.2" y2="441.6" stroke="#f4f4f4" stroke-width="0.8"/>
<line x1="948.1" y1="76.4" x2="948.1" y2="441.6" stroke="#f4f4f4" stroke-width="0.8"/>
<line x1="1061.9" y1="76.4" x2="1061.9" y2="441.6" stroke="#f4f4f4" stroke-width="0.8"/>
<line x1="1175.8" y1="76.4" x2="1175.8" y2="441.6" stroke="#f4f4f4" stroke-width="0.8"/>
<line x1="755.1" y1="425.8" x2="1256.4" y2="425.8" stroke="#ebebeb" stroke-width="1.3"/>
<line x1="755.1" y1="342.4" x2="1256.4" y2="342.4" stroke="#ebebeb" stroke-width="1.3"/>
<line x1="755.1" y1="259" x2="1256.4" y2="259" stroke="#ebebeb" stroke-width="1.3"/>
<line x1="755.1" y1="175.6" x2="1256.4" y2="175.6" stroke="#ebebeb" stroke-width="1.3"/>
<line x1="755.1" y1="92.2" x2="1256.4" y2="92.2" stroke="#ebebeb" stroke-width="1.3"/>
<line x1="755.1" y1="384.1" x2="1256.4" y2="384.1" stroke="#f4f4f4" stroke-width="0.8"/>
<line x1="755.1" y1="300.7" x2="1256.4" y2="300.7" stroke="#f4f4f4" stroke-width="0.8"/>
<line x1="755.1" y1="217.3" x2="1256.4" y2="217.3" stroke="#f4f4f4" stroke-width="0.8"/>
<line x1="755.1" y1="133.9" x2="1256.4" y2="133.9" stroke="#f4f4f4" stroke-width="0.8"/>
<g fill="#8fd08c">
<circle cx="1030.9" cy="425.9" r="2.4"/>
<circle cx="1075.3" cy="426.1" r="2.4"/>
<circle cx="1061" cy="426.1" r="2.4"/>
<circle cx="878.1" cy="425.6" r="2.4"/>
<circle cx="1113.4" cy="425.8" r="2.4"/>
<circle cx="1102.5" cy="425.1" r="2.4"/>
<circle cx="934.1" cy="425.7" r="2.4"/>
<circle cx="874" cy="425.3" r="2.4"/>
<circle cx="942.6" cy="426.1" r="2.4"/>
<circle cx="1067.7" cy="425.2" r="2.4"/>
<circle cx="1075.8" cy="425.2" r="2.4"/>
<circle cx="1029.5" cy="425.2" r="2.4"/>
<circle cx="871.1" cy="426" r="2.4"/>
<circle cx="924.6" cy="425.3" r="2.4"/>
<circle cx="1123.4" cy="426" r="2.4"/>
<circle cx="945.1" cy="426.2" r="2.4"/>
<circle cx="1045.1" cy="425.2" r="2.4"/>
<circle cx="1112.8" cy="425.8" r="2.4"/>
<circle cx="1119.4" cy="426.1" r="2.4"/>
<circle cx="947.5" cy="425.4" r="2.4"/>
<circle cx="913.4" cy="425.2" r="2.4"/>
<circle cx="887.4" cy="425.4" r="2.4"/>
<circle cx="871.5" cy="425.8" r="2.4"/>
<circle cx="957.6" cy="425.4" r="2.4"/>
<circle cx="1081.3" cy="425.6" r="2.4"/>
<circle cx="951.9" cy="425.6" r="2.4"/>
<circle cx="1052" cy="425.1" r="2.4"/>
<circle cx="1121.6" cy="425" r="2.4"/>
<circle cx="1063.6" cy="426" r="2.4"/>
<circle cx="875.3" cy="425.9" r="2.4"/>
<circle cx="964.9" cy="425.7" r="2.4"/>
<circle cx="873" cy="425.1" r="2.4"/>
<circle cx="917.2" cy="426.1" r="2.4"/>
<circle cx="921.2" cy="425.9" r="2.4"/>
<circle cx="1109.9" cy="426.1" r="2.4"/>
<circle cx="959.3" cy="425.4" r="2.4"/>
<circle cx="1070.2" cy="425.1" r="2.4"/>
<circle cx="1063.2" cy="426" r="2.4"/>
<circle cx="1091.9" cy="425" r="2.4"/>
<circle cx="1114" cy="425.1" r="2.4"/>
<circle cx="958.3" cy="425.7" r="2.4"/>
<circle cx="1106.9" cy="425.4" r="2.4"/>
<circle cx="1108.5" cy="425.7" r="2.4"/>
<circle cx="951.1" cy="425.4" r="2.4"/>
<circle cx="916.3" cy="425.1" r="2.4"/>
<circle cx="909" cy="425.8" r="2.4"/>
<circle cx="1127.1" cy="425.2" r="2.4"/>
<circle cx="883.1" cy="426.2" r="2.4"/>
<circle cx="975.1" cy="425.3" r="2.4"/>
<circle cx="1083.3" cy="425.5" r="2.4"/>
<circle cx="979.2" cy="425.1" r="2.4"/>
<circle cx="1106.4" cy="425" r="2.4"/>
<circle cx="1086.4" cy="425.2" r="2.4"/>
<circle cx="1058.9" cy="426.1" r="2.4"/>
<circle cx="1032.9" cy="425.9" r="2.4"/>
<circle cx="898.1" cy="425.5" r="2.4"/>
<circle cx="909.1" cy="426" r="2.4"/>
<circle cx="946.5" cy="425.5" r="2.4"/>
<circle cx="1127.8" cy="426" r="2.4"/>
<circle cx="1121.8" cy="425.5" r="2.4"/>
<circle cx="1058.4" cy="425.6" r="2.4"/>
<circle cx="945.5" cy="425.5" r="2.4"/>
<circle cx="908.4" cy="425.5" r="2.4"/>
<circle cx="1125" cy="426.2" r="2.4"/>
<circle cx="1032" cy="425.6" r="2.4"/>
<circle cx="957.7" cy="425.1" r="2.4"/>
<circle cx="940.7" cy="425.9" r="2.4"/>
<circle cx="1093.8" cy="425.4" r="2.4"/>
<circle cx="1072.9" cy="425.9" r="2.4"/>
<circle cx="1049.4" cy="425.8" r="2.4"/>
<circle cx="1066.1" cy="425.4" r="2.4"/>
<circle cx="1051.9" cy="425.3" r="2.4"/>
<circle cx="1068.7" cy="425.8" r="2.4"/>
<circle cx="946.3" cy="426.1" r="2.4"/>
<circle cx="1037.8" cy="425.7" r="2.4"/>
<circle cx="873.6" cy="425.7" r="2.4"/>
<circle cx="935.2" cy="425.8" r="2.4"/>
<circle cx="1080.8" cy="425.8" r="2.4"/>
<circle cx="1075.9" cy="425.4" r="2.4"/>
<rect x="882" y="423.2" width="239.1" height="4.8" rx="2.4"/>
</g>
<rect x="982.2" y="423.2" width="45.5" height="4.8" fill="#9e9e9e"/>
<path d="M982.2,422.5 L982.2,364.1 L988.6,375.8 L993.6,402.4 L1002.3,422.8 Z" fill="#9db0ee"/>
<path d="M1027.8,422.5 L1027.8,339.1 L1022.8,362.4 L1015.2,399.1 L1007.3,422.8 Z" fill="#9db0ee"/>
<g fill="#9db0ee">
<circle cx="1023.9" cy="377.1" r="2.4"/>
<circle cx="1026.6" cy="409.8" r="2.4"/>
<circle cx="1027.4" cy="356.7" r="2.4"/>
<circle cx="989.2" cy="415.5" r="2.4"/>
<circle cx="1026.8" cy="389.9" r="2.4"/>
<circle cx="986.4" cy="390.6" r="2.4"/>
<circle cx="987.9" cy="386.8" r="2.4"/>
<circle cx="1017.4" cy="406" r="2.4"/>
<circle cx="1023.6" cy="419.4" r="2.4"/>
<circle cx="988.4" cy="399" r="2.4"/>
<circle cx="993.8" cy="409.2" r="2.4"/>
<circle cx="982.4" cy="367.5" r="2.4"/>
<circle cx="996.2" cy="419.6" r="2.4"/>
<circle cx="1027.3" cy="388.7" r="2.4"/>
<circle cx="990.9" cy="411.5" r="2.4"/>
<circle cx="988.3" cy="412.5" r="2.4"/>
<circle cx="1013" cy="417.2" r="2.4"/>
<circle cx="1025.6" cy="369" r="2.4"/>
<circle cx="1027.2" cy="384.4" r="2.4"/>
<circle cx="1014.4" cy="412.9" r="2.4"/>
<circle cx="1027" cy="401.6" r="2.4"/>
<circle cx="1025.1" cy="396.7" r="2.4"/>
<circle cx="1019.9" cy="415.1" r="2.4"/>
<circle cx="1021.3" cy="380.2" r="2.4"/>
<circle cx="988" cy="408.2" r="2.4"/>
<circle cx="991.4" cy="412.7" r="2.4"/>
<circle cx="992.2" cy="401.4" r="2.4"/>
<circle cx="1019.3" cy="387.2" r="2.4"/>
<circle cx="1017.3" cy="395.4" r="2.4"/>
<circle cx="1018.7" cy="393.7" r="2.4"/>
<circle cx="988.2" cy="411.6" r="2.4"/>
<circle cx="1020.3" cy="404.9" r="2.4"/>
<circle cx="1027" cy="400.8" r="2.4"/>
<circle cx="1015.1" cy="420.4" r="2.4"/>
<circle cx="1016.6" cy="419.9" r="2.4"/>
<circle cx="984.8" cy="420.2" r="2.4"/>
<circle cx="1016.6" cy="409.8" r="2.4"/>
<circle cx="993.4" cy="415.9" r="2.4"/>
<circle cx="986.4" cy="409" r="2.4"/>
<circle cx="1022" cy="399.4" r="2.4"/>
</g>
<g fill="#e9767b">
<circle cx="958.5" cy="398.1" r="2.5"/>
<circle cx="951.6" cy="419.5" r="2.5"/>
<circle cx="980.7" cy="403.6" r="2.5"/>
<circle cx="958.2" cy="414.3" r="2.5"/>
<circle cx="972.1" cy="406.8" r="2.5"/>
<circle cx="948.8" cy="416" r="2.5"/>
<circle cx="981" cy="420.3" r="2.5"/>
<circle cx="944.2" cy="418.3" r="2.5"/>
<circle cx="921.2" cy="413.5" r="2.5"/>
<circle cx="964.8" cy="403.9" r="2.5"/>
<circle cx="933" cy="417.7" r="2.5"/>
<circle cx="977.7" cy="401.5" r="2.5"/>
<circle cx="971.8" cy="406" r="2.5"/>
<circle cx="943.4" cy="398.6" r="2.5"/>
<circle cx="960.9" cy="385.5" r="2.5"/>
<circle cx="963.5" cy="416.6" r="2.5"/>
<circle cx="966.8" cy="419.6" r="2.5"/>
<circle cx="930.9" cy="410.9" r="2.5"/>
<circle cx="971.9" cy="413.4" r="2.5"/>
<circle cx="953.7" cy="399.8" r="2.5"/>
<circle cx="968.9" cy="406.2" r="2.5"/>
<circle cx="973.8" cy="402.9" r="2.5"/>
<circle cx="956.7" cy="418.5" r="2.5"/>
<circle cx="981.9" cy="400.9" r="2.5"/>
<circle cx="978.2" cy="415.1" r="2.5"/>
<circle cx="972.3" cy="381.9" r="2.5"/>
<circle cx="971.3" cy="420.5" r="2.5"/>
<circle cx="941.7" cy="410" r="2.5"/>
<circle cx="881.3" cy="423.3" r="2.5"/>
<circle cx="968.6" cy="420" r="2.5"/>
<circle cx="971.3" cy="397.3" r="2.5"/>
<circle cx="965.5" cy="354.1" r="2.5"/>
<circle cx="978.7" cy="413.2" r="2.5"/>
<circle cx="967.3" cy="363.8" r="2.5"/>
<circle cx="959.2" cy="411.8" r="2.5"/>
<circle cx="950.6" cy="418.9" r="2.5"/>
<circle cx="976.1" cy="418.5" r="2.5"/>
<circle cx="976.3" cy="410.2" r="2.5"/>
<circle cx="973.4" cy="401.5" r="2.5"/>
<circle cx="977.9" cy="390" r="2.5"/>
<circle cx="971.2" cy="408.2" r="2.5"/>
<circle cx="971.7" cy="412.5" r="2.5"/>
<circle cx="955.6" cy="379" r="2.5"/>
<circle cx="962.8" cy="411.7" r="2.5"/>
<circle cx="940.9" cy="419.8" r="2.5"/>
<circle cx="967.1" cy="398.2" r="2.5"/>
<circle cx="919.7" cy="418.2" r="2.5"/>
<circle cx="979.9" cy="398.9" r="2.5"/>
<circle cx="979.2" cy="414.4" r="2.5"/>
<circle cx="946.3" cy="406.6" r="2.5"/>
<circle cx="967.1" cy="415" r="2.5"/>
<circle cx="980.6" cy="410.5" r="2.5"/>
<circle cx="980.7" cy="392.5" r="2.5"/>
<circle cx="964.4" cy="398.3" r="2.5"/>
<circle cx="945.9" cy="420.1" r="2.5"/>
<circle cx="960.7" cy="418.7" r="2.5"/>
<circle cx="964.8" cy="375.4" r="2.5"/>
<circle cx="970.5" cy="406.1" r="2.5"/>
<circle cx="959.7" cy="420.6" r="2.5"/>
<circle cx="936.7" cy="411.9" r="2.5"/>
<circle cx="966.9" cy="351.5" r="2.5"/>
<circle cx="976.8" cy="394.9" r="2.5"/>
<circle cx="979.9" cy="338.5" r="2.5"/>
<circle cx="968.3" cy="396" r="2.5"/>
<circle cx="975.5" cy="398.6" r="2.5"/>
<circle cx="968.1" cy="411.1" r="2.5"/>
<circle cx="979.8" cy="399.3" r="2.5"/>
<circle cx="956.7" cy="414.4" r="2.5"/>
<circle cx="970.6" cy="380.3" r="2.5"/>
<circle cx="972.1" cy="397.2" r="2.5"/>
<circle cx="972" cy="377.4" r="2.5"/>
<circle cx="953.7" cy="410.9" r="2.5"/>
<circle cx="951.2" cy="404" r="2.5"/>
<circle cx="961.8" cy="411.4" r="2.5"/>
<circle cx="976.2" cy="415.9" r="2.5"/>
<circle cx="978" cy="420.2" r="2.5"/>
<circle cx="957.2" cy="398.1" r="2.5"/>
<circle cx="961.3" cy="421.1" r="2.5"/>
<circle cx="923.5" cy="417.1" r="2.5"/>
<circle cx="971.1" cy="408.3" r="2.5"/>
<circle cx="969.5" cy="417.3" r="2.5"/>
<circle cx="979.4" cy="417.2" r="2.5"/>
<circle cx="962.4" cy="379" r="2.5"/>
<circle cx="962.3" cy="417.9" r="2.5"/>
<circle cx="981.6" cy="417.1" r="2.5"/>
<circle cx="959.3" cy="415.2" r="2.5"/>
<circle cx="979.2" cy="420.4" r="2.5"/>
<circle cx="949.7" cy="390.2" r="2.5"/>
<circle cx="936.6" cy="412.9" r="2.5"/>
<circle cx="933" cy="414.3" r="2.5"/>
<circle cx="914.7" cy="420.8" r="2.5"/>
<circle cx="970.1" cy="395.8" r="2.5"/>
<circle cx="971.3" cy="391.2" r="2.5"/>
<circle cx="941" cy="419.6" r="2.5"/>
<circle cx="980.3" cy="415.1" r="2.5"/>
<circle cx="976.1" cy="419.3" r="2.5"/>
<circle cx="919.8" cy="419.5" r="2.5"/>
<circle cx="937.5" cy="418.4" r="2.5"/>
<circle cx="959.5" cy="397.9" r="2.5"/>
<circle cx="977.6" cy="392.1" r="2.5"/>
<circle cx="971.3" cy="395.5" r="2.5"/>
<circle cx="964.2" cy="361.1" r="2.5"/>
<circle cx="963.8" cy="358.5" r="2.5"/>
<circle cx="958.3" cy="421" r="2.5"/>
<circle cx="936.3" cy="417.4" r="2.5"/>
<circle cx="963.8" cy="420.2" r="2.5"/>
<circle cx="900.2" cy="420.5" r="2.5"/>
<circle cx="956.5" cy="414.4" r="2.5"/>
<circle cx="973.1" cy="368.6" r="2.5"/>
<circle cx="976.1" cy="405.6" r="2.5"/>
<circle cx="973.5" cy="414.7" r="2.5"/>
<circle cx="978.5" cy="419.9" r="2.5"/>
<circle cx="974.2" cy="414.4" r="2.5"/>
<circle cx="976.2" cy="409.1" r="2.5"/>
<circle cx="979" cy="420.3" r="2.5"/>
<circle cx="973.6" cy="339.4" r="2.5"/>
<circle cx="967.7" cy="409.3" r="2.5"/>
<circle cx="951.6" cy="411.4" r="2.5"/>
<circle cx="960.9" cy="419" r="2.5"/>
<circle cx="969.7" cy="403.2" r="2.5"/>
<circle cx="948.4" cy="399.1" r="2.5"/>
<circle cx="964" cy="416" r="2.5"/>
<circle cx="947" cy="414" r="2.5"/>
<circle cx="978.4" cy="401.7" r="2.5"/>
<circle cx="953.8" cy="403" r="2.5"/>
<circle cx="954.3" cy="386" r="2.5"/>
<circle cx="971.2" cy="381" r="2.5"/>
<circle cx="953.2" cy="417.7" r="2.5"/>
<circle cx="963.8" cy="419.2" r="2.5"/>
<circle cx="965.9" cy="387.4" r="2.5"/>
<circle cx="971.8" cy="417.9" r="2.5"/>
<circle cx="959.9" cy="419.6" r="2.5"/>
<circle cx="981.8" cy="408.3" r="2.5"/>
<circle cx="970.3" cy="401.4" r="2.5"/>
<circle cx="981.9" cy="393.5" r="2.5"/>
<circle cx="972.1" cy="420" r="2.5"/>
<circle cx="975" cy="410.4" r="2.5"/>
<circle cx="960" cy="419.3" r="2.5"/>
<circle cx="960.5" cy="395.4" r="2.5"/>
<circle cx="970.4" cy="402.5" r="2.5"/>
<circle cx="949.3" cy="404.4" r="2.5"/>
<circle cx="957" cy="407.4" r="2.5"/>
<circle cx="933.2" cy="414.5" r="2.5"/>
<circle cx="963.6" cy="359.2" r="2.5"/>
<circle cx="976.1" cy="414" r="2.5"/>
<circle cx="938.4" cy="408.4" r="2.5"/>
<circle cx="971.1" cy="419.6" r="2.5"/>
<circle cx="972.1" cy="416.9" r="2.5"/>
<circle cx="978.9" cy="413.4" r="2.5"/>
<circle cx="939.6" cy="420.6" r="2.5"/>
<circle cx="979.1" cy="420.5" r="2.5"/>
<circle cx="946" cy="420.6" r="2.5"/>
<circle cx="963.9" cy="379.7" r="2.5"/>
<circle cx="962.7" cy="361.5" r="2.5"/>
<circle cx="966.5" cy="408.3" r="2.5"/>
<circle cx="968.9" cy="410.8" r="2.5"/>
<circle cx="980.1" cy="401" r="2.5"/>
<circle cx="978.3" cy="380.9" r="2.5"/>
<circle cx="980.4" cy="403.8" r="2.5"/>
<circle cx="969.6" cy="416.8" r="2.5"/>
<circle cx="974.4" cy="357.2" r="2.5"/>
<circle cx="952.3" cy="400.2" r="2.5"/>
<circle cx="963.9" cy="369.2" r="2.5"/>
<circle cx="965.4" cy="407.3" r="2.5"/>
<circle cx="954.1" cy="400.3" r="2.5"/>
<circle cx="969.9" cy="358" r="2.5"/>
<circle cx="908.5" cy="419" r="2.5"/>
<circle cx="966.9" cy="418.6" r="2.5"/>
<circle cx="970.6" cy="419.9" r="2.5"/>
<circle cx="954.9" cy="378.7" r="2.5"/>
<circle cx="945.7" cy="414.4" r="2.5"/>
<circle cx="974.6" cy="372.2" r="2.5"/>
<circle cx="966.7" cy="413.7" r="2.5"/>
<circle cx="969.8" cy="416" r="2.5"/>
<circle cx="957.5" cy="398.4" r="2.5"/>
<circle cx="1033.9" cy="408.8" r="2.5"/>
<circle cx="1035.5" cy="290.3" r="2.5"/>
<circle cx="1038.1" cy="349.5" r="2.5"/>
<circle cx="1041.7" cy="404.7" r="2.5"/>
<circle cx="1047" cy="417.4" r="2.5"/>
<circle cx="1037.5" cy="419.6" r="2.5"/>
<circle cx="1045" cy="416.2" r="2.5"/>
<circle cx="1049.9" cy="373.9" r="2.5"/>
<circle cx="1043.6" cy="414.7" r="2.5"/>
<circle cx="1032.2" cy="370" r="2.5"/>
<circle cx="1042.2" cy="359.1" r="2.5"/>
<circle cx="1049.7" cy="411.4" r="2.5"/>
<circle cx="1049.2" cy="420.9" r="2.5"/>
<circle cx="1050.4" cy="417.1" r="2.5"/>
<circle cx="1029.4" cy="399.2" r="2.5"/>
<circle cx="1029.4" cy="404.5" r="2.5"/>
<circle cx="1031.4" cy="399.7" r="2.5"/>
<circle cx="1054.1" cy="412.9" r="2.5"/>
<circle cx="1031.8" cy="259.6" r="2.5"/>
<circle cx="1043.3" cy="386.4" r="2.5"/>
<circle cx="1063.3" cy="410.2" r="2.5"/>
<circle cx="1057.5" cy="415.1" r="2.5"/>
<circle cx="1034.8" cy="381.1" r="2.5"/>
<circle cx="1036.7" cy="407" r="2.5"/>
<circle cx="1046.5" cy="419.1" r="2.5"/>
<circle cx="1041.4" cy="392.9" r="2.5"/>
<circle cx="1036.1" cy="359" r="2.5"/>
<circle cx="1031" cy="303.4" r="2.5"/>
<circle cx="1042" cy="411" r="2.5"/>
<circle cx="1029.2" cy="358.9" r="2.5"/>
<circle cx="1034.2" cy="371.8" r="2.5"/>
<circle cx="1062.9" cy="409.4" r="2.5"/>
<circle cx="1037.5" cy="347.6" r="2.5"/>
<circle cx="1029.4" cy="410.7" r="2.5"/>
<circle cx="1051.2" cy="407.3" r="2.5"/>
<circle cx="1037.8" cy="306.5" r="2.5"/>
<circle cx="1035.4" cy="386.2" r="2.5"/>
<circle cx="1028.8" cy="399.1" r="2.5"/>
<circle cx="1028.6" cy="412.4" r="2.5"/>
<circle cx="1048.7" cy="368.5" r="2.5"/>
<circle cx="1057.8" cy="408.5" r="2.5"/>
<circle cx="1034" cy="369.2" r="2.5"/>
<circle cx="1033.1" cy="385.3" r="2.5"/>
<circle cx="1031.3" cy="324.2" r="2.5"/>
<circle cx="1043.9" cy="414.3" r="2.5"/>
<circle cx="1032.4" cy="377.8" r="2.5"/>
<circle cx="1040.4" cy="342.9" r="2.5"/>
<circle cx="1039.8" cy="369.2" r="2.5"/>
<circle cx="1048.8" cy="415.6" r="2.5"/>
<circle cx="1048.1" cy="381.2" r="2.5"/>
<circle cx="1036.2" cy="329.8" r="2.5"/>
<circle cx="1030.2" cy="396.5" r="2.5"/>
<circle cx="1045.3" cy="401.4" r="2.5"/>
<circle cx="1039.7" cy="409.4" r="2.5"/>
<circle cx="1035.9" cy="380.2" r="2.5"/>
<circle cx="1038.5" cy="419.9" r="2.5"/>
<circle cx="1030.1" cy="415.7" r="2.5"/>
<circle cx="1049.2" cy="416.8" r="2.5"/>
<circle cx="1036.7" cy="412.2" r="2.5"/>
<circle cx="1048.2" cy="394.8" r="2.5"/>
<circle cx="1041.5" cy="378.9" r="2.5"/>
<circle cx="1046" cy="375.5" r="2.5"/>
<circle cx="1035.2" cy="288" r="2.5"/>
<circle cx="1041.6" cy="387.8" r="2.5"/>
<circle cx="1058" cy="386.9" r="2.5"/>
<circle cx="1031.2" cy="339.4" r="2.5"/>
<circle cx="1053.9" cy="410.5" r="2.5"/>
<circle cx="1036.8" cy="414" r="2.5"/>
<circle cx="1034.4" cy="416.8" r="2.5"/>
<circle cx="1041.4" cy="417.5" r="2.5"/>
<circle cx="1047" cy="387.2" r="2.5"/>
<circle cx="1030.5" cy="348.7" r="2.5"/>
<circle cx="1059.1" cy="405.7" r="2.5"/>
<circle cx="1065.8" cy="412.8" r="2.5"/>
<circle cx="1047.4" cy="355.5" r="2.5"/>
<circle cx="1034.1" cy="418.2" r="2.5"/>
<circle cx="1032.6" cy="410.8" r="2.5"/>
<circle cx="1041.1" cy="383.3" r="2.5"/>
<circle cx="1041.2" cy="376.3" r="2.5"/>
<circle cx="1042.8" cy="397.4" r="2.5"/>
<circle cx="1036.5" cy="401" r="2.5"/>
<circle cx="1044.8" cy="408.4" r="2.5"/>
<circle cx="1043.3" cy="387.2" r="2.5"/>
<circle cx="1071.6" cy="407.1" r="2.5"/>
<circle cx="1029" cy="417.8" r="2.5"/>
<circle cx="1029.4" cy="405.5" r="2.5"/>
<circle cx="1055" cy="419.2" r="2.5"/>
<circle cx="1043.6" cy="382.5" r="2.5"/>
<circle cx="1029.9" cy="309.7" r="2.5"/>
<circle cx="1038.2" cy="394.3" r="2.5"/>
<circle cx="1037.3" cy="372.4" r="2.5"/>
<circle cx="1033.2" cy="405.5" r="2.5"/>
<circle cx="1049.5" cy="412.5" r="2.5"/>
<circle cx="1039.7" cy="419.3" r="2.5"/>
<circle cx="1044.6" cy="406.2" r="2.5"/>
<circle cx="1029.7" cy="417.7" r="2.5"/>
<circle cx="1053" cy="415.7" r="2.5"/>
<circle cx="1043.8" cy="340" r="2.5"/>
<circle cx="1038.8" cy="391.8" r="2.5"/>
<circle cx="1057.8" cy="419.9" r="2.5"/>
<circle cx="1053.9" cy="413.9" r="2.5"/>
<circle cx="1028.4" cy="356.5" r="2.5"/>
<circle cx="1029.4" cy="401.2" r="2.5"/>
<circle cx="1040.7" cy="400.3" r="2.5"/>
<circle cx="1029.1" cy="399.7" r="2.5"/>
<circle cx="1033.4" cy="410.2" r="2.5"/>
<circle cx="1028.4" cy="258.3" r="2.5"/>
<circle cx="1045.8" cy="418.8" r="2.5"/>
<circle cx="1034.6" cy="406.6" r="2.5"/>
<circle cx="1052.8" cy="408.7" r="2.5"/>
<circle cx="1035.1" cy="418.7" r="2.5"/>
<circle cx="1050.9" cy="410.1" r="2.5"/>
<circle cx="1046.3" cy="398.7" r="2.5"/>
<circle cx="1047.9" cy="398" r="2.5"/>
<circle cx="1041.9" cy="420" r="2.5"/>
<circle cx="1056.7" cy="413.6" r="2.5"/>
<circle cx="1032.1" cy="328.9" r="2.5"/>
<circle cx="1045.1" cy="408.5" r="2.5"/>
<circle cx="1061.5" cy="393.4" r="2.5"/>
<circle cx="1029.2" cy="414" r="2.5"/>
<circle cx="1063.8" cy="406.6" r="2.5"/>
<circle cx="1068.1" cy="403.2" r="2.5"/>
<circle cx="1049.2" cy="415.9" r="2.5"/>
<circle cx="1039.7" cy="398.4" r="2.5"/>
<circle cx="1034.2" cy="406.1" r="2.5"/>
<circle cx="1032.2" cy="412.9" r="2.5"/>
<circle cx="1035.4" cy="393.9" r="2.5"/>
<circle cx="1042.7" cy="352.1" r="2.5"/>
<circle cx="1035.3" cy="324.8" r="2.5"/>
<circle cx="1028.9" cy="342.8" r="2.5"/>
<circle cx="1030.9" cy="277.1" r="2.5"/>
<circle cx="1035.3" cy="409.1" r="2.5"/>
<circle cx="1033.2" cy="308.7" r="2.5"/>
<circle cx="1031.7" cy="412" r="2.5"/>
<circle cx="1029.4" cy="396.2" r="2.5"/>
<circle cx="1030.8" cy="400.4" r="2.5"/>
<circle cx="1056.2" cy="399.5" r="2.5"/>
<circle cx="1039.7" cy="318.3" r="2.5"/>
<circle cx="1044.6" cy="388" r="2.5"/>
<circle cx="1034.8" cy="375.3" r="2.5"/>
<circle cx="1032.2" cy="400.2" r="2.5"/>
<circle cx="1041" cy="392" r="2.5"/>
<circle cx="1042.1" cy="331.4" r="2.5"/>
<circle cx="1029" cy="407.6" r="2.5"/>
<circle cx="1049.9" cy="405" r="2.5"/>
<circle cx="789.3" cy="383.4" r="2.5"/>
<circle cx="829.9" cy="400.7" r="2.5"/>
<circle cx="835.4" cy="400.7" r="2.5"/>
<circle cx="839" cy="404.4" r="2.5"/>
<circle cx="901.7" cy="267.3" r="2.5"/>
<circle cx="920.9" cy="387.8" r="2.5"/>
<circle cx="932.3" cy="354.6" r="2.5"/>
<circle cx="950.8" cy="359.4" r="2.5"/>
<circle cx="972.5" cy="238.9" r="2.5"/>
<circle cx="976.2" cy="271" r="2.5"/>
<circle cx="966.3" cy="282.8" r="2.5"/>
<circle cx="965.5" cy="290.1" r="2.5"/>
<circle cx="974.7" cy="285.7" r="2.5"/>
<circle cx="976.2" cy="305.3" r="2.5"/>
<circle cx="955.2" cy="377.1" r="2.5"/>
<circle cx="1044.4" cy="205.3" r="2.5"/>
<circle cx="1037" cy="223.4" r="2.5"/>
<circle cx="1043" cy="220.5" r="2.5"/>
<circle cx="1051.8" cy="244.4" r="2.5"/>
<circle cx="1055.1" cy="259.2" r="2.5"/>
<circle cx="1054.7" cy="272.8" r="2.5"/>
<circle cx="1042.6" cy="266.9" r="2.5"/>
<circle cx="1031.2" cy="274.3" r="2.5"/>
<circle cx="1040.4" cy="280.2" r="2.5"/>
<circle cx="1040.7" cy="295.3" r="2.5"/>
<circle cx="1134.8" cy="408.5" r="2.5"/>
<circle cx="1105.3" cy="413.6" r="2.5"/>
<circle cx="1113" cy="415.9" r="2.5"/>
<circle cx="1066.9" cy="390" r="2.5"/>
<circle cx="1059.5" cy="352.8" r="2.5"/>
<circle cx="1036" cy="300" r="2.5"/>
<circle cx="1038" cy="310" r="2.5"/>
<circle cx="1046" cy="305" r="2.5"/>
<circle cx="1034" cy="330" r="2.5"/>
<circle cx="1050" cy="320" r="2.5"/>
<circle cx="1060" cy="337" r="2.5"/>
<circle cx="1066" cy="352" r="2.5"/>
<circle cx="972" cy="320" r="2.5"/>
<circle cx="975" cy="330" r="2.5"/>
<circle cx="968" cy="340" r="2.5"/>
<circle cx="960" cy="350" r="2.5"/>
<circle cx="977" cy="345" r="2.5"/>
</g>
<line x1="982.2" y1="76.4" x2="982.2" y2="441.6" stroke="#222" stroke-width="1.3" stroke-dasharray="5,3"/>
<line x1="1027.8" y1="76.4" x2="1027.8" y2="441.6" stroke="#222" stroke-width="1.3" stroke-dasharray="5,3"/>
<line x1="755.1" y1="421.5" x2="1256.4" y2="421.5" stroke="#222" stroke-width="1.3" stroke-dasharray="5,3"/>
<rect x="755.1" y="76.4" width="501.3" height="365.2" fill="none" stroke="#000" stroke-width="2"/>
<line x1="973.6" y1="312.6" x2="968" y2="318" stroke="#000" stroke-width="1.2"/>
<rect x="928.7" y="316.3" width="60.4" height="17.3" rx="3" fill="#fff" stroke="#000" stroke-width="1"/>
<text x="958.9" y="330" font-size="14" text-anchor="middle">NFE2L1</text>
<line x1="777.3" y1="441.6" x2="777.3" y2="447.6" stroke="#333" stroke-width="1.8"/>
<text x="777.3" y="466.6" font-size="18.5" text-anchor="middle" fill="#4d4d4d">- 10</text>
<line x1="891.1" y1="441.6" x2="891.1" y2="447.6" stroke="#333" stroke-width="1.8"/>
<text x="891.1" y="466.6" font-size="18.5" text-anchor="middle" fill="#4d4d4d">- 5</text>
<line x1="1005" y1="441.6" x2="1005" y2="447.6" stroke="#333" stroke-width="1.8"/>
<text x="1005" y="466.6" font-size="18.5" text-anchor="middle" fill="#4d4d4d">0</text>
<line x1="1118.8" y1="441.6" x2="1118.8" y2="447.6" stroke="#333" stroke-width="1.8"/>
<text x="1118.8" y="466.6" font-size="18.5" text-anchor="middle" fill="#4d4d4d">5</text>
<line x1="1232.7" y1="441.6" x2="1232.7" y2="447.6" stroke="#333" stroke-width="1.8"/>
<text x="1232.7" y="466.6" font-size="18.5" text-anchor="middle" fill="#4d4d4d">10</text>
<line x1="748.6" y1="425.8" x2="755.1" y2="425.8" stroke="#333" stroke-width="1.8"/>
<text x="743.2" y="432.6" font-size="18.5" text-anchor="end" fill="#4d4d4d">0</text>
<line x1="748.6" y1="342.4" x2="755.1" y2="342.4" stroke="#333" stroke-width="1.8"/>
<text x="743.2" y="349.2" font-size="18.5" text-anchor="end" fill="#4d4d4d">25</text>
<line x1="748.6" y1="259" x2="755.1" y2="259" stroke="#333" stroke-width="1.8"/>
<text x="743.2" y="265.8" font-size="18.5" text-anchor="end" fill="#4d4d4d">50</text>
<line x1="748.6" y1="175.6" x2="755.1" y2="175.6" stroke="#333" stroke-width="1.8"/>
<text x="743.2" y="182.4" font-size="18.5" text-anchor="end" fill="#4d4d4d">75</text>
<line x1="748.6" y1="92.2" x2="755.1" y2="92.2" stroke="#333" stroke-width="1.8"/>
<text x="743.2" y="99" font-size="18.5" text-anchor="end" fill="#4d4d4d">100</text>
<text x="1007.5" y="489.6" font-size="18.5" text-anchor="middle">Log<tspan font-size="13" dy="4">2</tspan><tspan dy="-4"> fold change</tspan></text>
<text transform="translate(703,258) rotate(-90)" font-size="18.5" text-anchor="middle">−Log<tspan font-size="13" dy="4">10</tspan><tspan dy="-4"> padj</tspan></text>
<text x="1255.4" y="519.9" font-size="14.4" text-anchor="end">total = 23421 variables</text>
<line x1="902.4" y1="579.2" x2="902.4" y2="1154" stroke="#ebebeb" stroke-width="1.1"/>
<line x1="986.9" y1="579.2" x2="986.9" y2="1154" stroke="#ebebeb" stroke-width="1.1"/>
<line x1="1071.4" y1="579.2" x2="1071.4" y2="1154" stroke="#ebebeb" stroke-width="1.1"/>
<line x1="1155.9" y1="579.2" x2="1155.9" y2="1154" stroke="#ebebeb" stroke-width="1.1"/>
<line x1="1240.4" y1="579.2" x2="1240.4" y2="1154" stroke="#ebebeb" stroke-width="1.1"/>
<line x1="944.6" y1="579.2" x2="944.6" y2="1154" stroke="#f3f3f3" stroke-width="0.7"/>
<line x1="1029.1" y1="579.2" x2="1029.1" y2="1154" stroke="#f3f3f3" stroke-width="0.7"/>
<line x1="1113.6" y1="579.2" x2="1113.6" y2="1154" stroke="#f3f3f3" stroke-width="0.7"/>
<line x1="1198.2" y1="579.2" x2="1198.2" y2="1154" stroke="#f3f3f3" stroke-width="0.7"/>
<line x1="868.5" y1="604.9" x2="1254.8" y2="604.9" stroke="#ebebeb" stroke-width="1.1"/>
<line x1="868.5" y1="648.5" x2="1254.8" y2="648.5" stroke="#ebebeb" stroke-width="1.1"/>
<line x1="868.5" y1="692.2" x2="1254.8" y2="692.2" stroke="#ebebeb" stroke-width="1.1"/>
<line x1="868.5" y1="735.8" x2="1254.8" y2="735.8" stroke="#ebebeb" stroke-width="1.1"/>
<line x1="868.5" y1="779.4" x2="1254.8" y2="779.4" stroke="#ebebeb" stroke-width="1.1"/>
<line x1="868.5" y1="823" x2="1254.8" y2="823" stroke="#ebebeb" stroke-width="1.1"/>
<line x1="868.5" y1="866.7" x2="1254.8" y2="866.7" stroke="#ebebeb" stroke-width="1.1"/>
<line x1="868.5" y1="910.3" x2="1254.8" y2="910.3" stroke="#ebebeb" stroke-width="1.1"/>
<line x1="868.5" y1="953.9" x2="1254.8" y2="953.9" stroke="#ebebeb" stroke-width="1.1"/>
<line x1="868.5" y1="997.6" x2="1254.8" y2="997.6" stroke="#ebebeb" stroke-width="1.1"/>
<line x1="868.5" y1="1041.2" x2="1254.8" y2="1041.2" stroke="#ebebeb" stroke-width="1.1"/>
<line x1="868.5" y1="1084.8" x2="1254.8" y2="1084.8" stroke="#ebebeb" stroke-width="1.1"/>
<line x1="868.5" y1="1128.5" x2="1254.8" y2="1128.5" stroke="#ebebeb" stroke-width="1.1"/>
<circle cx="1237.1" cy="604.9" r="4.3" fill="#86ef22"/>
<circle cx="1081.4" cy="648.5" r="6.7" fill="#a9cd2a"/>
<circle cx="1051.2" cy="692.2" r="8.6" fill="#ff2814"/>
<circle cx="1037.8" cy="735.8" r="6.6" fill="#8fe428"/>
<circle cx="1037.8" cy="779.4" r="6.6" fill="#8fe428"/>
<circle cx="983.2" cy="823" r="6.6" fill="#6cf21e"/>
<circle cx="980" cy="866.7" r="6.6" fill="#80ec22"/>
<circle cx="976.2" cy="910.3" r="8.6" fill="#e07a24"/>
<circle cx="936" cy="953.9" r="8.6" fill="#c6a92c"/>
<circle cx="925.9" cy="997.6" r="8.2" fill="#a0e22a"/>
<circle cx="922.7" cy="1041.2" r="7.2" fill="#8de828"/>
<circle cx="895.4" cy="1084.8" r="8.2" fill="#4cf414"/>
<circle cx="885.2" cy="1128.5" r="10.6" fill="#a5df2a"/>
<rect x="868.5" y="579.2" width="386.3" height="574.8" fill="none" stroke="#333" stroke-width="1.3"/>
<line x1="864" y1="604.9" x2="868.5" y2="604.9" stroke="#333" stroke-width="1.3"/>
<text x="861" y="610.5" font-size="15.8" text-anchor="end" fill="#111">ER overload response</text>
<line x1="864" y1="648.5" x2="868.5" y2="648.5" stroke="#333" stroke-width="1.3"/>
<text x="861" y="654.1" font-size="15.8" text-anchor="end" fill="#111">protein refolding</text>
<line x1="864" y1="692.2" x2="868.5" y2="692.2" stroke="#333" stroke-width="1.3"/>
<text x="861" y="697.8" font-size="15.8" text-anchor="end" fill="#111">response to unfolded protein</text>
<line x1="864" y1="735.8" x2="868.5" y2="735.8" stroke="#333" stroke-width="1.3"/>
<line x1="864" y1="779.4" x2="868.5" y2="779.4" stroke="#333" stroke-width="1.3"/>
<text x="861" y="785" font-size="15.8" text-anchor="end" fill="#111">chaperone cofactor- dependent protein refolding</text>
<line x1="864" y1="823" x2="868.5" y2="823" stroke="#333" stroke-width="1.3"/>
<text x="861" y="828.6" font-size="15.8" text-anchor="end" fill="#111">negative regulation of MAPK cascade</text>
<line x1="864" y1="866.7" x2="868.5" y2="866.7" stroke="#333" stroke-width="1.3"/>
<text x="861" y="872.3" font-size="15.8" text-anchor="end" fill="#111">endoplasmic reticulum unfolded protein response</text>
<line x1="864" y1="910.3" x2="868.5" y2="910.3" stroke="#333" stroke-width="1.3"/>
<text x="861" y="915.9" font-size="15.8" text-anchor="end" fill="#111">response to endoplasmic reticulum stress</text>
<line x1="864" y1="953.9" x2="868.5" y2="953.9" stroke="#333" stroke-width="1.3"/>
<text x="861" y="959.5" font-size="15.8" text-anchor="end" fill="#111">cellular response to hypoxia</text>
<line x1="864" y1="997.6" x2="868.5" y2="997.6" stroke="#333" stroke-width="1.3"/>
<text x="861" y="1003.2" font-size="15.8" text-anchor="end" fill="#111">MAPK cascade</text>
<line x1="864" y1="1041.2" x2="868.5" y2="1041.2" stroke="#333" stroke-width="1.3"/>
<text x="861" y="1046.8" font-size="15.8" text-anchor="end" fill="#111">positive regulation of JNK cascade</text>
<line x1="864" y1="1084.8" x2="868.5" y2="1084.8" stroke="#333" stroke-width="1.3"/>
<text x="861" y="1090.4" font-size="15.8" text-anchor="end" fill="#111">response to hypoxia</text>
<line x1="864" y1="1128.5" x2="868.5" y2="1128.5" stroke="#333" stroke-width="1.3"/>
<text x="861" y="1134.1" font-size="15.8" text-anchor="end" fill="#111">inflammatory response</text>
<text x="861" y="730.6" font-size="15.8" text-anchor="end" fill="#111">Intrinsic apoptotic signaling pathway in</text>
<text x="861" y="750.6" font-size="15.8" text-anchor="end" fill="#111">response to endoplasmic reticulum stress</text>
<line x1="902.4" y1="1154" x2="902.4" y2="1158.5" stroke="#333" stroke-width="1.3"/>
<text x="902.4" y="1174" font-size="14.8" text-anchor="middle" fill="#111">2.5</text>
<line x1="986.9" y1="1154" x2="986.9" y2="1158.5" stroke="#333" stroke-width="1.3"/>
<text x="986.9" y="1174" font-size="14.8" text-anchor="middle" fill="#111">5.0</text>
<line x1="1071.4" y1="1154" x2="1071.4" y2="1158.5" stroke="#333" stroke-width="1.3"/>
<text x="1071.4" y="1174" font-size="14.8" text-anchor="middle" fill="#111">7.5</text>
<line x1="1155.9" y1="1154" x2="1155.9" y2="1158.5" stroke="#333" stroke-width="1.3"/>
<text x="1155.9" y="1174" font-size="14.8" text-anchor="middle" fill="#111">10.0</text>
<line x1="1240.4" y1="1154" x2="1240.4" y2="1158.5" stroke="#333" stroke-width="1.3"/>
<text x="1240.4" y="1174" font-size="14.8" text-anchor="middle" fill="#111">12.5</text>
<text x="1061.5" y="1198.4" font-size="22.3" text-anchor="middle">Fold Enrichment</text>
<text x="880.5" y="567" font-size="20.5" font-weight="bold" letter-spacing="0.9">GO_BP analysis</text>
<path d="M625.4,685.5 L651,692.5 L625.4,699.5 Z" fill="#c81e16"/>
<path d="M483.4,860.7 L508.6,867.7 L483.4,874.7 Z" fill="#c81e16"/>
<path d="M535.4,904.6 L561,911.6 L535.4,918.6 Z" fill="#c81e16"/>
<text x="1281.2" y="730.5" font-size="15.8">- log<tspan font-size="11" dy="3">10</tspan><tspan dy="-3">(pvalue)</tspan></text>
<rect x="1281.2" y="743.2" width="26.8" height="135.5" fill="url(#pvg)"/>
<line x1="1281.2" y1="760.3" x2="1286.5" y2="760.3" stroke="#fff" stroke-width="1"/>
<line x1="1302.7" y1="760.3" x2="1308" y2="760.3" stroke="#fff" stroke-width="1"/>
<text x="1315.9" y="765.3" font-size="13.8" fill="#111">4.0</text>
<line x1="1281.2" y1="782.6" x2="1286.5" y2="782.6" stroke="#fff" stroke-width="1"/>
<line x1="1302.7" y1="782.6" x2="1308" y2="782.6" stroke="#fff" stroke-width="1"/>
<text x="1315.9" y="787.6" font-size="13.8" fill="#111">3.5</text>
<line x1="1281.2" y1="805.3" x2="1286.5" y2="805.3" stroke="#fff" stroke-width="1"/>
<line x1="1302.7" y1="805.3" x2="1308" y2="805.3" stroke="#fff" stroke-width="1"/>
<text x="1315.9" y="810.3" font-size="13.8" fill="#111">3.0</text>
<line x1="1281.2" y1="827.7" x2="1286.5" y2="827.7" stroke="#fff" stroke-width="1"/>
<line x1="1302.7" y1="827.7" x2="1308" y2="827.7" stroke="#fff" stroke-width="1"/>
<text x="1315.9" y="832.7" font-size="13.8" fill="#111">2.5</text>
<line x1="1281.2" y1="850.4" x2="1286.5" y2="850.4" stroke="#fff" stroke-width="1"/>
<line x1="1302.7" y1="850.4" x2="1308" y2="850.4" stroke="#fff" stroke-width="1"/>
<text x="1315.9" y="855.4" font-size="13.8" fill="#111">2.0</text>
<line x1="1281.2" y1="873" x2="1286.5" y2="873" stroke="#fff" stroke-width="1"/>
<line x1="1302.7" y1="873" x2="1308" y2="873" stroke="#fff" stroke-width="1"/>
<text x="1315.9" y="878" font-size="13.8" fill="#111">1.5</text>
<text x="1281.6" y="925.8" font-size="15" fill="#111">count</text>
<circle cx="1294.3" cy="948.9" r="7.1" fill="#000"/>
<text x="1315.9" y="953.9" font-size="13.8" fill="#111">5</text>
<circle cx="1294.3" cy="976.2" r="9.2" fill="#000"/>
<text x="1315.9" y="981.2" font-size="13.8" fill="#111">10</text>
<circle cx="1294.3" cy="1003.3" r="10.4" fill="#000"/>
<text x="1315.9" y="1008.3" font-size="13.8" fill="#111">15</text>
<rect x="1389.6" y="75.9" width="580.8" height="949.8" fill="none" stroke="#000" stroke-width="3.2"/>
<line x1="1497.1" y1="117.4" x2="1497.1" y2="306.7" stroke="#ebebeb" stroke-width="1"/>
<line x1="1497.1" y1="372.2" x2="1497.1" y2="472.6" stroke="#ebebeb" stroke-width="1"/>
<line x1="1551" y1="117.4" x2="1551" y2="306.7" stroke="#ebebeb" stroke-width="1"/>
<line x1="1551" y1="372.2" x2="1551" y2="472.6" stroke="#ebebeb" stroke-width="1"/>
<line x1="1604.8" y1="117.4" x2="1604.8" y2="306.7" stroke="#ebebeb" stroke-width="1"/>
<line x1="1604.8" y1="372.2" x2="1604.8" y2="472.6" stroke="#ebebeb" stroke-width="1"/>
<line x1="1658.7" y1="117.4" x2="1658.7" y2="306.7" stroke="#ebebeb" stroke-width="1"/>
<line x1="1658.7" y1="372.2" x2="1658.7" y2="472.6" stroke="#ebebeb" stroke-width="1"/>
<line x1="1712.5" y1="117.4" x2="1712.5" y2="306.7" stroke="#ebebeb" stroke-width="1"/>
<line x1="1712.5" y1="372.2" x2="1712.5" y2="472.6" stroke="#ebebeb" stroke-width="1"/>
<line x1="1766.4" y1="117.4" x2="1766.4" y2="306.7" stroke="#ebebeb" stroke-width="1"/>
<line x1="1766.4" y1="372.2" x2="1766.4" y2="472.6" stroke="#ebebeb" stroke-width="1"/>
<line x1="1820.2" y1="117.4" x2="1820.2" y2="306.7" stroke="#ebebeb" stroke-width="1"/>
<line x1="1820.2" y1="372.2" x2="1820.2" y2="472.6" stroke="#ebebeb" stroke-width="1"/>
<line x1="1874.1" y1="117.4" x2="1874.1" y2="306.7" stroke="#ebebeb" stroke-width="1"/>
<line x1="1874.1" y1="372.2" x2="1874.1" y2="472.6" stroke="#ebebeb" stroke-width="1"/>
<line x1="1928" y1="117.4" x2="1928" y2="306.7" stroke="#ebebeb" stroke-width="1"/>
<line x1="1928" y1="372.2" x2="1928" y2="472.6" stroke="#ebebeb" stroke-width="1"/>
<text x="1409.6" y="103.2" font-size="12.2" font-weight="bold">HALLMARK_UNFOLDED_PROTEIN_RESPONSE</text>
<polyline points="1443.5,273.9 1476.3,299 1476.3,298 1476.3,297 1477.3,280.5 1487.9,290.3 1488,288.3 1488.6,290.8 1488.6,288.8 1489.2,290.3 1490.2,278.8 1490.6,274.7 1490.6,272.7 1490.9,271.4 1490.9,269.4 1491.3,264.9 1492,244 1492.2,244.6 1492.2,242.6 1494.1,240.5 1494.2,239.7 1494.2,237.7 1494.9,232.6 1495,230.6 1495.2,230.1 1495.2,228.1 1495.5,226.5 1497.6,230 1497.7,228.7 1497.7,226.7 1498.9,210.8 1507.7,218.8 1507.7,217.8 1507.7,216.8 1508.7,209.1 1516.4,216.8 1517.2,214.2 1517.2,212.2 1518.1,209.1 1518.4,208.9 1518.4,206.9 1519.9,202.1 1521.9,197.4 1521.9,195.4 1521.9,197.2 1522,195.2 1522.3,195.2 1522.6,193.4 1522.6,191.4 1524,181.2 1524.3,181.8 1524.3,179.8 1524.3,181.7 1524.3,179.7 1526.1,177.7 1527.2,170.6 1527.2,168.6 1527.5,167.3 1527.7,168 1527.7,166 1529.5,164.9 1529.6,162.9 1529.6,163.8 1535.3,169.9 1535.4,167.9 1535.5,169 1536.8,162.3 1536.8,160.3 1537,161.3 1537,159.3 1537.3,158.6 1540.8,160.3 1543.7,157.7 1543.8,155.7 1544.3,156.1 1545.4,155.5 1545.4,153.5 1546.3,153.3 1546.5,154.1 1546.5,152.1 1547.3,153.1 1547.3,151.1 1548.1,152 1548.1,150 1548.3,151.7 1548.3,149.7 1548.4,150.6 1549,151.6 1549,149.6 1553,150.6 1554.4,150.6 1554.4,148.6 1554.8,150.4 1554.8,148.4 1554.9,150.3 1554.9,148.3 1558.2,147.1 1561,146.4 1561.8,146.6 1561.8,144.6 1562.4,146 1562.4,144 1563.6,144.7 1563.6,142.7 1563.8,143.6 1564.9,143.6 1564.9,141.6 1566.2,142.5 1566.2,140.5 1566.3,142.4 1566.3,140.4 1567,141.8 1567,139.8 1567.1,141.7 1567.1,139.7 1568.1,140.9 1568.1,138.9 1568.6,139.4 1569.9,139.8 1569.9,137.8 1572.1,137.7 1572.6,138.4 1572.6,136.4 1573.8,137.5 1573.8,135.5 1574.6,136.9 1574.6,134.9 1575.1,136.6 1575.1,134.6 1575.6,135.2 1578.4,134.5 1582.6,137.7 1584.1,139.4 1584.1,137.4 1585.6,140.1 1585.6,140.1 1585.6,138.1 1585.6,138.1 1586.1,139.4 1587.6,138.9 1587.6,136.9 1590.3,135.2 1592.4,134.5 1592.4,132.5 1594.8,131.7 1597,133 1597,131 1597.1,133 1597.1,131 1598.7,133.3 1598.7,131.3 1599.4,133.3 1599.4,131.3 1599.9,133.4 1599.9,131.4 1600,132.4 1604.2,129.6 1606.1,129.7 1606.1,127.7 1607,128.2 1608.1,129.7 1608.1,127.7 1608.1,129.7 1608.1,127.7 1608.9,130 1608.9,128 1609.5,130.3 1609.5,128.3 1609.7,130.3 1609.7,128.3 1609.9,130.4 1609.9,128.4 1610.3,130.6 1610.3,128.6 1610.5,129.6 1614,127.2 1615.7,127.7 1615.7,125.7 1615.8,127.6 1615.8,125.6 1616.9,127.3 1616.9,125.3 1617.4,126.2 1620.1,126.6 1620.1,124.6 1620.9,126.5 1620.9,124.5 1620.9,125.5 1624.9,127.5 1625,125.5 1625.8,127.7 1625.8,125.7 1626.5,127.9 1626.5,125.9 1627.9,127.2 1628.6,128.2 1628.6,126.2 1628.8,128.2 1628.8,126.2 1631.8,128 1631.8,126 1632,128 1632,126 1632,128 1632,126 1632.4,128 1632.4,126 1634.9,126.9 1635.5,127.9 1635.5,125.9 1635.8,127.9 1635.8,125.9 1638.1,127.9 1638.1,125.9 1639.3,127.9 1639.3,125.9 1639.5,127.9 1639.5,125.9 1640.9,127.9 1640.9,125.9 1641.8,126.9 1642.9,128.6 1642.9,126.6 1643,128.7 1643,126.7 1644.4,129.7 1644.4,127.7 1644.6,129.8 1644.6,127.8 1659.3,139.4 1683.7,155.8 1704.6,170.1 1718.5,174.3 1732.4,179.5 1746.4,186.5 1756.8,192.4 1767.3,196.9 1770.8,193.4 1776,195.9 1779.5,195.2 1781.2,196.2 1783,188.2 1796.9,196.9 1798.7,195.2 1823.1,210.8 1823.8,207.4 1874.3,245 1875,233.5 1894.5,248.1 1895.5,232.8 1951.3,273.9" fill="none" stroke="#e3371f" stroke-width="2.2" stroke-linejoin="round"/>
<line x1="1440.5" y1="273.8" x2="1443.5" y2="273.8" stroke="#333" stroke-width="1"/>
<text x="1438.2" y="277.4" font-size="10.3" text-anchor="end" fill="#4d4d4d">0.0</text>
<line x1="1440.5" y1="237.1" x2="1443.5" y2="237.1" stroke="#333" stroke-width="1"/>
<text x="1438.2" y="240.8" font-size="10.3" text-anchor="end" fill="#4d4d4d">0.1</text>
<line x1="1440.5" y1="200.3" x2="1443.5" y2="200.3" stroke="#333" stroke-width="1"/>
<text x="1438.2" y="204" font-size="10.3" text-anchor="end" fill="#4d4d4d">0.2</text>
<line x1="1440.5" y1="163.7" x2="1443.5" y2="163.7" stroke="#333" stroke-width="1"/>
<text x="1438.2" y="167.3" font-size="10.3" text-anchor="end" fill="#4d4d4d">0.3</text>
<line x1="1440.5" y1="126.9" x2="1443.5" y2="126.9" stroke="#333" stroke-width="1"/>
<text x="1438.2" y="130.6" font-size="10.3" text-anchor="end" fill="#4d4d4d">0.4</text>
<text transform="translate(1414.5,213.7) rotate(-90)" font-size="12.2" text-anchor="middle">Running Enrichment Score</text>
<path d="M1476.3,306.7V352.7M1490.6,306.7V352.7M1494.2,306.7V352.7M1492.2,306.7V352.7M1495,306.7V352.7M1495.2,306.7V352.7M1488.6,306.7V352.7M1488,306.7V352.7M1497.7,306.7V352.7M1490.9,306.7V352.7M1507.7,306.7V352.7M1518.4,306.7V352.7M1529.6,306.7V352.7M1521.9,306.7V352.7M1527.2,306.7V352.7M1522,306.7V352.7M1524.3,306.7V352.7M1517.2,306.7V352.7M1524.3,306.7V352.7M1527.7,306.7V352.7M1522.6,306.7V352.7M1537,306.7V352.7M1536.8,306.7V352.7M1535.3,306.7V352.7M1548.3,306.7V352.7M1547.3,306.7V352.7M1545.4,306.7V352.7M1543.7,306.7V352.7M1549,306.7V352.7M1546.5,306.7V352.7M1548.1,306.7V352.7M1554.8,306.7V352.7M1554.4,306.7V352.7M1554.9,306.7V352.7M1566.3,306.7V352.7M1572.6,306.7V352.7M1567.1,306.7V352.7M1574.6,306.7V352.7M1573.8,306.7V352.7M1561.8,306.7V352.7M1562.4,306.7V352.7M1563.6,306.7V352.7M1575.1,306.7V352.7M1567,306.7V352.7M1569.9,306.7V352.7M1564.9,306.7V352.7M1568.1,306.7V352.7M1566.2,306.7V352.7M1584.1,306.7V352.7M1585.6,306.7V352.7M1585.6,306.7V352.7M1587.6,306.7V352.7M1597.1,306.7V352.7M1599.4,306.7V352.7M1598.7,306.7V352.7M1599.9,306.7V352.7M1597,306.7V352.7M1592.4,306.7V352.7M1609.7,306.7V352.7M1610.3,306.7V352.7M1609.9,306.7V352.7M1608.1,306.7V352.7M1608.9,306.7V352.7M1606.1,306.7V352.7M1609.5,306.7V352.7M1608.1,306.7V352.7M1616.9,306.7V352.7M1615.7,306.7V352.7M1620.1,306.7V352.7M1620.9,306.7V352.7M1615.8,306.7V352.7M1628.8,306.7V352.7M1626.5,306.7V352.7M1625,306.7V352.7M1625.8,306.7V352.7M1628.6,306.7V352.7M1642.9,306.7V352.7M1632,306.7V352.7M1639.5,306.7V352.7M1632,306.7V352.7M1640.9,306.7V352.7M1635.8,306.7V352.7M1643,306.7V352.7M1644.4,306.7V352.7M1638.1,306.7V352.7M1644.6,306.7V352.7M1635.5,306.7V352.7M1632.4,306.7V352.7M1639.3,306.7V352.7M1631.8,306.7V352.7M1668.3,306.7V352.7M1671.9,306.7V352.7M1675.5,306.7V352.7M1667.6,306.7V352.7M1665.6,306.7V352.7M1680,306.7V352.7M1670.3,306.7V352.7M1688.9,306.7V352.7M1690.6,306.7V352.7M1699.5,306.7V352.7M1699.3,306.7V352.7M1697.1,306.7V352.7M1712.2,306.7V352.7M1713.3,306.7V352.7M1715.5,306.7V352.7M1714.7,306.7V352.7M1714,306.7V352.7M1715.1,306.7V352.7M1720.9,306.7V352.7M1713.1,306.7V352.7M1711.7,306.7V352.7M1730.5,306.7V352.7M1727.1,306.7V352.7M1727.6,306.7V352.7M1741.4,306.7V352.7M1738.8,306.7V352.7M1739,306.7V352.7M1746.4,306.7V352.7M1748.1,306.7V352.7M1759.3,306.7V352.7M1766.6,306.7V352.7M1768.3,306.7V352.7M1769,306.7V352.7M1775,306.7V352.7M1780.6,306.7V352.7M1783.1,306.7V352.7M1783.2,306.7V352.7M1780.8,306.7V352.7M1798.3,306.7V352.7M1823.4,306.7V352.7M1875,306.7V352.7M1895.5,306.7V352.7" stroke="#000" stroke-width="1.1" fill="none"/>
<rect x="1443.5" y="352.7" width="56.4" height="19.5" fill="#b02a2f"/>
<rect x="1499.6" y="352.7" width="147.7" height="19.5" fill="#df3e37"/>
<rect x="1647.1" y="352.7" width="43.2" height="19.5" fill="#ec7460"/>
<rect x="1689.9" y="352.7" width="66.5" height="19.5" fill="#e9ab93"/>
<rect x="1756.1" y="352.7" width="20.2" height="19.5" fill="#f5e2d6"/>
<rect x="1776" y="352.7" width="25.7" height="19.5" fill="#eaeff9"/>
<rect x="1801.4" y="352.7" width="38.6" height="19.5" fill="#c4dde9"/>
<rect x="1839.8" y="352.7" width="31.7" height="19.5" fill="#81bbdc"/>
<rect x="1871.2" y="352.7" width="47.3" height="19.5" fill="#4f8fc5"/>
<rect x="1918.2" y="352.7" width="33.4" height="19.5" fill="#3765a8"/>
<path d="M1476.3,352.7V372.2M1490.6,352.7V372.2M1494.2,352.7V372.2M1492.2,352.7V372.2M1495,352.7V372.2M1495.2,352.7V372.2M1488.6,352.7V372.2M1488,352.7V372.2M1497.7,352.7V372.2M1490.9,352.7V372.2M1507.7,352.7V372.2M1518.4,352.7V372.2M1529.6,352.7V372.2M1521.9,352.7V372.2M1527.2,352.7V372.2M1522,352.7V372.2M1524.3,352.7V372.2M1517.2,352.7V372.2M1524.3,352.7V372.2M1527.7,352.7V372.2M1522.6,352.7V372.2M1537,352.7V372.2M1536.8,352.7V372.2M1535.3,352.7V372.2M1548.3,352.7V372.2M1547.3,352.7V372.2M1545.4,352.7V372.2M1543.7,352.7V372.2M1549,352.7V372.2M1546.5,352.7V372.2M1548.1,352.7V372.2M1554.8,352.7V372.2M1554.4,352.7V372.2M1554.9,352.7V372.2M1566.3,352.7V372.2M1572.6,352.7V372.2M1567.1,352.7V372.2M1574.6,352.7V372.2M1573.8,352.7V372.2M1561.8,352.7V372.2M1562.4,352.7V372.2M1563.6,352.7V372.2M1575.1,352.7V372.2M1567,352.7V372.2M1569.9,352.7V372.2M1564.9,352.7V372.2M1568.1,352.7V372.2M1566.2,352.7V372.2M1584.1,352.7V372.2M1585.6,352.7V372.2M1585.6,352.7V372.2M1587.6,352.7V372.2M1597.1,352.7V372.2M1599.4,352.7V372.2M1598.7,352.7V372.2M1599.9,352.7V372.2M1597,352.7V372.2M1592.4,352.7V372.2M1609.7,352.7V372.2M1610.3,352.7V372.2M1609.9,352.7V372.2M1608.1,352.7V372.2M1608.9,352.7V372.2M1606.1,352.7V372.2M1609.5,352.7V372.2M1608.1,352.7V372.2M1616.9,352.7V372.2M1615.7,352.7V372.2M1620.1,352.7V372.2M1620.9,352.7V372.2M1615.8,352.7V372.2M1628.8,352.7V372.2M1626.5,352.7V372.2M1625,352.7V372.2M1625.8,352.7V372.2M1628.6,352.7V372.2M1642.9,352.7V372.2M1632,352.7V372.2M1639.5,352.7V372.2M1632,352.7V372.2M1640.9,352.7V372.2M1635.8,352.7V372.2M1643,352.7V372.2M1644.4,352.7V372.2M1638.1,352.7V372.2M1644.6,352.7V372.2M1635.5,352.7V372.2M1632.4,352.7V372.2M1639.3,352.7V372.2M1631.8,352.7V372.2M1668.3,352.7V372.2M1671.9,352.7V372.2M1675.5,352.7V372.2M1667.6,352.7V372.2M1665.6,352.7V372.2M1680,352.7V372.2M1670.3,352.7V372.2M1688.9,352.7V372.2M1690.6,352.7V372.2M1699.5,352.7V372.2M1699.3,352.7V372.2M1697.1,352.7V372.2M1712.2,352.7V372.2M1713.3,352.7V372.2M1715.5,352.7V372.2M1714.7,352.7V372.2M1714,352.7V372.2M1715.1,352.7V372.2M1720.9,352.7V372.2M1713.1,352.7V372.2M1711.7,352.7V372.2M1730.5,352.7V372.2M1727.1,352.7V372.2M1727.6,352.7V372.2M1741.4,352.7V372.2M1738.8,352.7V372.2M1739,352.7V372.2M1746.4,352.7V372.2M1748.1,352.7V372.2M1759.3,352.7V372.2M1766.6,352.7V372.2M1768.3,352.7V372.2M1769,352.7V372.2M1775,352.7V372.2M1780.6,352.7V372.2M1783.1,352.7V372.2M1783.2,352.7V372.2M1780.8,352.7V372.2M1798.3,352.7V372.2M1823.4,352.7V372.2M1875,352.7V372.2M1895.5,352.7V372.2" stroke="#000" stroke-width="1" stroke-opacity="0.12" fill="none"/>
<path d="M1443.5,425.9 L1443.5,405.8 L1444.8,409 L1447.5,411.2 L1453.5,413.4 L1463.5,415.2 L1473.6,417 L1483.6,417.9 L1497,419.2 L1510.3,421 L1523.7,422.3 L1543.7,423.4 L1570.5,424.3 L1603.9,425 L1643.9,425.5 L1677.4,425.8 L1710.8,425.9 L1737.5,426.3 L1764.2,427 L1790.9,427.9 L1817.7,429 L1844.4,430.4 L1864.4,431.7 L1884.5,433.9 L1897.8,435.3 L1911.2,436.6 L1924.6,438.4 L1937.9,440.2 L1944.6,441.5 L1948,444.6 L1950,450.4 L1951.3,463.8 L1951.3,425.9 Z" fill="#bebebe"/>
<line x1="1440.5" y1="381.3" x2="1443.5" y2="381.3" stroke="#333" stroke-width="1"/>
<text x="1438.2" y="385" font-size="10.3" text-anchor="end" fill="#4d4d4d">10</text>
<line x1="1440.5" y1="403.6" x2="1443.5" y2="403.6" stroke="#333" stroke-width="1"/>
<text x="1438.2" y="407.3" font-size="10.3" text-anchor="end" fill="#4d4d4d">5</text>
<line x1="1440.5" y1="425.9" x2="1443.5" y2="425.9" stroke="#333" stroke-width="1"/>
<text x="1438.2" y="429.6" font-size="10.3" text-anchor="end" fill="#4d4d4d">0</text>
<line x1="1440.5" y1="448.2" x2="1443.5" y2="448.2" stroke="#333" stroke-width="1"/>
<text x="1438.2" y="451.9" font-size="10.3" text-anchor="end" fill="#4d4d4d">- 5</text>
<line x1="1440.5" y1="470.5" x2="1443.5" y2="470.5" stroke="#333" stroke-width="1"/>
<text x="1438.2" y="474.2" font-size="10.3" text-anchor="end" fill="#4d4d4d">- 10</text>
<text transform="translate(1414.5,425.9) rotate(-90)" font-size="12.2" text-anchor="middle">Ranked List Metric</text>
<line x1="1443.5" y1="117.4" x2="1443.5" y2="472.6" stroke="#000" stroke-width="1.4"/>
<line x1="1443.5" y1="472.6" x2="1951.3" y2="472.6" stroke="#000" stroke-width="1.4"/>
<line x1="1551" y1="472.6" x2="1551" y2="475.6" stroke="#333" stroke-width="1"/>
<text x="1551" y="485.3" font-size="10.3" text-anchor="middle" fill="#4d4d4d">5000</text>
<line x1="1658.7" y1="472.6" x2="1658.7" y2="475.6" stroke="#333" stroke-width="1"/>
<text x="1658.7" y="485.3" font-size="10.3" text-anchor="middle" fill="#4d4d4d">10000</text>
<line x1="1766.4" y1="472.6" x2="1766.4" y2="475.6" stroke="#333" stroke-width="1"/>
<text x="1766.4" y="485.3" font-size="10.3" text-anchor="middle" fill="#4d4d4d">15000</text>
<line x1="1874.1" y1="472.6" x2="1874.1" y2="475.6" stroke="#333" stroke-width="1"/>
<text x="1874.1" y="485.3" font-size="10.3" text-anchor="middle" fill="#4d4d4d">20000</text>
<text x="1697.6" y="498.6" font-size="12.2" text-anchor="middle">Rank in Ordered Dataset</text>
<line x1="1497.1" y1="598.4" x2="1497.1" y2="787.9" stroke="#ebebeb" stroke-width="1"/>
<line x1="1497.1" y1="853.4" x2="1497.1" y2="953.8" stroke="#ebebeb" stroke-width="1"/>
<line x1="1551" y1="598.4" x2="1551" y2="787.9" stroke="#ebebeb" stroke-width="1"/>
<line x1="1551" y1="853.4" x2="1551" y2="953.8" stroke="#ebebeb" stroke-width="1"/>
<line x1="1604.8" y1="598.4" x2="1604.8" y2="787.9" stroke="#ebebeb" stroke-width="1"/>
<line x1="1604.8" y1="853.4" x2="1604.8" y2="953.8" stroke="#ebebeb" stroke-width="1"/>
<line x1="1658.7" y1="598.4" x2="1658.7" y2="787.9" stroke="#ebebeb" stroke-width="1"/>
<line x1="1658.7" y1="853.4" x2="1658.7" y2="953.8" stroke="#ebebeb" stroke-width="1"/>
<line x1="1712.5" y1="598.4" x2="1712.5" y2="787.9" stroke="#ebebeb" stroke-width="1"/>
<line x1="1712.5" y1="853.4" x2="1712.5" y2="953.8" stroke="#ebebeb" stroke-width="1"/>
<line x1="1766.4" y1="598.4" x2="1766.4" y2="787.9" stroke="#ebebeb" stroke-width="1"/>
<line x1="1766.4" y1="853.4" x2="1766.4" y2="953.8" stroke="#ebebeb" stroke-width="1"/>
<line x1="1820.2" y1="598.4" x2="1820.2" y2="787.9" stroke="#ebebeb" stroke-width="1"/>
<line x1="1820.2" y1="853.4" x2="1820.2" y2="953.8" stroke="#ebebeb" stroke-width="1"/>
<line x1="1874.1" y1="598.4" x2="1874.1" y2="787.9" stroke="#ebebeb" stroke-width="1"/>
<line x1="1874.1" y1="853.4" x2="1874.1" y2="953.8" stroke="#ebebeb" stroke-width="1"/>
<line x1="1928" y1="598.4" x2="1928" y2="787.9" stroke="#ebebeb" stroke-width="1"/>
<line x1="1928" y1="853.4" x2="1928" y2="953.8" stroke="#ebebeb" stroke-width="1"/>
<text x="1409.6" y="584.4" font-size="12.2" font-weight="bold">HALLMARK_APOPTOSIS</text>
<polyline points="1444.2,770.2 1453.6,780.6 1453.6,779.6 1453.6,778.6 1454.3,760.5 1464.8,771.2 1464.8,770.2 1464.8,769.2 1465.8,757 1471.8,762.2 1472.5,751 1472.5,750 1472.5,749 1484.3,763.2 1484.3,762.2 1484.3,761.2 1485,751.8 1489.2,757 1490.2,746.5 1490.5,747.7 1490.5,745.7 1490.9,748 1490.9,746 1492.7,748.3 1494.1,736.1 1494.3,735.7 1494.3,733.7 1495.5,727.4 1495.6,728.2 1495.6,726.2 1497.4,725.4 1497.5,723.4 1498,724.5 1498,722.5 1498,724.5 1498,722.5 1498.4,724 1498.4,722 1498.7,723.5 1498.7,721.5 1498.9,722.1 1502.4,715.2 1505.9,716.9 1507.3,710.8 1507.3,708.8 1507.7,708.2 1509.4,704.7 1511.1,696 1511.7,694.2 1511.7,692.2 1512.7,689.4 1512.7,687.4 1512.9,687.3 1513.1,687.6 1513.1,685.6 1513.4,686.6 1513.4,684.6 1514.8,682.4 1514.8,680.4 1515,681.6 1515,679.6 1515.1,681.3 1515.1,679.3 1515.3,680.7 1515.3,678.7 1515.7,678.6 1516.5,676.6 1516.5,674.6 1516.6,676.1 1516.7,674.1 1516.9,675.3 1516.9,673.3 1518.1,669.9 1518.4,669.7 1518.4,667.7 1519,667.6 1519,665.6 1520.6,661.1 1522.1,659.3 1522.1,657.3 1522.7,658.1 1522.7,656.1 1522.8,657.9 1522.8,655.9 1523.3,655.9 1525.6,649.9 1525.6,647.9 1526.1,647.2 1526.6,646.5 1526.6,644.5 1527.6,642.9 1527.6,640.9 1528.5,639.9 1528.5,637.9 1528.6,638.5 1530.3,631.5 1532.1,624.6 1532.8,624.4 1532.8,622.4 1535.5,619.3 1538.7,619.7 1538.7,617.7 1539.6,619.5 1539.6,617.5 1540.8,618.3 1541.8,619.1 1541.8,617.1 1541.9,619.1 1541.9,617.1 1543.4,618.9 1543.4,616.9 1546,617.6 1548.9,618.6 1548.9,616.6 1549.2,618.6 1549.2,616.6 1551.2,617.6 1558.2,615.8 1562.2,617.4 1562.3,615.4 1563.4,616.5 1563.5,617.5 1563.5,615.5 1563.6,617.6 1563.6,615.6 1564.2,617.8 1564.3,615.8 1565.3,618.1 1565.3,616.1 1566.4,618.4 1566.4,616.4 1566.9,617.6 1568.6,611.9 1568.6,609.9 1568.6,610.6 1570.1,611.8 1570.1,609.8 1572.4,612 1572.4,610 1575.4,612.3 1575.4,610.3 1575.6,611.3 1576,612.4 1576,610.4 1576.9,612.5 1576.9,610.5 1582.6,612.4 1585,607.1 1585.8,608.4 1585.8,606.4 1588.6,609.4 1588.6,607.4 1589,609.5 1589,607.5 1590,609.9 1590,607.9 1590,609.9 1590,607.9 1591.3,610.3 1591.3,608.3 1591.4,610.4 1591.4,608.4 1591.5,610.4 1591.5,608.4 1593,609.9 1595.8,611.4 1595.8,609.4 1598.8,611.8 1598.8,609.8 1599,611.9 1599,609.9 1599,611.9 1599,609.9 1601.8,611.3 1610.5,617.6 1619.2,623.8 1619.2,621.8 1620.9,623.9 1623.4,626.2 1623.4,624.2 1632.2,631.1 1632.2,629.1 1634.9,631.5 1636.3,633.2 1636.3,631.2 1638.1,634.1 1638.1,632.1 1639.9,635.1 1639.9,633.1 1641.3,635.8 1641.4,633.8 1643.9,637 1643.9,635 1645.3,636.7 1646.2,638.2 1646.2,636.2 1655.8,642 1666.2,650.7 1676.7,659.4 1688.9,669.2 1701.1,678.6 1709.8,685.5 1718.5,692.5 1732.4,701.2 1746.4,706.5 1753.4,711 1760.3,715.2 1770.8,718.6 1783,725.6 1788.2,724.9 1793.4,728.4 1805.6,736.1 1811.9,740.3 1814.3,729.1 1821.3,719.3 1830,727.4 1837,732.6 1840.5,730.1 1844,730.8 1847.5,734.3 1856.2,740.3 1857.9,733.3 1861.4,729.1 1884,748.3 1885.1,738.9 1910.9,762.2 1911.9,750 1931.8,768.1 1932.5,750.7 1952,769.5" fill="none" stroke="#e3371f" stroke-width="2.2" stroke-linejoin="round"/>
<line x1="1440.5" y1="770.2" x2="1443.5" y2="770.2" stroke="#333" stroke-width="1"/>
<text x="1438.2" y="773.9" font-size="10.3" text-anchor="end" fill="#4d4d4d">0.0</text>
<line x1="1440.5" y1="724.7" x2="1443.5" y2="724.7" stroke="#333" stroke-width="1"/>
<text x="1438.2" y="728.4" font-size="10.3" text-anchor="end" fill="#4d4d4d">0.1</text>
<line x1="1440.5" y1="679.2" x2="1443.5" y2="679.2" stroke="#333" stroke-width="1"/>
<text x="1438.2" y="682.9" font-size="10.3" text-anchor="end" fill="#4d4d4d">0.2</text>
<line x1="1440.5" y1="633.7" x2="1443.5" y2="633.7" stroke="#333" stroke-width="1"/>
<text x="1438.2" y="637.4" font-size="10.3" text-anchor="end" fill="#4d4d4d">0.3</text>
<text transform="translate(1414.5,694.8) rotate(-90)" font-size="12.2" text-anchor="middle">Running Enrichment Score</text>
<path d="M1453.6,787.9V833.9M1464.8,787.9V833.9M1472.5,787.9V833.9M1484.3,787.9V833.9M1497.4,787.9V833.9M1495.6,787.9V833.9M1498,787.9V833.9M1494.3,787.9V833.9M1498.4,787.9V833.9M1498.7,787.9V833.9M1490.5,787.9V833.9M1490.9,787.9V833.9M1498,787.9V833.9M1532.8,787.9V833.9M1513.4,787.9V833.9M1519,787.9V833.9M1522.7,787.9V833.9M1515.3,787.9V833.9M1516.5,787.9V833.9M1515.1,787.9V833.9M1516.6,787.9V833.9M1522.8,787.9V833.9M1514.8,787.9V833.9M1516.9,787.9V833.9M1527.6,787.9V833.9M1507.3,787.9V833.9M1522.1,787.9V833.9M1526.6,787.9V833.9M1515,787.9V833.9M1512.7,787.9V833.9M1528.5,787.9V833.9M1513.1,787.9V833.9M1511.7,787.9V833.9M1518.4,787.9V833.9M1525.6,787.9V833.9M1538.7,787.9V833.9M1541.8,787.9V833.9M1541.9,787.9V833.9M1548.9,787.9V833.9M1543.4,787.9V833.9M1549.2,787.9V833.9M1539.6,787.9V833.9M1566.4,787.9V833.9M1572.4,787.9V833.9M1576.9,787.9V833.9M1568.6,787.9V833.9M1564.2,787.9V833.9M1562.3,787.9V833.9M1570.1,787.9V833.9M1563.6,787.9V833.9M1575.4,787.9V833.9M1576,787.9V833.9M1563.5,787.9V833.9M1565.3,787.9V833.9M1599,787.9V833.9M1595.8,787.9V833.9M1599,787.9V833.9M1590,787.9V833.9M1585.8,787.9V833.9M1589,787.9V833.9M1598.8,787.9V833.9M1588.6,787.9V833.9M1590,787.9V833.9M1591.4,787.9V833.9M1591.5,787.9V833.9M1591.3,787.9V833.9M1619.2,787.9V833.9M1623.4,787.9V833.9M1657.1,787.9V833.9M1636.3,787.9V833.9M1632.2,787.9V833.9M1657.7,787.9V833.9M1656,787.9V833.9M1658.9,787.9V833.9M1643.9,787.9V833.9M1657.9,787.9V833.9M1657.3,787.9V833.9M1638.1,787.9V833.9M1652.3,787.9V833.9M1654.8,787.9V833.9M1650.1,787.9V833.9M1646.2,787.9V833.9M1639.9,787.9V833.9M1641.3,787.9V833.9M1670,787.9V833.9M1668.6,787.9V833.9M1673.1,787.9V833.9M1670.5,787.9V833.9M1675,787.9V833.9M1685.6,787.9V833.9M1689.5,787.9V833.9M1688.5,787.9V833.9M1689.6,787.9V833.9M1689.5,787.9V833.9M1689.5,787.9V833.9M1688,787.9V833.9M1685.5,787.9V833.9M1700.4,787.9V833.9M1695,787.9V833.9M1696.2,787.9V833.9M1699.7,787.9V833.9M1698.4,787.9V833.9M1713.4,787.9V833.9M1718,787.9V833.9M1715.1,787.9V833.9M1712.8,787.9V833.9M1712,787.9V833.9M1742.8,787.9V833.9M1732.7,787.9V833.9M1740.7,787.9V833.9M1729.4,787.9V833.9M1725.4,787.9V833.9M1734.2,787.9V833.9M1741.6,787.9V833.9M1724.7,787.9V833.9M1740.9,787.9V833.9M1744.3,787.9V833.9M1741.3,787.9V833.9M1741.8,787.9V833.9M1720.4,787.9V833.9M1736.7,787.9V833.9M1762.4,787.9V833.9M1753.9,787.9V833.9M1756.2,787.9V833.9M1756.2,787.9V833.9M1758.9,787.9V833.9M1757.8,787.9V833.9M1758.3,787.9V833.9M1761.5,787.9V833.9M1770.8,787.9V833.9M1781.3,787.9V833.9M1782,787.9V833.9M1782.9,787.9V833.9M1782.9,787.9V833.9M1782.1,787.9V833.9M1807.4,787.9V833.9M1821.1,787.9V833.9M1820,787.9V833.9M1813.4,787.9V833.9M1817,787.9V833.9M1815.4,787.9V833.9M1815.3,787.9V833.9M1815.7,787.9V833.9M1818.2,787.9V833.9M1838.7,787.9V833.9M1844,787.9V833.9M1860.1,787.9V833.9M1857.9,787.9V833.9M1856.3,787.9V833.9M1857.6,787.9V833.9M1855.6,787.9V833.9M1884.7,787.9V833.9M1910.9,787.9V833.9M1931.8,787.9V833.9" stroke="#000" stroke-width="1.1" fill="none"/>
<rect x="1444.2" y="833.9" width="20.9" height="19.5" fill="#b02a2f"/>
<rect x="1464.8" y="833.9" width="141.8" height="19.5" fill="#df3e37"/>
<rect x="1606.3" y="833.9" width="60.9" height="19.5" fill="#ec7460"/>
<rect x="1666.9" y="833.9" width="43.2" height="19.5" fill="#e9ab93"/>
<rect x="1709.8" y="833.9" width="50.8" height="19.5" fill="#f5e2d6"/>
<rect x="1760.3" y="833.9" width="52.6" height="19.5" fill="#eaeff9"/>
<rect x="1812.6" y="833.9" width="42.1" height="19.5" fill="#c4dde9"/>
<rect x="1854.4" y="833.9" width="27.1" height="19.5" fill="#81bbdc"/>
<rect x="1881.3" y="833.9" width="61.6" height="19.5" fill="#4f8fc5"/>
<rect x="1942.6" y="833.9" width="10.4" height="19.5" fill="#3765a8"/>
<path d="M1453.6,833.9V853.4M1464.8,833.9V853.4M1472.5,833.9V853.4M1484.3,833.9V853.4M1497.4,833.9V853.4M1495.6,833.9V853.4M1498,833.9V853.4M1494.3,833.9V853.4M1498.4,833.9V853.4M1498.7,833.9V853.4M1490.5,833.9V853.4M1490.9,833.9V853.4M1498,833.9V853.4M1532.8,833.9V853.4M1513.4,833.9V853.4M1519,833.9V853.4M1522.7,833.9V853.4M1515.3,833.9V853.4M1516.5,833.9V853.4M1515.1,833.9V853.4M1516.6,833.9V853.4M1522.8,833.9V853.4M1514.8,833.9V853.4M1516.9,833.9V853.4M1527.6,833.9V853.4M1507.3,833.9V853.4M1522.1,833.9V853.4M1526.6,833.9V853.4M1515,833.9V853.4M1512.7,833.9V853.4M1528.5,833.9V853.4M1513.1,833.9V853.4M1511.7,833.9V853.4M1518.4,833.9V853.4M1525.6,833.9V853.4M1538.7,833.9V853.4M1541.8,833.9V853.4M1541.9,833.9V853.4M1548.9,833.9V853.4M1543.4,833.9V853.4M1549.2,833.9V853.4M1539.6,833.9V853.4M1566.4,833.9V853.4M1572.4,833.9V853.4M1576.9,833.9V853.4M1568.6,833.9V853.4M1564.2,833.9V853.4M1562.3,833.9V853.4M1570.1,833.9V853.4M1563.6,833.9V853.4M1575.4,833.9V853.4M1576,833.9V853.4M1563.5,833.9V853.4M1565.3,833.9V853.4M1599,833.9V853.4M1595.8,833.9V853.4M1599,833.9V853.4M1590,833.9V853.4M1585.8,833.9V853.4M1589,833.9V853.4M1598.8,833.9V853.4M1588.6,833.9V853.4M1590,833.9V853.4M1591.4,833.9V853.4M1591.5,833.9V853.4M1591.3,833.9V853.4M1619.2,833.9V853.4M1623.4,833.9V853.4M1657.1,833.9V853.4M1636.3,833.9V853.4M1632.2,833.9V853.4M1657.7,833.9V853.4M1656,833.9V853.4M1658.9,833.9V853.4M1643.9,833.9V853.4M1657.9,833.9V853.4M1657.3,833.9V853.4M1638.1,833.9V853.4M1652.3,833.9V853.4M1654.8,833.9V853.4M1650.1,833.9V853.4M1646.2,833.9V853.4M1639.9,833.9V853.4M1641.3,833.9V853.4M1670,833.9V853.4M1668.6,833.9V853.4M1673.1,833.9V853.4M1670.5,833.9V853.4M1675,833.9V853.4M1685.6,833.9V853.4M1689.5,833.9V853.4M1688.5,833.9V853.4M1689.6,833.9V853.4M1689.5,833.9V853.4M1689.5,833.9V853.4M1688,833.9V853.4M1685.5,833.9V853.4M1700.4,833.9V853.4M1695,833.9V853.4M1696.2,833.9V853.4M1699.7,833.9V853.4M1698.4,833.9V853.4M1713.4,833.9V853.4M1718,833.9V853.4M1715.1,833.9V853.4M1712.8,833.9V853.4M1712,833.9V853.4M1742.8,833.9V853.4M1732.7,833.9V853.4M1740.7,833.9V853.4M1729.4,833.9V853.4M1725.4,833.9V853.4M1734.2,833.9V853.4M1741.6,833.9V853.4M1724.7,833.9V853.4M1740.9,833.9V853.4M1744.3,833.9V853.4M1741.3,833.9V853.4M1741.8,833.9V853.4M1720.4,833.9V853.4M1736.7,833.9V853.4M1762.4,833.9V853.4M1753.9,833.9V853.4M1756.2,833.9V853.4M1756.2,833.9V853.4M1758.9,833.9V853.4M1757.8,833.9V853.4M1758.3,833.9V853.4M1761.5,833.9V853.4M1770.8,833.9V853.4M1781.3,833.9V853.4M1782,833.9V853.4M1782.9,833.9V853.4M1782.9,833.9V853.4M1782.1,833.9V853.4M1807.4,833.9V853.4M1821.1,833.9V853.4M1820,833.9V853.4M1813.4,833.9V853.4M1817,833.9V853.4M1815.4,833.9V853.4M1815.3,833.9V853.4M1815.7,833.9V853.4M1818.2,833.9V853.4M1838.7,833.9V853.4M1844,833.9V853.4M1860.1,833.9V853.4M1857.9,833.9V853.4M1856.3,833.9V853.4M1857.6,833.9V853.4M1855.6,833.9V853.4M1884.7,833.9V853.4M1910.9,833.9V853.4M1931.8,833.9V853.4" stroke="#000" stroke-width="1" stroke-opacity="0.12" fill="none"/>
<path d="M1443.5,907.1 L1443.5,887 L1444.8,890.2 L1447.5,892.4 L1453.5,894.6 L1463.5,896.4 L1473.6,898.2 L1483.6,899.1 L1497,900.4 L1510.3,902.2 L1523.7,903.5 L1543.7,904.6 L1570.5,905.5 L1603.9,906.2 L1643.9,906.7 L1677.4,907 L1710.8,907.1 L1737.5,907.5 L1764.2,908.2 L1790.9,909.1 L1817.7,910.2 L1844.4,911.6 L1864.4,912.9 L1884.5,915.1 L1897.8,916.5 L1911.2,917.8 L1924.6,919.6 L1937.9,921.4 L1944.6,922.7 L1948,925.8 L1950,931.6 L1951.3,945 L1951.3,907.1 Z" fill="#bebebe"/>
<line x1="1440.5" y1="862.5" x2="1443.5" y2="862.5" stroke="#333" stroke-width="1"/>
<text x="1438.2" y="866.2" font-size="10.3" text-anchor="end" fill="#4d4d4d">10</text>
<line x1="1440.5" y1="884.8" x2="1443.5" y2="884.8" stroke="#333" stroke-width="1"/>
<text x="1438.2" y="888.5" font-size="10.3" text-anchor="end" fill="#4d4d4d">5</text>
<line x1="1440.5" y1="907.1" x2="1443.5" y2="907.1" stroke="#333" stroke-width="1"/>
<text x="1438.2" y="910.8" font-size="10.3" text-anchor="end" fill="#4d4d4d">0</text>
<line x1="1440.5" y1="929.4" x2="1443.5" y2="929.4" stroke="#333" stroke-width="1"/>
<text x="1438.2" y="933.1" font-size="10.3" text-anchor="end" fill="#4d4d4d">- 5</text>
<line x1="1440.5" y1="951.7" x2="1443.5" y2="951.7" stroke="#333" stroke-width="1"/>
<text x="1438.2" y="955.4" font-size="10.3" text-anchor="end" fill="#4d4d4d">- 10</text>
<text transform="translate(1414.5,907.1) rotate(-90)" font-size="12.2" text-anchor="middle">Ranked List Metric</text>
<line x1="1443.5" y1="598.4" x2="1443.5" y2="953.8" stroke="#000" stroke-width="1.4"/>
<line x1="1443.5" y1="953.8" x2="1951.3" y2="953.8" stroke="#000" stroke-width="1.4"/>
<line x1="1551" y1="953.8" x2="1551" y2="956.8" stroke="#333" stroke-width="1"/>
<text x="1551" y="966.5" font-size="10.3" text-anchor="middle" fill="#4d4d4d">5000</text>
<line x1="1658.7" y1="953.8" x2="1658.7" y2="956.8" stroke="#333" stroke-width="1"/>
<text x="1658.7" y="966.5" font-size="10.3" text-anchor="middle" fill="#4d4d4d">10000</text>
<line x1="1766.4" y1="953.8" x2="1766.4" y2="956.8" stroke="#333" stroke-width="1"/>
<text x="1766.4" y="966.5" font-size="10.3" text-anchor="middle" fill="#4d4d4d">15000</text>
<line x1="1874.1" y1="953.8" x2="1874.1" y2="956.8" stroke="#333" stroke-width="1"/>
<text x="1874.1" y="966.5" font-size="10.3" text-anchor="middle" fill="#4d4d4d">20000</text>
<text x="1697.6" y="979.8" font-size="12.2" text-anchor="middle">Rank in Ordered Dataset</text>
<g clip-path="url(#bc1)">
<rect x="38.9" y="1339.4" width="830.9" height="61.2" fill="#dcdcdc"/>
<rect x="46.6" y="1359" width="54.8" height="33" rx="16.5" fill="#999" filter="url(#b3)" opacity="0.5"/>
<rect x="113.5" y="1359" width="54.2" height="33" rx="16.5" fill="#999" filter="url(#b3)" opacity="0.5"/>
<rect x="182.8" y="1359.5" width="57.2" height="33" rx="16.5" fill="#999" filter="url(#b3)" opacity="0.5"/>
<rect x="253.4" y="1361" width="52.3" height="30" rx="15" fill="#999" filter="url(#b3)" opacity="0.5"/>
<rect x="321.5" y="1360" width="53.5" height="26" rx="13" fill="#999" filter="url(#b3)" opacity="0.5"/>
<rect x="394.6" y="1362.5" width="49.8" height="24" rx="12" fill="#999" filter="url(#b3)" opacity="0.5"/>
<rect x="462" y="1361" width="54.8" height="33" rx="16.5" fill="#999" filter="url(#b3)" opacity="0.5"/>
<rect x="530.5" y="1359.5" width="56.5" height="36" rx="18" fill="#999" filter="url(#b3)" opacity="0.5"/>
<rect x="597.2" y="1361.5" width="57.2" height="34" rx="17" fill="#999" filter="url(#b3)" opacity="0.5"/>
<rect x="666" y="1363.5" width="56.9" height="31" rx="15.5" fill="#999" filter="url(#b3)" opacity="0.5"/>
<rect x="735" y="1366" width="56.8" height="28" rx="14" fill="#999" filter="url(#b3)" opacity="0.5"/>
<rect x="801" y="1363.5" width="60.5" height="31" rx="15.5" fill="#999" filter="url(#b3)" opacity="0.5"/>
<rect x="49.6" y="1360.5" width="48.8" height="22" rx="11" fill="#000" filter="url(#b1)"/>
<rect x="116.5" y="1360.5" width="48.2" height="22" rx="11" fill="#000" filter="url(#b1)"/>
<rect x="185.8" y="1361" width="51.2" height="22" rx="11" fill="#000" filter="url(#b1)"/>
<rect x="256.4" y="1362.5" width="46.3" height="19" rx="9.5" fill="#000" filter="url(#b1)"/>
<rect x="324.5" y="1361.5" width="47.5" height="15" rx="7.5" fill="#000" filter="url(#b1)"/>
<rect x="397.6" y="1364" width="43.8" height="13" rx="6.5" fill="#000" filter="url(#b1)"/>
<rect x="465" y="1362.5" width="48.8" height="22" rx="11" fill="#000" filter="url(#b1)"/>
<rect x="533.5" y="1361" width="50.5" height="25" rx="12.5" fill="#000" filter="url(#b1)"/>
<rect x="600.2" y="1363" width="51.2" height="23" rx="11.5" fill="#000" filter="url(#b1)"/>
<rect x="669" y="1365" width="50.9" height="20" rx="10" fill="#000" filter="url(#b1)"/>
<rect x="738" y="1367.5" width="50.8" height="17" rx="8.5" fill="#000" filter="url(#b1)"/>
<rect x="804" y="1365" width="54.5" height="20" rx="10" fill="#000" filter="url(#b1)"/>
<rect x="38.9" y="1339.4" width="830.9" height="61.2" filter="url(#grain)" opacity="0.2"/>
</g>
<rect x="38.9" y="1339.4" width="830.9" height="61.2" fill="none" stroke="#000" stroke-width="2.2"/>
<g clip-path="url(#bc2)">
<rect x="38.9" y="1409.8" width="830.9" height="52.7" fill="#b8b8b8"/>
<rect x="55.2" y="1421.5" width="49.8" height="27" rx="13.5" fill="#777" filter="url(#b3)" opacity="0.5"/>
<rect x="122" y="1421.5" width="45.7" height="27" rx="13.5" fill="#777" filter="url(#b3)" opacity="0.5"/>
<rect x="186.5" y="1419.8" width="48.5" height="31" rx="15.5" fill="#777" filter="url(#b3)" opacity="0.5"/>
<rect x="254.7" y="1421.5" width="49.8" height="27" rx="13.5" fill="#777" filter="url(#b3)" opacity="0.5"/>
<rect x="322.8" y="1421.5" width="46.1" height="27" rx="13.5" fill="#777" filter="url(#b3)" opacity="0.5"/>
<rect x="388.4" y="1419.5" width="54.8" height="29" rx="14.5" fill="#777" filter="url(#b3)" opacity="0.5"/>
<rect x="459.5" y="1420.5" width="52.2" height="29" rx="14.5" fill="#777" filter="url(#b3)" opacity="0.5"/>
<rect x="526.7" y="1424" width="52.2" height="27" rx="13.5" fill="#777" filter="url(#b3)" opacity="0.5"/>
<rect x="596.4" y="1425.5" width="53.5" height="27" rx="13.5" fill="#777" filter="url(#b3)" opacity="0.5"/>
<rect x="664.9" y="1425" width="55.9" height="29" rx="14.5" fill="#777" filter="url(#b3)" opacity="0.5"/>
<rect x="734" y="1425.5" width="53" height="26" rx="13" fill="#777" filter="url(#b3)" opacity="0.5"/>
<rect x="801.8" y="1422" width="52.1" height="28" rx="14" fill="#777" filter="url(#b3)" opacity="0.5"/>
<rect x="57.2" y="1423" width="45.8" height="18" rx="9" fill="#000" filter="url(#b1)"/>
<rect x="124" y="1423" width="41.7" height="18" rx="9" fill="#000" filter="url(#b1)"/>
<rect x="188.5" y="1421.3" width="44.5" height="22" rx="11" fill="#000" filter="url(#b1)"/>
<rect x="256.7" y="1423" width="45.8" height="18" rx="9" fill="#000" filter="url(#b1)"/>
<rect x="324.8" y="1423" width="42.1" height="18" rx="9" fill="#000" filter="url(#b1)"/>
<rect x="390.4" y="1421" width="50.8" height="20" rx="10" fill="#000" filter="url(#b1)"/>
<rect x="461.5" y="1422" width="48.2" height="20" rx="10" fill="#000" filter="url(#b1)"/>
<rect x="528.7" y="1425.5" width="48.2" height="18" rx="9" fill="#000" filter="url(#b1)"/>
<rect x="598.4" y="1427" width="49.5" height="18" rx="9" fill="#000" filter="url(#b1)"/>
<rect x="666.9" y="1426.5" width="51.9" height="20" rx="10" fill="#000" filter="url(#b1)"/>
<rect x="736" y="1427" width="49" height="17" rx="8.5" fill="#000" filter="url(#b1)"/>
<rect x="803.8" y="1423.5" width="48.1" height="19" rx="9.5" fill="#000" filter="url(#b1)"/>
<rect x="38.9" y="1409.8" width="830.9" height="52.7" filter="url(#grain)" opacity="0.3"/>
</g>
<rect x="38.9" y="1409.8" width="830.9" height="52.7" fill="none" stroke="#000" stroke-width="2.2"/>
<g clip-path="url(#bc3)">
<rect x="38.9" y="1470.7" width="830.9" height="52.5" fill="url(#atfbg)"/>
<rect x="38" y="1499" width="112" height="26" rx="13" fill="#6a6a6a" filter="url(#b3)" opacity="0.7"/>
<rect x="120" y="1475" width="120" height="30" rx="15" fill="#bbb" filter="url(#b3)" opacity="0.5"/>
<ellipse cx="800" cy="1474" rx="110" ry="14" fill="#8a8a8a" opacity="0.55" filter="url(#b3)"/>
<rect x="51" y="1488" width="49.6" height="9" rx="4.5" fill="#000" filter="url(#b1)"/>
<rect x="123" y="1492" width="48" height="6" rx="3" fill="#555" filter="url(#b1)" opacity="0.8"/>
<rect x="192" y="1493" width="51" height="8" rx="4" fill="#333" filter="url(#b1)" opacity="0.9"/>
<rect x="323" y="1498.5" width="52" height="6" rx="3" fill="#444" filter="url(#b1)" opacity="0.8"/>
<rect x="466" y="1499.5" width="44" height="5" rx="2.5" fill="#666" filter="url(#b1)" opacity="0.8"/>
<rect x="532" y="1499.5" width="45" height="5" rx="2.5" fill="#666" filter="url(#b1)" opacity="0.8"/>
<rect x="600" y="1501.5" width="45" height="7" rx="3.5" fill="#222" filter="url(#b1)" opacity="0.9"/>
<rect x="670" y="1500.5" width="46" height="7" rx="3.5" fill="#333" filter="url(#b1)" opacity="0.9"/>
<rect x="738" y="1500.5" width="46" height="5" rx="2.5" fill="#555" filter="url(#b1)" opacity="0.8"/>
<rect x="810" y="1496.5" width="46" height="6" rx="3" fill="#555" filter="url(#b1)" opacity="0.8"/>
<rect x="38.9" y="1470.7" width="830.9" height="52.5" filter="url(#grain)" opacity="0.2"/>
</g>
<rect x="38.9" y="1470.7" width="830.9" height="52.5" fill="none" stroke="#000" stroke-width="2.2"/>
<g clip-path="url(#bc4)">
<rect x="38.9" y="1533.7" width="830.9" height="60.7" fill="#e9e9e9"/>
<rect x="52" y="1535" width="47" height="58" rx="6" fill="#9a9a9a" filter="url(#b2)" opacity="0.8"/>
<rect x="55" y="1554" width="41" height="16" rx="8" fill="#6e6e6e" filter="url(#b2)" opacity="0.9"/>
<rect x="121.7" y="1535" width="47" height="58" rx="6" fill="#8a8a8a" filter="url(#b2)" opacity="0.8"/>
<rect x="124.7" y="1554" width="41" height="16" rx="8" fill="#4e4e4e" filter="url(#b2)" opacity="0.9"/>
<rect x="191" y="1535" width="49.5" height="58" rx="6" fill="#8e8e8e" filter="url(#b2)" opacity="0.8"/>
<rect x="194" y="1554" width="43.5" height="16" rx="8" fill="#4a4a4a" filter="url(#b2)" opacity="0.9"/>
<rect x="261.6" y="1535" width="45.8" height="58" rx="6" fill="#8a8a8a" filter="url(#b2)" opacity="0.8"/>
<rect x="264.6" y="1554" width="39.8" height="16" rx="8" fill="#2c2c2c" filter="url(#b2)" opacity="0.9"/>
<rect x="331" y="1535" width="44.6" height="58" rx="6" fill="#999" filter="url(#b2)" opacity="0.8"/>
<rect x="334" y="1556" width="38.6" height="16" rx="8" fill="#5a5a5a" filter="url(#b2)" opacity="0.9"/>
<rect x="400.3" y="1535" width="47.1" height="58" rx="6" fill="#a0a0a0" filter="url(#b2)" opacity="0.8"/>
<rect x="403.3" y="1557" width="41.1" height="16" rx="8" fill="#666" filter="url(#b2)" opacity="0.9"/>
<rect x="470.4" y="1535" width="41.8" height="58" rx="6" fill="#9a9a9a" filter="url(#b2)" opacity="0.8"/>
<rect x="473.4" y="1562" width="35.8" height="16" rx="8" fill="#5e5e5e" filter="url(#b2)" opacity="0.9"/>
<rect x="533.8" y="1535" width="46.9" height="58" rx="6" fill="#a0a0a0" filter="url(#b2)" opacity="0.8"/>
<rect x="536.8" y="1562" width="40.9" height="16" rx="8" fill="#6a6a6a" filter="url(#b2)" opacity="0.9"/>
<rect x="602.2" y="1535" width="44.4" height="58" rx="6" fill="#808080" filter="url(#b2)" opacity="0.8"/>
<rect x="605.2" y="1562" width="38.4" height="16" rx="8" fill="#2e2e2e" filter="url(#b2)" opacity="0.9"/>
<rect x="666.9" y="1535" width="48.1" height="58" rx="6" fill="#909090" filter="url(#b2)" opacity="0.8"/>
<rect x="669.9" y="1563" width="42.1" height="16" rx="8" fill="#505050" filter="url(#b2)" opacity="0.9"/>
<rect x="736.6" y="1535" width="50.7" height="58" rx="6" fill="#707070" filter="url(#b2)" opacity="0.8"/>
<rect x="739.6" y="1562" width="44.7" height="16" rx="8" fill="#262626" filter="url(#b2)" opacity="0.9"/>
<rect x="807.6" y="1535" width="53.2" height="58" rx="6" fill="#6a6a6a" filter="url(#b2)" opacity="0.8"/>
<rect x="810.6" y="1562" width="47.2" height="16" rx="8" fill="#141414" filter="url(#b2)" opacity="0.9"/>
<rect x="38.9" y="1533.7" width="830.9" height="60.7" filter="url(#grain)" opacity="0.2"/>
</g>
<rect x="38.9" y="1533.7" width="830.9" height="60.7" fill="none" stroke="#000" stroke-width="2.2"/>
<g clip-path="url(#bc5)">
<rect x="38.9" y="1603.8" width="830.9" height="50" fill="#eeeeee"/>
<rect x="52" y="1604" width="47" height="48" rx="4" fill="#dcdcdc" filter="url(#b2)" opacity="0.8"/>
<rect x="121.7" y="1604" width="47" height="48" rx="4" fill="#dcdcdc" filter="url(#b2)" opacity="0.8"/>
<rect x="191" y="1604" width="49.5" height="48" rx="4" fill="#dcdcdc" filter="url(#b2)" opacity="0.8"/>
<rect x="261.6" y="1604" width="45.8" height="48" rx="4" fill="#dcdcdc" filter="url(#b2)" opacity="0.8"/>
<rect x="331" y="1604" width="44.6" height="48" rx="4" fill="#dcdcdc" filter="url(#b2)" opacity="0.8"/>
<rect x="400.3" y="1604" width="47.1" height="48" rx="4" fill="#dcdcdc" filter="url(#b2)" opacity="0.8"/>
<rect x="470.4" y="1604" width="41.8" height="48" rx="4" fill="#dcdcdc" filter="url(#b2)" opacity="0.8"/>
<rect x="533.8" y="1604" width="46.9" height="48" rx="4" fill="#dcdcdc" filter="url(#b2)" opacity="0.8"/>
<rect x="55" y="1617" width="47" height="4" rx="2" fill="#888" filter="url(#b1)" opacity="0.7"/>
<rect x="124" y="1618" width="47" height="4" rx="2" fill="#666" filter="url(#b1)" opacity="0.8"/>
<rect x="194" y="1618" width="50" height="4" rx="2" fill="#666" filter="url(#b1)" opacity="0.8"/>
<rect x="470" y="1618.2" width="43" height="3.5" rx="1.8" fill="#777" filter="url(#b1)" opacity="0.7"/>
<rect x="535" y="1620.5" width="48" height="4" rx="2" fill="#555" filter="url(#b1)" opacity="0.8"/>
<rect x="605" y="1619.5" width="45" height="5" rx="2.5" fill="#333" filter="url(#b1)" opacity="0.8"/>
<rect x="602" y="1612" width="48" height="40" rx="4" fill="#c8c8c8" filter="url(#b2)" opacity="0.9"/>
<rect x="672" y="1605" width="50" height="50" rx="4" fill="#a8a8a8" filter="url(#b2)" opacity="0.9"/>
<rect x="738" y="1605" width="54" height="50" rx="4" fill="#999" filter="url(#b2)" opacity="0.9"/>
<rect x="805" y="1605" width="60" height="50" rx="4" fill="#777" filter="url(#b2)" opacity="0.9"/>
<rect x="745" y="1616.5" width="45" height="7" rx="3.5" fill="#222" filter="url(#b1)" opacity="0.9"/>
<rect x="812" y="1618" width="48" height="20" rx="10" fill="#444" filter="url(#b2)" opacity="0.8"/>
<rect x="701" y="1603" width="1.6" height="52" fill="#eee"/>
<rect x="850" y="1603" width="2" height="52" fill="#f3f3f3"/>
<rect x="778" y="1603" width="1.2" height="52" fill="#ddd"/>
<rect x="38.9" y="1603.8" width="830.9" height="50" filter="url(#grain)" opacity="0.2"/>
</g>
<rect x="38.9" y="1603.8" width="830.9" height="50" fill="none" stroke="#000" stroke-width="2.2"/>
<g clip-path="url(#bc6)">
<rect x="38.9" y="1663.7" width="830.9" height="59.5" fill="#d6d6d6"/>
<rect x="47.6" y="1673" width="57.7" height="34" rx="17" fill="#666" filter="url(#b3)" opacity="0.4"/>
<rect x="115.7" y="1673.5" width="57" height="34" rx="17" fill="#666" filter="url(#b3)" opacity="0.4"/>
<rect x="182.6" y="1673.5" width="60.7" height="34" rx="17" fill="#666" filter="url(#b3)" opacity="0.4"/>
<rect x="250.2" y="1668" width="61.9" height="36" rx="18" fill="#666" filter="url(#b3)" opacity="0.4"/>
<rect x="320" y="1673" width="57.3" height="34" rx="17" fill="#666" filter="url(#b3)" opacity="0.4"/>
<rect x="393" y="1674.5" width="48" height="32" rx="16" fill="#666" filter="url(#b3)" opacity="0.4"/>
<rect x="453" y="1675.5" width="57.7" height="33" rx="16.5" fill="#666" filter="url(#b3)" opacity="0.4"/>
<rect x="521.4" y="1675.5" width="59" height="36" rx="18" fill="#666" filter="url(#b3)" opacity="0.4"/>
<rect x="589.8" y="1675.5" width="57.8" height="36" rx="18" fill="#666" filter="url(#b3)" opacity="0.4"/>
<rect x="657" y="1674" width="59" height="34" rx="17" fill="#666" filter="url(#b3)" opacity="0.4"/>
<rect x="726.7" y="1674" width="59" height="34" rx="17" fill="#666" filter="url(#b3)" opacity="0.4"/>
<rect x="795" y="1670.5" width="63" height="34" rx="17" fill="#666" filter="url(#b3)" opacity="0.4"/>
<rect x="48.6" y="1674.5" width="55.7" height="27" rx="9" fill="#000" filter="url(#b1)"/>
<rect x="116.7" y="1675" width="55" height="27" rx="9" fill="#000" filter="url(#b1)"/>
<rect x="183.6" y="1675" width="58.7" height="27" rx="9" fill="#000" filter="url(#b1)"/>
<rect x="251.2" y="1669.5" width="59.9" height="29" rx="9" fill="#000" filter="url(#b1)"/>
<rect x="321" y="1674.5" width="55.3" height="27" rx="9" fill="#000" filter="url(#b1)"/>
<rect x="394" y="1676" width="46" height="25" rx="9" fill="#000" filter="url(#b1)"/>
<rect x="454" y="1677" width="55.7" height="26" rx="9" fill="#000" filter="url(#b1)"/>
<rect x="522.4" y="1677" width="57" height="29" rx="9" fill="#000" filter="url(#b1)"/>
<rect x="590.8" y="1677" width="55.8" height="29" rx="9" fill="#000" filter="url(#b1)"/>
<rect x="658" y="1675.5" width="57" height="27" rx="9" fill="#000" filter="url(#b1)"/>
<rect x="727.7" y="1675.5" width="57" height="27" rx="9" fill="#000" filter="url(#b1)"/>
<rect x="796" y="1672" width="61" height="27" rx="9" fill="#000" filter="url(#b1)"/>
<rect x="38.9" y="1663.7" width="830.9" height="59.5" filter="url(#grain)" opacity="0.3"/>
</g>
<rect x="38.9" y="1663.7" width="830.9" height="59.5" fill="none" stroke="#000" stroke-width="2.2"/>
<text x="894.6" y="1381" font-size="26">p-eIF2α</text>
<text x="894.6" y="1444.4" font-size="26">eIF2α</text>
<text x="894.6" y="1507.8" font-size="26">ATF4</text>
<text x="894.6" y="1572.9" font-size="26">CHOP</text>
<text x="894.6" y="1639.2" font-size="26">XBP1s</text>
<text x="894.6" y="1699.6" font-size="26">GAPDH</text>
<text x="246.3" y="1254" font-size="25.5" text-anchor="middle">shNC</text>
<text x="665" y="1254" font-size="25.5" text-anchor="middle">shNRF1</text>
<text x="144.6" y="1309" font-size="26.5" text-anchor="middle">HFD</text>
<text x="349.7" y="1309" font-size="26.5" text-anchor="middle">HFD+DHA</text>
<text x="559.4" y="1309" font-size="26.5" text-anchor="middle">HFD</text>
<text x="768.1" y="1309" font-size="26.5" text-anchor="middle">HFD+DHA</text>
<line x1="45" y1="1269.5" x2="448.4" y2="1269.5" stroke="#000" stroke-width="2.4"/>
<line x1="464" y1="1269.5" x2="867.3" y2="1269.5" stroke="#000" stroke-width="2.4"/>
<line x1="51.3" y1="1325.5" x2="238" y2="1325.5" stroke="#000" stroke-width="2.4"/>
<line x1="256.6" y1="1325.5" x2="443.8" y2="1325.5" stroke="#000" stroke-width="2.4"/>
<line x1="465" y1="1325.5" x2="651.7" y2="1325.5" stroke="#000" stroke-width="2.4"/>
<line x1="674" y1="1325.5" x2="861" y2="1325.5" stroke="#000" stroke-width="2.4"/>
<rect x="1160.1" y="1412.2" width="41.3" height="181.1" fill="#e6be91"/>
<rect x="1213.8" y="1425.6" width="41.3" height="167.7" fill="#8cd7cd"/>
<rect x="1267.6" y="1475.1" width="41.3" height="118.2" fill="#8cc3cd"/>
<rect x="1321.3" y="1492.4" width="41.3" height="100.9" fill="#c3b4d7"/>
<rect x="1375.1" y="1585.7" width="41.3" height="7.6" fill="#e1b9c8"/>
<line x1="1180.8" y1="1411" x2="1180.8" y2="1414" stroke="#000" stroke-width="2.4"/>
<line x1="1173.3" y1="1411" x2="1188.3" y2="1411" stroke="#000" stroke-width="2.4"/>
<line x1="1173.3" y1="1414" x2="1188.3" y2="1414" stroke="#000" stroke-width="2.4"/>
<line x1="1234.5" y1="1424" x2="1234.5" y2="1431.3" stroke="#000" stroke-width="2.4"/>
<line x1="1227" y1="1424" x2="1242" y2="1424" stroke="#000" stroke-width="2.4"/>
<line x1="1227" y1="1431.3" x2="1242" y2="1431.3" stroke="#000" stroke-width="2.4"/>
<line x1="1288.3" y1="1470.5" x2="1288.3" y2="1479.7" stroke="#000" stroke-width="2.4"/>
<line x1="1280.8" y1="1470.5" x2="1295.8" y2="1470.5" stroke="#000" stroke-width="2.4"/>
<line x1="1280.8" y1="1479.7" x2="1295.8" y2="1479.7" stroke="#000" stroke-width="2.4"/>
<line x1="1342" y1="1486.2" x2="1342" y2="1497" stroke="#000" stroke-width="2.4"/>
<line x1="1334.5" y1="1486.2" x2="1349.5" y2="1486.2" stroke="#000" stroke-width="2.4"/>
<line x1="1334.5" y1="1497" x2="1349.5" y2="1497" stroke="#000" stroke-width="2.4"/>
<line x1="1395.8" y1="1579.5" x2="1395.8" y2="1582.5" stroke="#000" stroke-width="2.4"/>
<line x1="1388.3" y1="1579.5" x2="1403.3" y2="1579.5" stroke="#000" stroke-width="2.4"/>
<line x1="1388.3" y1="1582.5" x2="1403.3" y2="1582.5" stroke="#000" stroke-width="2.4"/>
<circle cx="1164" cy="1412.9" r="5.2" fill="#000"/>
<circle cx="1180.6" cy="1411.8" r="5.2" fill="#000"/>
<circle cx="1197" cy="1412.4" r="5.2" fill="#000"/>
<circle cx="1218.2" cy="1431.8" r="5.2" fill="#000"/>
<circle cx="1234.3" cy="1425.6" r="5.2" fill="#000"/>
<circle cx="1251.2" cy="1425.6" r="5.2" fill="#000"/>
<circle cx="1280.4" cy="1478.6" r="5.2" fill="#000"/>
<circle cx="1280.4" cy="1471.7" r="5.2" fill="#000"/>
<circle cx="1296.5" cy="1472.8" r="5.2" fill="#000"/>
<circle cx="1334.6" cy="1489.4" r="5.2" fill="#000"/>
<circle cx="1342.2" cy="1498.2" r="5.2" fill="#000"/>
<circle cx="1349.5" cy="1489.4" r="5.2" fill="#000"/>
<circle cx="1379.5" cy="1582.3" r="5.2" fill="#000"/>
<circle cx="1395.6" cy="1579.5" r="5.2" fill="#000"/>
<circle cx="1411.8" cy="1581.1" r="5.2" fill="#000"/>
<line x1="1152.5" y1="1320.3" x2="1152.5" y2="1594.5" stroke="#000" stroke-width="2.6"/>
<line x1="1140.3" y1="1593.3" x2="1425.6" y2="1593.3" stroke="#000" stroke-width="2.6"/>
<line x1="1140.3" y1="1593.3" x2="1152.5" y2="1593.3" stroke="#000" stroke-width="2.4"/>
<text x="1136.5" y="1601.1" font-size="22.5" text-anchor="end" fill="#111">0</text>
<line x1="1140.3" y1="1502.4" x2="1152.5" y2="1502.4" stroke="#000" stroke-width="2.4"/>
<text x="1136.5" y="1510.2" font-size="22.5" text-anchor="end" fill="#111">50</text>
<line x1="1140.3" y1="1411.5" x2="1152.5" y2="1411.5" stroke="#000" stroke-width="2.4"/>
<text x="1136.5" y="1419.3" font-size="22.5" text-anchor="end" fill="#111">100</text>
<line x1="1140.3" y1="1320.6" x2="1152.5" y2="1320.6" stroke="#000" stroke-width="2.4"/>
<text x="1136.5" y="1328.4" font-size="22.5" text-anchor="end" fill="#111">150</text>
<line x1="1145.5" y1="1547.8" x2="1152.5" y2="1547.8" stroke="#000" stroke-width="2.2"/>
<line x1="1145.5" y1="1457" x2="1152.5" y2="1457" stroke="#000" stroke-width="2.2"/>
<line x1="1145.5" y1="1366" x2="1152.5" y2="1366" stroke="#000" stroke-width="2.2"/>
<line x1="1180.8" y1="1593.3" x2="1180.8" y2="1605.3" stroke="#000" stroke-width="2.6"/>
<line x1="1234.5" y1="1593.3" x2="1234.5" y2="1605.3" stroke="#000" stroke-width="2.6"/>
<line x1="1288.3" y1="1593.3" x2="1288.3" y2="1605.3" stroke="#000" stroke-width="2.6"/>
<line x1="1342" y1="1593.3" x2="1342" y2="1605.3" stroke="#000" stroke-width="2.6"/>
<line x1="1395.8" y1="1593.3" x2="1395.8" y2="1605.3" stroke="#000" stroke-width="2.6"/>
<line x1="1234.3" y1="1379" x2="1282.7" y2="1379" stroke="#000" stroke-width="2.6"/>
<text x="1260.7" y="1377.5" font-size="36" text-anchor="middle" font-weight="bold" letter-spacing="2.6">***</text>
<line x1="1294.2" y1="1395.9" x2="1395.6" y2="1395.9" stroke="#000" stroke-width="2.6"/>
<text x="1347.3" y="1395.5" font-size="36" text-anchor="middle" font-weight="bold" letter-spacing="2.6">***</text>
<line x1="1294.2" y1="1443.5" x2="1342.2" y2="1443.5" stroke="#000" stroke-width="2.6"/>
<text x="1320.4" y="1442.7" font-size="36" text-anchor="middle" font-weight="bold" letter-spacing="2.6">***</text>
<line x1="1157" y1="1612.7" x2="1259" y2="1612.7" stroke="#000" stroke-width="2.6"/>
<line x1="1273.5" y1="1612.7" x2="1410.6" y2="1612.7" stroke="#000" stroke-width="2.6"/>
<text x="1208" y="1638.9" font-size="22.8" text-anchor="middle" fill="#111">WT</text>
<text x="1342" y="1638.9" font-size="22.8" text-anchor="middle" fill="#111">NRF1 KO</text>
<text transform="translate(1084,1457.3) rotate(-90)" font-size="26.2" font-weight="bold" text-anchor="middle">Cell Viability (%)</text>
<text x="1150.5" y="1676.5" font-size="22.8" text-anchor="end" fill="#111">FFA</text>
<text x="1181.1" y="1678.6" font-size="27" text-anchor="middle">-</text>
<text x="1235" y="1678.7" font-size="27" text-anchor="middle">+</text>
<text x="1288.8" y="1678.7" font-size="27" text-anchor="middle">+</text>
<text x="1342.5" y="1678.7" font-size="27" text-anchor="middle">+</text>
<text x="1396.3" y="1678.7" font-size="27" text-anchor="middle">+</text>
<text x="1150.5" y="1711.2" font-size="22.8" text-anchor="end" fill="#111">Tunicamycin</text>
<text x="1181.1" y="1713.3" font-size="27" text-anchor="middle">-</text>
<text x="1234.8" y="1713.3" font-size="27" text-anchor="middle">-</text>
<text x="1288.6" y="1713.3" font-size="27" text-anchor="middle">-</text>
<text x="1342.5" y="1713.4" font-size="27" text-anchor="middle">+</text>
<text x="1396.1" y="1713.3" font-size="27" text-anchor="middle">-</text>
<text x="1150.5" y="1747.2" font-size="22.8" text-anchor="end" fill="#111">MG132</text>
<text x="1181.1" y="1749.3" font-size="27" text-anchor="middle">-</text>
<text x="1234.8" y="1749.3" font-size="27" text-anchor="middle">-</text>
<text x="1288.6" y="1749.3" font-size="27" text-anchor="middle">-</text>
<text x="1342.3" y="1749.3" font-size="27" text-anchor="middle">-</text>
<text x="1396.3" y="1749.4" font-size="27" text-anchor="middle">+</text>
<rect x="1605.9" y="1412.4" width="41" height="180.9" fill="#e6be91"/>
<rect x="1659.5" y="1438.2" width="41" height="155.1" fill="#8cd7cd"/>
<rect x="1713.1" y="1412" width="41" height="181.3" fill="#8cc3cd"/>
<rect x="1766.8" y="1432.5" width="41" height="160.8" fill="#c3b4d7"/>
<rect x="1820.5" y="1534.6" width="41" height="58.7" fill="#e1b9c8"/>
<line x1="1626.4" y1="1406.5" x2="1626.4" y2="1416.4" stroke="#000" stroke-width="2.4"/>
<line x1="1618.9" y1="1406.5" x2="1633.9" y2="1406.5" stroke="#000" stroke-width="2.4"/>
<line x1="1618.9" y1="1416.4" x2="1633.9" y2="1416.4" stroke="#000" stroke-width="2.4"/>
<line x1="1680" y1="1427.2" x2="1680" y2="1450.2" stroke="#000" stroke-width="2.4"/>
<line x1="1672.5" y1="1427.2" x2="1687.5" y2="1427.2" stroke="#000" stroke-width="2.4"/>
<line x1="1672.5" y1="1450.2" x2="1687.5" y2="1450.2" stroke="#000" stroke-width="2.4"/>
<line x1="1733.6" y1="1406.5" x2="1733.6" y2="1417" stroke="#000" stroke-width="2.4"/>
<line x1="1726.1" y1="1406.5" x2="1741.1" y2="1406.5" stroke="#000" stroke-width="2.4"/>
<line x1="1726.1" y1="1417" x2="1741.1" y2="1417" stroke="#000" stroke-width="2.4"/>
<line x1="1787.3" y1="1427.4" x2="1787.3" y2="1435.5" stroke="#000" stroke-width="2.4"/>
<line x1="1779.8" y1="1427.4" x2="1794.8" y2="1427.4" stroke="#000" stroke-width="2.4"/>
<line x1="1779.8" y1="1435.5" x2="1794.8" y2="1435.5" stroke="#000" stroke-width="2.4"/>
<line x1="1841" y1="1510.8" x2="1841" y2="1558" stroke="#000" stroke-width="2.4"/>
<line x1="1833.5" y1="1510.8" x2="1848.5" y2="1510.8" stroke="#000" stroke-width="2.4"/>
<line x1="1833.5" y1="1558" x2="1848.5" y2="1558" stroke="#000" stroke-width="2.4"/>
<circle cx="1618.2" cy="1404.8" r="5.2" fill="#000"/>
<circle cx="1618.2" cy="1416.4" r="5.2" fill="#000"/>
<circle cx="1634.8" cy="1413.4" r="5.2" fill="#000"/>
<circle cx="1679.7" cy="1425.6" r="5.2" fill="#000"/>
<circle cx="1671.7" cy="1446.8" r="5.2" fill="#000"/>
<circle cx="1687.8" cy="1442.2" r="5.2" fill="#000"/>
<circle cx="1725.3" cy="1408.3" r="5.2" fill="#000"/>
<circle cx="1741.9" cy="1408.3" r="5.2" fill="#000"/>
<circle cx="1733.9" cy="1417.5" r="5.2" fill="#000"/>
<circle cx="1771.4" cy="1435.5" r="5.2" fill="#000"/>
<circle cx="1788" cy="1427.4" r="5.2" fill="#000"/>
<circle cx="1804.1" cy="1432" r="5.2" fill="#000"/>
<circle cx="1841" cy="1517.7" r="5.2" fill="#000"/>
<circle cx="1841" cy="1525.8" r="5.2" fill="#000"/>
<circle cx="1841" cy="1561.5" r="5.2" fill="#000"/>
<line x1="1597.8" y1="1320.3" x2="1597.8" y2="1594.5" stroke="#000" stroke-width="2.6"/>
<line x1="1585.6" y1="1593.3" x2="1871" y2="1593.3" stroke="#000" stroke-width="2.6"/>
<line x1="1585.6" y1="1593.3" x2="1597.8" y2="1593.3" stroke="#000" stroke-width="2.4"/>
<text x="1583.5" y="1601.1" font-size="22.5" text-anchor="end" fill="#111">0</text>
<line x1="1585.6" y1="1502.4" x2="1597.8" y2="1502.4" stroke="#000" stroke-width="2.4"/>
<text x="1583.5" y="1510.2" font-size="22.5" text-anchor="end" fill="#111">50</text>
<line x1="1585.6" y1="1411.5" x2="1597.8" y2="1411.5" stroke="#000" stroke-width="2.4"/>
<text x="1583.5" y="1419.3" font-size="22.5" text-anchor="end" fill="#111">100</text>
<line x1="1585.6" y1="1320.6" x2="1597.8" y2="1320.6" stroke="#000" stroke-width="2.4"/>
<text x="1583.5" y="1328.4" font-size="22.5" text-anchor="end" fill="#111">150</text>
<line x1="1590.8" y1="1547.8" x2="1597.8" y2="1547.8" stroke="#000" stroke-width="2.2"/>
<line x1="1590.8" y1="1457" x2="1597.8" y2="1457" stroke="#000" stroke-width="2.2"/>
<line x1="1590.8" y1="1366" x2="1597.8" y2="1366" stroke="#000" stroke-width="2.2"/>
<line x1="1626.4" y1="1593.3" x2="1626.4" y2="1605.3" stroke="#000" stroke-width="2.6"/>
<line x1="1680" y1="1593.3" x2="1680" y2="1605.3" stroke="#000" stroke-width="2.6"/>
<line x1="1733.6" y1="1593.3" x2="1733.6" y2="1605.3" stroke="#000" stroke-width="2.6"/>
<line x1="1787.3" y1="1593.3" x2="1787.3" y2="1605.3" stroke="#000" stroke-width="2.6"/>
<line x1="1841" y1="1593.3" x2="1841" y2="1605.3" stroke="#000" stroke-width="2.6"/>
<line x1="1680.2" y1="1331.8" x2="1728.1" y2="1331.8" stroke="#000" stroke-width="2.6"/>
<text x="1702.8" y="1318.4" font-size="22" text-anchor="middle" fill="#111">0.07</text>
<line x1="1739.6" y1="1349.5" x2="1841" y2="1349.5" stroke="#000" stroke-width="2.6"/>
<text x="1789.2" y="1336.4" font-size="22" text-anchor="middle" fill="#111">&lt;0.001</text>
<line x1="1739.6" y1="1390.6" x2="1786.9" y2="1390.6" stroke="#000" stroke-width="2.6"/>
<text x="1763.1" y="1376.7" font-size="22" text-anchor="middle" fill="#111">0.13</text>
<line x1="1602.5" y1="1612.2" x2="1704.6" y2="1612.2" stroke="#000" stroke-width="2.6"/>
<line x1="1718.9" y1="1612.2" x2="1856" y2="1612.2" stroke="#000" stroke-width="2.6"/>
<text x="1647.6" y="1638.9" font-size="22.8" text-anchor="middle" fill="#111">VEC</text>
<text x="1781" y="1638.9" font-size="22.8" text-anchor="middle" fill="#111">NRF1-Flag</text>
<text transform="translate(1530,1457.3) rotate(-90)" font-size="26.2" font-weight="bold" text-anchor="middle">Cell Viability (%)</text>
<text x="1595.8" y="1676.5" font-size="22.8" text-anchor="end" fill="#111">FFA</text>
<text x="1626.7" y="1678.6" font-size="27" text-anchor="middle">-</text>
<text x="1680.5" y="1678.7" font-size="27" text-anchor="middle">+</text>
<text x="1734.1" y="1678.7" font-size="27" text-anchor="middle">+</text>
<text x="1787.8" y="1678.7" font-size="27" text-anchor="middle">+</text>
<text x="1841.5" y="1678.7" font-size="27" text-anchor="middle">+</text>
<text x="1595.8" y="1711.2" font-size="22.8" text-anchor="end" fill="#111">Tunicamycin</text>
<text x="1626.7" y="1713.3" font-size="27" text-anchor="middle">-</text>
<text x="1680.3" y="1713.3" font-size="27" text-anchor="middle">-</text>
<text x="1733.9" y="1713.3" font-size="27" text-anchor="middle">-</text>
<text x="1787.8" y="1713.4" font-size="27" text-anchor="middle">+</text>
<text x="1841.3" y="1713.3" font-size="27" text-anchor="middle">-</text>
<text x="1595.8" y="1747.2" font-size="22.8" text-anchor="end" fill="#111">MG132</text>
<text x="1626.7" y="1749.3" font-size="27" text-anchor="middle">-</text>
<text x="1680.3" y="1749.3" font-size="27" text-anchor="middle">-</text>
<text x="1733.9" y="1749.3" font-size="27" text-anchor="middle">-</text>
<text x="1787.6" y="1749.3" font-size="27" text-anchor="middle">-</text>
<text x="1841.5" y="1749.4" font-size="27" text-anchor="middle">+</text>
<rect x="144.9" y="2162.9" width="41" height="49.3" fill="#e6be91"/>
<rect x="198" y="2124" width="41" height="88.2" fill="#8cd7cd"/>
<rect x="250.9" y="2112.6" width="41" height="99.6" fill="#8cc3cd"/>
<rect x="303.8" y="2099.7" width="41" height="112.5" fill="#c3b4d7"/>
<rect x="356.9" y="1950.3" width="41" height="261.9" fill="#e1b9c8"/>
<line x1="165.4" y1="2156" x2="165.4" y2="2163" stroke="#000" stroke-width="2.4"/>
<line x1="157.9" y1="2156" x2="172.9" y2="2156" stroke="#000" stroke-width="2.4"/>
<line x1="157.9" y1="2163" x2="172.9" y2="2163" stroke="#000" stroke-width="2.4"/>
<line x1="218.5" y1="2119" x2="218.5" y2="2124.5" stroke="#000" stroke-width="2.4"/>
<line x1="211" y1="2119" x2="226" y2="2119" stroke="#000" stroke-width="2.4"/>
<line x1="211" y1="2124.5" x2="226" y2="2124.5" stroke="#000" stroke-width="2.4"/>
<line x1="271.4" y1="2111" x2="271.4" y2="2113" stroke="#000" stroke-width="2.4"/>
<line x1="263.9" y1="2111" x2="278.9" y2="2111" stroke="#000" stroke-width="2.4"/>
<line x1="263.9" y1="2113" x2="278.9" y2="2113" stroke="#000" stroke-width="2.4"/>
<line x1="324.3" y1="2098.5" x2="324.3" y2="2100.5" stroke="#000" stroke-width="2.4"/>
<line x1="316.8" y1="2098.5" x2="331.8" y2="2098.5" stroke="#000" stroke-width="2.4"/>
<line x1="316.8" y1="2100.5" x2="331.8" y2="2100.5" stroke="#000" stroke-width="2.4"/>
<line x1="377.4" y1="1948" x2="377.4" y2="1950.5" stroke="#000" stroke-width="2.4"/>
<line x1="369.9" y1="1948" x2="384.9" y2="1948" stroke="#000" stroke-width="2.4"/>
<line x1="369.9" y1="1950.5" x2="384.9" y2="1950.5" stroke="#000" stroke-width="2.4"/>
<circle cx="149.3" cy="2161.3" r="5.2" fill="#000"/>
<circle cx="164.9" cy="2155.1" r="5.2" fill="#000"/>
<circle cx="180.4" cy="2158.2" r="5.2" fill="#000"/>
<circle cx="202.2" cy="2122.5" r="5.2" fill="#000"/>
<circle cx="217.7" cy="2118.3" r="5.2" fill="#000"/>
<circle cx="234.3" cy="2120.9" r="5.2" fill="#000"/>
<circle cx="255" cy="2111.6" r="5.2" fill="#000"/>
<circle cx="270.6" cy="2111.6" r="5.2" fill="#000"/>
<circle cx="286.7" cy="2111.6" r="5.2" fill="#000"/>
<circle cx="308.5" cy="2099.7" r="5.2" fill="#000"/>
<circle cx="324" cy="2098.6" r="5.2" fill="#000"/>
<circle cx="340.1" cy="2099.7" r="5.2" fill="#000"/>
<circle cx="361.3" cy="1949.8" r="5.2" fill="#000"/>
<circle cx="377.4" cy="1948.3" r="5.2" fill="#000"/>
<circle cx="394" cy="1949.8" r="5.2" fill="#000"/>
<line x1="137.4" y1="1942.6" x2="137.4" y2="2213.4" stroke="#000" stroke-width="2.6"/>
<line x1="125.2" y1="2212.2" x2="405.9" y2="2212.2" stroke="#000" stroke-width="2.6"/>
<line x1="125.2" y1="2212.2" x2="137.4" y2="2212.2" stroke="#000" stroke-width="2.4"/>
<text x="122" y="2219.3" font-size="22.5" text-anchor="end" fill="#111">0</text>
<line x1="125.2" y1="2145" x2="137.4" y2="2145" stroke="#000" stroke-width="2.4"/>
<text x="122" y="2152.1" font-size="22.5" text-anchor="end" fill="#111">100</text>
<line x1="125.2" y1="2077.9" x2="137.4" y2="2077.9" stroke="#000" stroke-width="2.4"/>
<text x="122" y="2085" font-size="22.5" text-anchor="end" fill="#111">200</text>
<line x1="125.2" y1="2010.7" x2="137.4" y2="2010.7" stroke="#000" stroke-width="2.4"/>
<text x="122" y="2017.8" font-size="22.5" text-anchor="end" fill="#111">300</text>
<line x1="125.2" y1="1943.6" x2="137.4" y2="1943.6" stroke="#000" stroke-width="2.4"/>
<text x="122" y="1950.7" font-size="22.5" text-anchor="end" fill="#111">400</text>
<line x1="130.4" y1="2178.6" x2="137.4" y2="2178.6" stroke="#000" stroke-width="2.2"/>
<line x1="130.4" y1="2111.5" x2="137.4" y2="2111.5" stroke="#000" stroke-width="2.2"/>
<line x1="130.4" y1="2044.3" x2="137.4" y2="2044.3" stroke="#000" stroke-width="2.2"/>
<line x1="130.4" y1="1977.2" x2="137.4" y2="1977.2" stroke="#000" stroke-width="2.2"/>
<line x1="165.4" y1="2212.2" x2="165.4" y2="2224.2" stroke="#000" stroke-width="2.6"/>
<line x1="218.5" y1="2212.2" x2="218.5" y2="2224.2" stroke="#000" stroke-width="2.6"/>
<line x1="271.4" y1="2212.2" x2="271.4" y2="2224.2" stroke="#000" stroke-width="2.6"/>
<line x1="324.3" y1="2212.2" x2="324.3" y2="2224.2" stroke="#000" stroke-width="2.6"/>
<line x1="377.4" y1="2212.2" x2="377.4" y2="2224.2" stroke="#000" stroke-width="2.6"/>
<line x1="218.2" y1="2064.5" x2="271.4" y2="2064.5" stroke="#000" stroke-width="2.6"/>
<text x="246.6" y="2063.6" font-size="36" text-anchor="middle" font-weight="bold" letter-spacing="2.6">***</text>
<line x1="271.4" y1="1997.5" x2="324.2" y2="1997.5" stroke="#000" stroke-width="2.6"/>
<text x="300.1" y="1996.7" font-size="36" text-anchor="middle" font-weight="bold" letter-spacing="2.6">***</text>
<line x1="271.4" y1="1931.1" x2="377.4" y2="1931.1" stroke="#000" stroke-width="2.6"/>
<text x="326.5" y="1930.1" font-size="36" text-anchor="middle" font-weight="bold" letter-spacing="2.6">***</text>
<line x1="141" y1="2230.3" x2="242.6" y2="2230.3" stroke="#000" stroke-width="2.6"/>
<line x1="256.6" y1="2230.3" x2="391.4" y2="2230.3" stroke="#000" stroke-width="2.6"/>
<text x="191.8" y="2256.2" font-size="22.8" text-anchor="middle" fill="#111">WT</text>
<text x="324" y="2256.2" font-size="22.8" text-anchor="middle" fill="#111">NRF1 KO</text>
<text transform="translate(68,2077.4) rotate(-90)" font-size="26.2" font-weight="bold" text-anchor="middle">LDH activity (U/L)</text>
<text x="135.3" y="2295.1" font-size="22.8" text-anchor="end" fill="#111">FFA</text>
<text x="165.7" y="2297.2" font-size="27" text-anchor="middle">-</text>
<text x="219" y="2297.3" font-size="27" text-anchor="middle">+</text>
<text x="271.9" y="2297.3" font-size="27" text-anchor="middle">+</text>
<text x="324.8" y="2297.3" font-size="27" text-anchor="middle">+</text>
<text x="377.9" y="2297.3" font-size="27" text-anchor="middle">+</text>
<text x="135.3" y="2327.8" font-size="22.8" text-anchor="end" fill="#111">Tunicamycin</text>
<text x="165.7" y="2329.9" font-size="27" text-anchor="middle">-</text>
<text x="218.8" y="2329.9" font-size="27" text-anchor="middle">-</text>
<text x="271.7" y="2329.9" font-size="27" text-anchor="middle">-</text>
<text x="324.8" y="2330" font-size="27" text-anchor="middle">+</text>
<text x="377.7" y="2329.9" font-size="27" text-anchor="middle">-</text>
<text x="135.3" y="2365.1" font-size="22.8" text-anchor="end" fill="#111">MG132</text>
<text x="165.7" y="2367.2" font-size="27" text-anchor="middle">-</text>
<text x="218.8" y="2367.2" font-size="27" text-anchor="middle">-</text>
<text x="271.7" y="2367.2" font-size="27" text-anchor="middle">-</text>
<text x="324.6" y="2367.2" font-size="27" text-anchor="middle">-</text>
<text x="377.9" y="2367.3" font-size="27" text-anchor="middle">+</text>
<rect x="602.1" y="2111" width="41" height="101.2" fill="#e6be91"/>
<rect x="655" y="2081.5" width="41" height="130.7" fill="#8cd7cd"/>
<rect x="708.2" y="2100.7" width="41" height="111.5" fill="#8cc3cd"/>
<rect x="761" y="2076.3" width="41" height="135.9" fill="#c3b4d7"/>
<rect x="813.7" y="2005.8" width="41" height="206.4" fill="#e1b9c8"/>
<line x1="622.6" y1="2108" x2="622.6" y2="2113" stroke="#000" stroke-width="2.4"/>
<line x1="615.1" y1="2108" x2="630.1" y2="2108" stroke="#000" stroke-width="2.4"/>
<line x1="615.1" y1="2113" x2="630.1" y2="2113" stroke="#000" stroke-width="2.4"/>
<line x1="675.5" y1="2069.6" x2="675.5" y2="2094.5" stroke="#000" stroke-width="2.4"/>
<line x1="668" y1="2069.6" x2="683" y2="2069.6" stroke="#000" stroke-width="2.4"/>
<line x1="668" y1="2094.5" x2="683" y2="2094.5" stroke="#000" stroke-width="2.4"/>
<line x1="728.7" y1="2091.4" x2="728.7" y2="2109.5" stroke="#000" stroke-width="2.4"/>
<line x1="721.2" y1="2091.4" x2="736.2" y2="2091.4" stroke="#000" stroke-width="2.4"/>
<line x1="721.2" y1="2109.5" x2="736.2" y2="2109.5" stroke="#000" stroke-width="2.4"/>
<line x1="781.5" y1="2069.6" x2="781.5" y2="2084.1" stroke="#000" stroke-width="2.4"/>
<line x1="774" y1="2069.6" x2="789" y2="2069.6" stroke="#000" stroke-width="2.4"/>
<line x1="774" y1="2084.1" x2="789" y2="2084.1" stroke="#000" stroke-width="2.4"/>
<line x1="834.2" y1="1992.9" x2="834.2" y2="2017.7" stroke="#000" stroke-width="2.4"/>
<line x1="826.7" y1="1992.9" x2="841.7" y2="1992.9" stroke="#000" stroke-width="2.4"/>
<line x1="826.7" y1="2017.7" x2="841.7" y2="2017.7" stroke="#000" stroke-width="2.4"/>
<circle cx="606.6" cy="2111.6" r="5.2" fill="#000"/>
<circle cx="622.1" cy="2108.5" r="5.2" fill="#000"/>
<circle cx="638.7" cy="2110" r="5.2" fill="#000"/>
<circle cx="674" cy="2068.5" r="5.2" fill="#000"/>
<circle cx="666.2" cy="2090.3" r="5.2" fill="#000"/>
<circle cx="683.3" cy="2084.1" r="5.2" fill="#000"/>
<circle cx="720.6" cy="2093.4" r="5.2" fill="#000"/>
<circle cx="728.4" cy="2110" r="5.2" fill="#000"/>
<circle cx="736.2" cy="2098.1" r="5.2" fill="#000"/>
<circle cx="772.5" cy="2070.1" r="5.2" fill="#000"/>
<circle cx="772.5" cy="2082.5" r="5.2" fill="#000"/>
<circle cx="789" cy="2077.4" r="5.2" fill="#000"/>
<circle cx="834.7" cy="1995.4" r="5.2" fill="#000"/>
<circle cx="834.7" cy="2006.3" r="5.2" fill="#000"/>
<circle cx="834.7" cy="2017.7" r="5.2" fill="#000"/>
<line x1="593.6" y1="1942.6" x2="593.6" y2="2213.4" stroke="#000" stroke-width="2.6"/>
<line x1="581.4" y1="2212.2" x2="863.2" y2="2212.2" stroke="#000" stroke-width="2.6"/>
<line x1="581.4" y1="2212.2" x2="593.6" y2="2212.2" stroke="#000" stroke-width="2.4"/>
<text x="576.5" y="2219.3" font-size="22.5" text-anchor="end" fill="#111">0</text>
<line x1="581.4" y1="2158.5" x2="593.6" y2="2158.5" stroke="#000" stroke-width="2.4"/>
<text x="576.5" y="2165.6" font-size="22.5" text-anchor="end" fill="#111">100</text>
<line x1="581.4" y1="2104.8" x2="593.6" y2="2104.8" stroke="#000" stroke-width="2.4"/>
<text x="576.5" y="2111.9" font-size="22.5" text-anchor="end" fill="#111">200</text>
<line x1="581.4" y1="2051" x2="593.6" y2="2051" stroke="#000" stroke-width="2.4"/>
<text x="576.5" y="2058.1" font-size="22.5" text-anchor="end" fill="#111">300</text>
<line x1="581.4" y1="1997.3" x2="593.6" y2="1997.3" stroke="#000" stroke-width="2.4"/>
<text x="576.5" y="2004.4" font-size="22.5" text-anchor="end" fill="#111">400</text>
<line x1="581.4" y1="1943.6" x2="593.6" y2="1943.6" stroke="#000" stroke-width="2.4"/>
<text x="576.5" y="1950.7" font-size="22.5" text-anchor="end" fill="#111">500</text>
<line x1="586.6" y1="2185.3" x2="593.6" y2="2185.3" stroke="#000" stroke-width="2.2"/>
<line x1="586.6" y1="2131.6" x2="593.6" y2="2131.6" stroke="#000" stroke-width="2.2"/>
<line x1="586.6" y1="2077.9" x2="593.6" y2="2077.9" stroke="#000" stroke-width="2.2"/>
<line x1="586.6" y1="2024.2" x2="593.6" y2="2024.2" stroke="#000" stroke-width="2.2"/>
<line x1="586.6" y1="1970.5" x2="593.6" y2="1970.5" stroke="#000" stroke-width="2.2"/>
<line x1="622.6" y1="2212.2" x2="622.6" y2="2224.2" stroke="#000" stroke-width="2.6"/>
<line x1="675.5" y1="2212.2" x2="675.5" y2="2224.2" stroke="#000" stroke-width="2.6"/>
<line x1="728.7" y1="2212.2" x2="728.7" y2="2224.2" stroke="#000" stroke-width="2.6"/>
<line x1="781.5" y1="2212.2" x2="781.5" y2="2224.2" stroke="#000" stroke-width="2.6"/>
<line x1="834.2" y1="2212.2" x2="834.2" y2="2224.2" stroke="#000" stroke-width="2.6"/>
<line x1="676.6" y1="2054" x2="728.4" y2="2054" stroke="#000" stroke-width="2.6"/>
<text x="700.9" y="2041" font-size="22" text-anchor="middle" fill="#111">0.07</text>
<line x1="728.4" y1="2007.4" x2="781.3" y2="2007.4" stroke="#000" stroke-width="2.6"/>
<text x="754.3" y="1994.4" font-size="22" text-anchor="middle" fill="#111">0.02</text>
<line x1="728.4" y1="1957.1" x2="834.7" y2="1957.1" stroke="#000" stroke-width="2.6"/>
<text x="780.2" y="1945.2" font-size="22" text-anchor="middle" fill="#111">&lt;0.001</text>
<line x1="598.8" y1="2230.3" x2="698.8" y2="2230.3" stroke="#000" stroke-width="2.6"/>
<line x1="714.4" y1="2230.3" x2="848.1" y2="2230.3" stroke="#000" stroke-width="2.6"/>
<text x="643.9" y="2256.2" font-size="22.8" text-anchor="middle" fill="#111">VEC</text>
<text x="775.1" y="2256.2" font-size="22.8" text-anchor="middle" fill="#111">NRF1-Flag</text>
<text transform="translate(524,2077.4) rotate(-90)" font-size="26.2" font-weight="bold" text-anchor="middle">LDH activity (U/L)</text>
<text x="592.5" y="2295.1" font-size="22.8" text-anchor="end" fill="#111">FFA</text>
<text x="622.9" y="2297.2" font-size="27" text-anchor="middle">-</text>
<text x="676" y="2297.3" font-size="27" text-anchor="middle">+</text>
<text x="729.2" y="2297.3" font-size="27" text-anchor="middle">+</text>
<text x="782" y="2297.3" font-size="27" text-anchor="middle">+</text>
<text x="834.7" y="2297.3" font-size="27" text-anchor="middle">+</text>
<text x="592.5" y="2327.8" font-size="22.8" text-anchor="end" fill="#111">Tunicamycin</text>
<text x="622.9" y="2329.9" font-size="27" text-anchor="middle">-</text>
<text x="675.8" y="2329.9" font-size="27" text-anchor="middle">-</text>
<text x="729" y="2329.9" font-size="27" text-anchor="middle">-</text>
<text x="782" y="2330" font-size="27" text-anchor="middle">+</text>
<text x="834.5" y="2329.9" font-size="27" text-anchor="middle">-</text>
<text x="592.5" y="2365.1" font-size="22.8" text-anchor="end" fill="#111">MG132</text>
<text x="622.9" y="2367.2" font-size="27" text-anchor="middle">-</text>
<text x="675.8" y="2367.2" font-size="27" text-anchor="middle">-</text>
<text x="729" y="2367.2" font-size="27" text-anchor="middle">-</text>
<text x="781.8" y="2367.2" font-size="27" text-anchor="middle">-</text>
<text x="834.7" y="2367.3" font-size="27" text-anchor="middle">+</text>
<g clip-path="url(#hc1)">
<rect x="1050" y="2028.8" width="158" height="132.5" filter="url(#c1)"/>
<ellipse cx="1185.9" cy="2057.9" rx="9" ry="14" fill="#0a300a" opacity="0.55" filter="url(#hb)"/>
<rect x="1150.4" y="2151.1" width="52.4" height="3.6" fill="#fff"/>
</g>
<g clip-path="url(#hc2)">
<rect x="1213.5" y="2028.8" width="157.7" height="132.5" filter="url(#c2)"/>
<rect x="1313.6" y="2151.1" width="52.4" height="3.6" fill="#fff"/>
</g>
<g clip-path="url(#hc3)">
<rect x="1377.8" y="2028.8" width="158.2" height="132.5" filter="url(#c3)"/>
<rect x="1377.8" y="2028.8" width="158.2" height="132.5" fill="url(#hg3)"/>
<g fill="#042a05" filter="url(#hb)" opacity="0.93">
<polygon points="1377.3,2024.2 1383,2025.1 1392.3,2027.1 1394.2,2029.6 1393.3,2034.4 1393.7,2041.6 1390.5,2044.8 1391,2050.9 1386.8,2055.7 1387.2,2057.7 1384.1,2064.8 1379,2066.5 1378.7,2071.3 1374.9,2065.2 1378.2,2062.3 1378.1,2057.8 1376.9,2053.8 1376.2,2046.9 1378.2,2042.1 1378.3,2036.8 1377.6,2029.4"/>
<polygon points="1375.7,2064.6 1380.6,2065.9 1386.1,2067.6 1389.4,2073 1389.1,2077.2 1389.6,2085.4 1392.2,2088.9 1388.2,2094.4 1386.4,2097.8 1388.2,2103.9 1384.5,2109 1382.1,2111 1375.8,2109.2 1376.1,2105.2 1375.7,2103.1 1378.6,2095.2 1377.6,2090.5 1378.8,2085.7 1375.9,2079.7 1377.2,2074.7 1377.3,2072.4"/>
<polygon points="1403.8,2049.6 1412.5,2049.8 1414.6,2046.8 1420.7,2048.3 1426,2052 1425,2056.4 1431.4,2061.6 1433.6,2067.6 1433.5,2071.6 1440.5,2075.4 1442.8,2080.4 1446.2,2084.1 1449.5,2092.4 1453.2,2095.5 1447.9,2098.9 1446.1,2105.8 1439.7,2108.6 1437.5,2110.2 1433,2113.2 1428,2114.3 1419.5,2114.7 1414.5,2118.5 1413.2,2119.3 1404.6,2113.9 1401,2115.8 1391.5,2111.7 1392.6,2107.8 1396.9,2100 1396.8,2096.8 1400.5,2095.1 1405.7,2089.2 1410.8,2088.4 1413.8,2083.5 1414.9,2079.9 1410,2074.3 1406.2,2067.9 1405.9,2063.4 1404.3,2055.7"/>
<polygon points="1416.1,2030.7 1424.1,2031.9 1434.1,2028.2 1430.8,2037.5 1430.1,2041.7 1432.6,2050.2 1425.1,2051.9 1421.2,2050.1 1417.6,2045.8 1418.6,2040.6 1419.4,2036.2"/>
<polygon points="1466.6,2024.8 1469.1,2025.8 1476.3,2025.4 1478.4,2026.3 1484.5,2025.6 1488.8,2028.4 1494.8,2028.1 1500.4,2024.6 1507.4,2028 1512.4,2028.4 1516.9,2025.1 1520.4,2025.3 1525.2,2024.6 1530.2,2028.7 1534.8,2027.8 1540.7,2026.2 1542.9,2034 1541.1,2038.2 1539.4,2041.6 1542.9,2048.2 1541.1,2054.3 1538.9,2058.9 1540.9,2065.4 1539.4,2071.2 1534.5,2065.5 1532.2,2065.4 1526.1,2060.7 1524.4,2058.9 1518.6,2056.8 1513.2,2052.8 1509.1,2050.5 1503.2,2045.8 1497.9,2043.6 1494.3,2042.4 1487.3,2043.6 1480.8,2041.6 1477.6,2042.4 1466.2,2037.5 1465.3,2034.5"/>
<polygon points="1477.5,2065.5 1480.4,2060.5 1487.5,2061.1 1491.6,2060.5 1496.9,2054.3 1502.7,2053.8 1506.4,2059.1 1508.5,2057.9 1512.7,2062.2 1517.8,2064.9 1524.1,2065.6 1524.7,2071.6 1524.9,2080.1 1527.4,2082.2 1526.5,2088.7 1519.8,2094.5 1517.7,2095.8 1513.3,2100.6 1506.5,2097.5 1499.5,2100.6 1497.7,2098.3 1491.9,2097.7 1484.3,2092.7 1480.5,2093 1478.1,2089.8 1474,2083.9 1472,2078.1 1475.3,2076.2 1474.5,2069.7"/>
<polygon points="1486.5,2106.7 1495.5,2106.1 1501.2,2104.9 1503.7,2103.5 1510.9,2103.6 1517.6,2107.1 1522.1,2108.3 1526.6,2111.4 1531.5,2118.5 1533.2,2123.7 1538.8,2126.8 1540.3,2131.9 1536.9,2137.2 1538.2,2145.6 1541,2148.4 1539.6,2154.4 1541.1,2160.4 1540.9,2164 1535.6,2164.3 1530.1,2164.7 1520.9,2165.4 1518.1,2164.9 1516.2,2160.1 1513.9,2154.6 1512,2149.5 1509.5,2144.7 1507.3,2140.4 1503.6,2136.8 1497.4,2130.7 1494.2,2128.4 1491.3,2124.6 1491.7,2116.1 1488.6,2110.5"/>
<polygon points="1375.2,2114.5 1380,2116 1389.7,2118.2 1395.6,2118.9 1395.3,2124.7 1396.4,2129.7 1400.7,2137 1403.6,2141.5 1404.4,2145.3 1406.4,2153.3 1409.6,2155 1402.9,2160.4 1401.6,2163.4 1397.4,2165.2 1391.6,2162.9 1384.4,2162 1379.6,2164 1377.1,2162.2 1375.2,2159.3 1374.2,2154.1 1375.6,2146.7 1376.3,2140.3 1376.7,2138.2 1373.9,2131.3 1374.2,2128.2 1375.7,2118.8"/>
<polygon points="1445.4,2045.6 1451.7,2043.9 1458.1,2043.2 1459.6,2049.1 1462.7,2053.7 1456.5,2054.8 1451.6,2056.5 1450,2051.3"/>
<polygon points="1464,2066.9 1467.5,2067.1 1474.4,2065 1474.7,2070.1 1473.2,2076.2 1469.5,2077.1 1466.1,2077.1 1463.8,2074.2"/>
<polygon points="1476.1,2108.4 1479.3,2109 1483.9,2106 1484.8,2115.2 1486.5,2120.4 1483.1,2122.2 1476.5,2120.4 1475.4,2117.6"/>
<polygon points="1521,2103 1524.6,2102.1 1530.6,2101.4 1529.2,2105.1 1530.1,2109.6 1524.2,2112.4 1519,2110.2 1519.3,2104.7"/>
<polygon points="1425.1,2138.8 1428.6,2140.4 1431.6,2140 1433,2143.8 1433.5,2148 1429.6,2149.3 1427.5,2151 1426.6,2147.7"/>
<polygon points="1384.1,2105.9 1386.8,2107.9 1394.7,2107 1393.2,2113.5 1393.2,2118 1390.9,2115.5 1383.1,2115.3 1383.6,2113"/>
</g>
<rect x="1478.4" y="2151.1" width="52.4" height="3.6" fill="#fff"/>
</g>
<g clip-path="url(#hc4)">
<rect x="1541.8" y="2028.8" width="158.4" height="132.5" filter="url(#c3)"/>
<rect x="1541.8" y="2028.8" width="158.4" height="132.5" fill="url(#hg4)"/>
<g fill="#042a05" filter="url(#hb)" opacity="0.93">
<polygon points="1541.6,2026.9 1547.8,2029.3 1551,2028.6 1559.1,2026.4 1561.1,2034.3 1559.6,2034.4 1558,2042.8 1558.3,2047.1 1554.8,2051.3 1552.2,2059.3 1544.6,2061.3 1542.9,2061.9 1539.7,2058.1 1542.6,2049.7 1541,2044.2 1541.4,2038.5 1542.9,2035.1"/>
<polygon points="1571.1,2035.6 1579,2034 1584.9,2031.4 1590.5,2032.8 1592.4,2035.8 1597.4,2038.1 1600.9,2042.9 1597.6,2050.4 1597.6,2054 1591.2,2057.4 1582.7,2061.8 1577.3,2053.7 1574.4,2048.8 1571.6,2046 1572.2,2040.8"/>
<polygon points="1620,2026.4 1622.2,2029.3 1627.7,2028.3 1634.7,2028.5 1640.8,2028 1645.1,2028.7 1648.5,2026.1 1656.4,2026.5 1661.1,2027.2 1666,2027 1672.2,2026.6 1677.2,2026.4 1680.4,2025.7 1685.3,2025.7 1692,2028.5 1695.7,2026.1 1702.2,2028.4 1704.4,2032.6 1701.3,2035.8 1700.9,2041.5 1700.9,2045.6 1702.4,2051.9 1704.4,2058.2 1698.2,2061.9 1693.9,2069.1 1689.5,2064.8 1683.3,2059.6 1677.6,2053.2 1678.7,2059.7 1676,2064 1670.5,2069.7 1668.2,2072.2 1668.2,2077.5 1667.9,2081.3 1661.9,2083.5 1657,2081.8 1655.2,2077.8 1654.1,2074.6 1655.9,2067.1 1653.6,2063.5 1653.4,2059.9 1647.8,2062.3 1646.4,2067.6 1641,2072.8 1635.2,2071.7 1632.8,2068.2 1632.1,2064.4 1635,2057.8 1635.8,2054.3 1637,2047.4 1632,2046 1626.6,2041.5 1623.1,2040.3 1622.2,2031"/>
<polygon points="1669.4,2080.5 1677,2081 1679.9,2078.3 1686.7,2080.1 1692.8,2078.6 1695.8,2081.6 1698.8,2088 1698.9,2092.3 1696.8,2100.5 1699,2103.9 1694.5,2105.5 1688.3,2101.9 1680.5,2103.7 1677.4,2102.9 1677.7,2095.6 1674.6,2092.4 1672.5,2084.8"/>
<polygon points="1540.8,2066.8 1548,2069.1 1552.3,2068.4 1553.4,2074.7 1557,2078.2 1556.6,2082.4 1557.3,2090.5 1556,2093.7 1556.9,2099.6 1553.3,2103.7 1550,2108.7 1547.6,2109.8 1542.6,2108 1541.7,2106 1541.2,2099.7 1539.8,2095.7 1541.9,2087.3 1539.9,2083.4 1541.7,2076.2 1543.6,2074.6"/>
<polygon points="1615.6,2114 1622.3,2114.7 1626.7,2113.8 1629.8,2114.3 1634,2118.2 1633.2,2125.3 1636,2132.4 1632.4,2139.5 1626.5,2144.7 1622.1,2142.6 1617.5,2139.3 1616.1,2131.4 1617,2129 1616.2,2119.7"/>
<polygon points="1612.6,2147.1 1617.7,2147.4 1622.2,2145.9 1626,2147 1632.7,2144.4 1638.6,2143 1639.6,2151.4 1641,2155.6 1641.4,2163.1 1637.2,2161.6 1627.4,2161.7 1624.2,2163.3 1619.7,2161.4 1612.6,2161.5 1613.4,2154.3"/>
<polygon points="1542.1,2124.5 1546.3,2126.7 1550.7,2124.1 1553.7,2130.3 1556.3,2135.9 1555.9,2139.1 1559,2146.6 1558.6,2149 1553.9,2157.2 1556.6,2164.4 1549.2,2161.9 1539.7,2162.8 1543.1,2156.8 1542.3,2153.6 1539.4,2148 1540.5,2141 1539.9,2136.5 1541.7,2132.5"/>
<polygon points="1674.4,2152.7 1682.5,2154.3 1684.7,2154.7 1689.2,2151.9 1694.7,2150.1 1698.6,2151.7 1702.6,2156.7 1699.3,2161.3 1693.9,2161.9 1688.9,2161.2 1681,2163 1674.5,2161 1675.8,2156.9"/>
<polygon points="1560.9,2068.6 1566.9,2067.4 1571,2069 1567.9,2074.1 1569.7,2080.5 1562.8,2079.9 1560.6,2081.2 1559.7,2075.2"/>
<polygon points="1602.2,2046.5 1607.3,2047.7 1612.5,2048.1 1612.4,2052.8 1612.3,2057.3 1607.4,2054.7 1601.5,2055.8 1602.8,2049.5"/>
<polygon points="1588.2,2111.8 1591.9,2109.1 1597.6,2112.8 1597.6,2116.7 1598.9,2118 1594.7,2119 1590.5,2120.2 1588.4,2113.2"/>
<polygon points="1572.1,2133.1 1576.3,2134.8 1579.4,2134 1581.3,2138.1 1579.5,2142.9 1573.8,2142.5 1571.5,2143.8 1571.7,2139.2"/>
</g>
<rect x="1642.6" y="2151.1" width="52.4" height="3.6" fill="#fff"/>
</g>
<g clip-path="url(#hc5)">
<rect x="1706" y="2028.8" width="158" height="132.5" filter="url(#c5)"/>
<g fill="#06330a" filter="url(#hb)" opacity="0.93">
<polygon points="1833.3,2030.5 1835.6,2027.4 1840.6,2030.3 1848.3,2030.4 1852.2,2026.6 1854.9,2035.2 1852.6,2037.9 1846.5,2040.3 1841.8,2038.3 1835.5,2040 1830.3,2038.1 1832.6,2034.5"/>
<polygon points="1833.8,2048.9 1838.4,2047.5 1842.5,2047 1848.3,2048.1 1852,2051.5 1851.1,2058.4 1855.3,2065.2 1853.3,2069.5 1853.6,2077.8 1851.1,2082.2 1844.8,2079.1 1842.2,2078.7 1835.8,2077.7 1834.9,2069.4 1835.1,2064.8 1831.5,2060.7 1830.6,2056"/>
<polygon points="1791.3,2089.6 1800.1,2090.1 1802.7,2092.6 1802,2098 1802.7,2100.3 1797.3,2100.5 1793.3,2099.9 1790.5,2097.7"/>
<polygon points="1801,2102 1805.7,2100.8 1813.2,2102.9 1813.2,2107.5 1813.3,2112.6 1805.4,2112.5 1804.1,2110.5 1803.4,2109.3"/>
<polygon points="1769.2,2103.2 1776.9,2101.5 1780.6,2103 1782.3,2108.2 1784.2,2111.3 1777.7,2118.7 1774.9,2122.4 1774.6,2128.7 1772.5,2135.9 1772.5,2138.7 1772,2142.3 1771.6,2150.9 1767.3,2147 1763.4,2141.1 1761.9,2136.2 1761.1,2132.1 1761.1,2125.6 1760.8,2123.1 1760.2,2115.8 1765.4,2110.8 1767.8,2106.3"/>
<polygon points="1760.7,2151.5 1769.4,2150.7 1773.9,2150.7 1778.3,2148.8 1778.4,2156.7 1780.2,2163.2 1774.5,2163.6 1768.5,2160.9 1762.8,2160.3 1763.2,2154.8"/>
<polygon points="1705.5,2125.2 1712.1,2124.8 1718.6,2125 1725.3,2125.7 1725.2,2130 1724.4,2133.4 1725.7,2142.8 1722.8,2145.9 1719.1,2146.4 1712,2145.1 1708.8,2147.6 1706.7,2139.8 1707.8,2133.4 1708.3,2128.3"/>
<polygon points="1732.1,2129.5 1737.4,2131.1 1744.7,2130.5 1747.2,2128.2 1747.5,2136.2 1749.8,2140.3 1749.8,2146.8 1748.8,2151.4 1750.2,2156.3 1743.2,2157 1738.8,2157.9 1733.2,2156 1732,2152.9 1730.3,2146 1731.2,2139.7 1731.4,2135"/>
<polygon points="1703.6,2101.1 1709.3,2099.5 1716.6,2100.1 1717.2,2107.7 1713.8,2114.2 1708.7,2110.5 1707.6,2114.2 1706.1,2106.6"/>
</g>
<rect x="1806.4" y="2151.1" width="52.4" height="3.6" fill="#fff"/>
</g>
<g clip-path="url(#hc6)">
<rect x="1050" y="2169.7" width="158" height="132.6" filter="url(#p1)"/>
<ellipse cx="1185.9" cy="2198.9" rx="9" ry="14" fill="#0d0000" opacity="0.55" filter="url(#hb)"/>
<rect x="1150.4" y="2292.1" width="52.4" height="3.6" fill="#fff"/>
</g>
<g clip-path="url(#hc7)">
<rect x="1213.5" y="2169.7" width="157.7" height="132.6" filter="url(#p2)"/>
<rect x="1313.6" y="2292.1" width="52.4" height="3.6" fill="#fff"/>
</g>
<g clip-path="url(#hc8)">
<rect x="1377.8" y="2169.7" width="158.2" height="132.6" filter="url(#p3)"/>
<g fill="#100101" filter="url(#hb)" opacity="0.93">
<polygon points="1377.6,2166.9 1382.3,2165.1 1390.5,2168.6 1393,2173.8 1395.5,2175.6 1396.4,2181.4 1393,2187.2 1389.9,2190.8 1387.4,2195.5 1384.3,2200.8 1381.1,2204.9 1381.5,2208.3 1377.7,2214.4 1378.1,2206.7 1375.2,2201.5 1377.2,2198.9 1377.4,2191.2 1377.9,2187.5 1377.8,2183.6 1376.5,2179.3 1377,2172.9"/>
<polygon points="1377.5,2208.1 1383,2206.5 1386,2209.3 1387.9,2213.5 1387.7,2219.5 1389.8,2224.2 1389.6,2230.8 1387.8,2235.9 1389.4,2239.8 1386.1,2244.1 1384.5,2250.5 1382.3,2250.5 1378.3,2252.9 1376.2,2247.1 1375.4,2240.1 1375.2,2238.8 1376.3,2232.9 1377,2225.4 1375.8,2221.5 1376.7,2216.8 1375.4,2211"/>
<polygon points="1403.3,2191.3 1409.6,2191.1 1417.6,2190.4 1420.5,2186.9 1425.5,2192.3 1428,2198.5 1431,2204.1 1430.8,2207.3 1434,2210.9 1441.8,2217 1443.3,2221.1 1449.8,2224.4 1449.2,2232.7 1452.9,2238.2 1449.3,2242.3 1445.1,2245.2 1441.3,2248.6 1436.4,2252.1 1430.5,2252.7 1428.8,2255.1 1420.5,2254.8 1414.7,2259.1 1409.7,2260 1406.9,2258.5 1397.3,2254 1394.5,2251.1 1394,2246.2 1397.2,2243.8 1398.3,2236 1401.2,2234 1406.8,2230.2 1410.3,2227.4 1416.2,2225.1 1412.9,2219.4 1411.6,2215 1409.3,2209.5 1408.6,2206.1 1405.3,2196.9"/>
<polygon points="1417.5,2171.1 1427.3,2172.4 1433.9,2169.4 1430.8,2178.2 1433,2184.5 1429,2192.4 1426.8,2190.6 1421,2191.4 1421.1,2185.5 1418.6,2183.6 1417.2,2176.1"/>
<polygon points="1463.8,2165.3 1467.6,2167.4 1473.5,2169.6 1479.2,2165.4 1486.7,2168.9 1490.6,2168.7 1493.4,2166.5 1501.6,2168.3 1503.6,2168.3 1510.1,2165.2 1513.6,2166.4 1522,2167.6 1526.6,2167.5 1529,2166.5 1534.9,2165.4 1540.5,2168.7 1540.7,2171.1 1542.7,2178.5 1538.8,2183.5 1539.7,2187.2 1540.6,2194.6 1539.7,2199.1 1541.6,2203 1543,2208.2 1536.4,2207.9 1533.9,2205.8 1526.8,2203.1 1523.3,2203.1 1517.1,2195 1514.9,2192.7 1510.1,2190.1 1505.7,2186.8 1498.3,2183 1493.8,2185.6 1486.7,2184.7 1482.5,2183.5 1476,2182.5 1466.2,2180.8 1466.1,2172.6"/>
<polygon points="1473.9,2203.4 1478.9,2204.8 1486.1,2203.2 1491.3,2198.2 1497.4,2196.1 1500.7,2196.8 1507.3,2197.3 1508.4,2199.9 1516.1,2204 1520.5,2204.9 1525.2,2207.8 1524.1,2215.4 1525.1,2220.6 1526.9,2223.1 1527.3,2232.1 1522.2,2233.4 1515.3,2238.5 1511.4,2241.8 1506.5,2241.4 1500.7,2237.8 1497.5,2238.4 1492.6,2237.3 1488,2237.2 1479.4,2232.8 1476.2,2230.5 1473,2228.1 1471.6,2221.2 1475.3,2213.4 1473,2211.3"/>
<polygon points="1487.4,2245.2 1494.2,2245.4 1500.6,2246.2 1505.2,2244.6 1512,2242.8 1515.8,2247.2 1519.7,2248.6 1526.4,2254.1 1529.4,2258.2 1533.4,2262.2 1538.7,2270.8 1538,2275.9 1538.9,2277.8 1540.5,2284.7 1540.7,2290.1 1537.2,2296.6 1540.5,2300.5 1538.3,2304.8 1533.7,2308.4 1529.6,2307.7 1524.5,2307.3 1518.4,2306.8 1514.1,2299.7 1512.8,2296.6 1511,2289.8 1511.1,2285.2 1507.4,2280.9 1500.8,2276.2 1500.2,2274.5 1493.6,2271.3 1493.8,2263.4 1493.4,2261 1490,2256.3 1488.4,2252.3"/>
<polygon points="1376.8,2256.9 1380.3,2259.4 1387.4,2260.2 1391.8,2257.7 1394.7,2264 1397.8,2272.5 1400.4,2279.6 1404.6,2284.1 1403.6,2288.2 1406.7,2290.9 1407.5,2297.6 1404.7,2299.8 1403,2303.6 1396.7,2306.1 1391.3,2306.6 1386.1,2306.5 1378.6,2303.1 1376.2,2305.5 1376.3,2300.9 1375.2,2294.9 1375.6,2289.4 1374.7,2285.4 1375.5,2279.3 1376.4,2271.7 1373.7,2265.2 1375.3,2261.7"/>
<polygon points="1445.2,2185.5 1451.1,2184.5 1458.4,2183.6 1461.3,2186.4 1460.4,2194.4 1454.8,2195.5 1449.1,2196.1 1446.5,2190.2"/>
<polygon points="1463.6,2209.4 1467.5,2209 1471.7,2205.1 1474.4,2211.2 1476.2,2218.1 1470.5,2218.8 1465.1,2217.5 1467,2214.3"/>
<polygon points="1477.2,2250.1 1479.1,2247.8 1484.2,2249.9 1485.9,2254.2 1486.2,2262 1481.2,2263.7 1478,2264.7 1475.5,2257"/>
<polygon points="1519.8,2240.6 1525.2,2240.1 1530.4,2243.1 1529.4,2249.4 1531.2,2250.9 1527,2252.1 1520.8,2251.9 1521.4,2248.4"/>
<polygon points="1423.2,2281.9 1429.1,2279.1 1432,2279.6 1434.4,2284.7 1435.9,2289.6 1430.2,2291.5 1424.9,2294.7 1426.5,2286.3"/>
<polygon points="1384.5,2250.1 1389,2249.6 1391.6,2250.1 1391.9,2254 1394.6,2258.2 1390.2,2258.8 1386.1,2255.7 1385.1,2255.3"/>
</g>
<rect x="1478.4" y="2292.1" width="52.4" height="3.6" fill="#fff"/>
</g>
<g clip-path="url(#hc9)">
<rect x="1541.8" y="2169.7" width="158.4" height="132.6" filter="url(#p3)"/>
<g fill="#100101" filter="url(#hb)" opacity="0.93">
<polygon points="1542.6,2170.2 1547.2,2170 1552.8,2167.6 1558.6,2169.5 1561.2,2171.6 1562.1,2175.3 1560.8,2181.2 1554.2,2187.7 1552.3,2194.9 1550.9,2200.9 1548.2,2202.7 1542.4,2200.5 1539.8,2195.6 1540.6,2192 1541.5,2184.9 1539.9,2182 1540.7,2173.9"/>
<polygon points="1574.1,2175.4 1579,2174.4 1584.4,2171.2 1588.4,2171.9 1592.2,2177.4 1596.4,2178.1 1599.8,2183.7 1597.8,2189.1 1598.1,2198 1588.5,2197.8 1583.6,2201.7 1580,2198.1 1574.9,2192.5 1571.9,2184.6 1573.8,2179.3"/>
<polygon points="1618.9,2167.2 1624.2,2167 1629.7,2170.2 1635.6,2166.7 1640.4,2168.6 1644,2169 1650.4,2168.9 1653.5,2167.9 1661.7,2166.5 1667.1,2166.1 1671.3,2170.2 1675.9,2170.2 1683.2,2168.2 1685.4,2170.3 1691.1,2168.9 1698.9,2166.5 1702.6,2168.4 1703.3,2175.3 1704.1,2177 1704,2182.2 1704.1,2190.9 1701.8,2193.8 1704.2,2200.9 1699.2,2206.1 1690.1,2210.3 1686.1,2207.5 1682.5,2202.9 1679.2,2196.1 1678.7,2202.3 1674.4,2204 1670.6,2208.5 1669.9,2213.6 1666.5,2220.4 1667,2224.3 1661.8,2222.5 1657.3,2225.7 1656.5,2219 1652.6,2214.7 1652.3,2207.3 1652.3,2202.8 1651.3,2197.7 1650.2,2206.5 1644.9,2211 1640.3,2216.3 1638.3,2210.9 1630.8,2209.2 1632.8,2204.5 1635.8,2199.8 1634.1,2191.6 1637.6,2186.9 1631.8,2183.7 1625.3,2180.7 1623.5,2179.9 1620.4,2174"/>
<polygon points="1670.8,2222.5 1676.6,2220.4 1679.8,2222 1687.5,2218.4 1690.6,2220.4 1694,2224.7 1698.9,2229.5 1699.7,2234.7 1697.1,2238.7 1697.6,2242.9 1691.2,2244.6 1685.7,2243.9 1683.9,2243.3 1677.6,2243 1673.9,2237.8 1675.6,2233.7 1672.1,2228.9"/>
<polygon points="1542.5,2208.8 1545.3,2207.8 1551.2,2210.7 1556.2,2211.8 1557.5,2216.9 1556.4,2225.3 1559.2,2231.5 1557,2234.2 1556.9,2239.3 1554.7,2246.8 1550.9,2251.1 1547.1,2250.4 1542.1,2249.6 1540,2245.2 1541.6,2240.8 1540.2,2232.4 1539.3,2228.5 1542.2,2224.3 1541.6,2220.4 1540.3,2213"/>
<polygon points="1614.8,2258.5 1621.8,2254 1627.1,2254.4 1631.9,2255.5 1629.8,2259 1631.2,2264.8 1634.5,2274.2 1628.8,2279.9 1627,2283.3 1621.2,2283.3 1615.5,2278.9 1616.1,2274.7 1617.7,2266.9 1616.7,2262.9"/>
<polygon points="1611.7,2287.9 1615.9,2288.9 1621.2,2286.8 1625.5,2289 1634.1,2288.3 1637.9,2285.6 1638.5,2293.6 1641.6,2297.8 1642,2301.9 1634.7,2301.1 1628.9,2303.8 1623.6,2304.2 1617.2,2303.6 1613.8,2304.5 1612.7,2297.8"/>
<polygon points="1541.7,2265.4 1545.3,2264.3 1552,2266 1554.6,2268 1555.7,2274 1555.4,2281.7 1558.5,2288.1 1555.6,2293.2 1556.8,2297.9 1554.6,2304.8 1547.3,2305.2 1539.3,2305.1 1543.5,2296.3 1543.6,2292.7 1540.3,2288.1 1540.1,2284.3 1541.6,2278.5 1540.9,2272.3"/>
<polygon points="1675.2,2294.5 1680.9,2294.7 1684.1,2296 1690.7,2294.5 1697.6,2291.6 1700.4,2291.7 1699.6,2295.4 1699.7,2304.4 1694.9,2302.2 1686.8,2301.8 1681.6,2304 1675.8,2303.2 1676.7,2298"/>
<polygon points="1562,2211.3 1565.4,2209.2 1567.5,2210.5 1567.5,2215.8 1568.9,2222.2 1565,2221 1558.7,2218.3 1562.1,2216.7"/>
<polygon points="1602.5,2189.2 1606.4,2189.6 1610.6,2189 1609.6,2192.3 1611.2,2196.9 1607.5,2196.9 1601.7,2196.4 1599.6,2192.5"/>
<polygon points="1587,2251.8 1592.3,2253.8 1595.3,2253.1 1598.2,2257.2 1599.2,2258.3 1591.5,2258.5 1587.8,2260.2 1590.5,2254.9"/>
<polygon points="1569.6,2275.1 1573.8,2274.5 1580.5,2271.6 1580,2279.2 1580.7,2284.2 1577,2281.5 1571.2,2284.2 1569,2277.6"/>
</g>
<rect x="1642.6" y="2292.1" width="52.4" height="3.6" fill="#fff"/>
</g>
<g clip-path="url(#hc10)">
<rect x="1706" y="2169.7" width="158" height="132.6" filter="url(#p5)"/>
<g fill="#1a0303" filter="url(#hb)" opacity="0.93">
<polygon points="1830.4,2169.5 1837,2170.7 1843,2171 1846.3,2169.6 1851.4,2168.2 1855.1,2176 1853.3,2177.2 1846.2,2181.1 1844.4,2179.5 1835.2,2181.1 1831.1,2181.2 1832.3,2175.5"/>
<polygon points="1832.7,2189.7 1835.5,2188.4 1841.7,2191.2 1847.9,2191.2 1849.3,2195.6 1850.1,2201.7 1854.4,2204.6 1857.1,2207.7 1853.1,2218.1 1851,2224.8 1848.2,2221.3 1841.9,2217.8 1834.1,2220.2 1834.4,2211.8 1835.7,2206.6 1833.9,2202 1830.6,2196.2"/>
<polygon points="1793.9,2232.7 1796.6,2230.2 1805.2,2232.3 1805.3,2236.5 1802.5,2240.7 1797.6,2242.3 1791.6,2241.3 1791.2,2237.1"/>
<polygon points="1802.4,2243.3 1805,2243.1 1810.3,2244.2 1811.3,2248.1 1811.2,2253 1805.3,2255.2 1803.9,2255.6 1802.5,2247.1"/>
<polygon points="1768.6,2242.8 1774,2244.3 1778.8,2244.1 1781.2,2249.2 1780.5,2253 1778.5,2259.8 1777.2,2263 1772.3,2268.6 1775.2,2273.9 1772.9,2281.2 1770.8,2284.4 1772.1,2291.9 1768.7,2285.2 1761.7,2285.3 1760.8,2277.5 1763.8,2275.4 1760.5,2269.2 1761.1,2263.6 1759.7,2257.8 1764.9,2253.2 1764.6,2249.3"/>
<polygon points="1762.9,2291.6 1768.8,2291.6 1775.5,2291.3 1780,2291.2 1778.2,2297.8 1780.5,2303.9 1773.1,2302.6 1768.6,2301.4 1763.2,2303.5 1763.8,2295.1"/>
<polygon points="1709.3,2264.5 1712.3,2264.6 1720.1,2265.5 1724,2265.9 1723.2,2272.3 1723.9,2277.1 1721.9,2283.5 1724.5,2287.6 1718.9,2286.3 1714.8,2289.1 1706.7,2289.4 1709.2,2282.1 1705,2275.4 1707.2,2270.6"/>
<polygon points="1732.8,2271.5 1737.8,2270.7 1744.7,2271.5 1749.1,2270.5 1747,2275 1748.7,2284.3 1747.4,2289.8 1747.5,2292.6 1748.9,2297.7 1743.4,2298.9 1737.7,2299.9 1731.7,2298.1 1733.8,2291.7 1734,2288.5 1733.2,2280.8 1734.6,2275.6"/>
<polygon points="1704.3,2239.5 1711,2243 1714.5,2240.6 1714.3,2247.9 1715.4,2251.5 1711.2,2252.2 1706.2,2253 1706.7,2246"/>
</g>
<rect x="1806.4" y="2292.1" width="52.4" height="3.6" fill="#fff"/>
</g>
<g clip-path="url(#hc11)">
<rect x="1050" y="2310.3" width="158" height="132.5" filter="url(#m1)"/>
<ellipse cx="1185.9" cy="2339.5" rx="9" ry="14" fill="#0a2a08" opacity="0.55" filter="url(#hb)"/>
<rect x="1150.4" y="2432.6" width="52.4" height="3.6" fill="#fff"/>
</g>
<g clip-path="url(#hc12)">
<rect x="1213.5" y="2310.3" width="157.7" height="132.5" filter="url(#m2)"/>
<rect x="1313.6" y="2432.6" width="52.4" height="3.6" fill="#fff"/>
</g>
<g clip-path="url(#hc13)">
<rect x="1377.8" y="2310.3" width="158.2" height="132.5" filter="url(#m3)"/>
<rect x="1377.8" y="2310.3" width="158.2" height="132.5" fill="url(#hg13)"/>
<g fill="#061f04" filter="url(#hb)" opacity="0.93">
<polygon points="1377.8,2309.2 1382.1,2306.1 1392.9,2306.5 1391.7,2312.7 1392.6,2319.6 1395,2323.7 1393.1,2328.1 1390.7,2331.5 1389.6,2337.3 1387.2,2342.3 1381.9,2345.9 1377.9,2347.9 1375,2352.7 1375.3,2349.3 1376.8,2343 1375.1,2337.8 1375.3,2333.8 1377.6,2328.8 1378.9,2323.3 1376.7,2316.4 1375.9,2312.7"/>
<polygon points="1375,2346.4 1380.2,2347 1389.2,2352.2 1388.8,2355 1390.5,2359.6 1392.1,2364.9 1389.7,2367.9 1390.8,2374 1386.9,2380 1384.6,2384.6 1385.3,2390.9 1380.8,2389.6 1375.2,2394 1378.4,2387.1 1378.4,2380.6 1377.9,2377.7 1379.1,2370.7 1378.4,2368.5 1376.1,2364.5 1376.7,2356.6 1378.3,2351.9"/>
<polygon points="1406.4,2333.5 1409.1,2332.7 1416.7,2329.6 1423.3,2329.9 1423.2,2332.3 1425.7,2337.1 1427.3,2342.3 1430.6,2347.7 1434.8,2353 1438.8,2355.7 1445.4,2363.4 1448.7,2364.1 1451.7,2373.2 1453.4,2380.2 1449.5,2380.2 1445.9,2384.5 1441.5,2390.9 1438.1,2394 1431.8,2394.8 1425.8,2395.3 1421.5,2397.5 1418.3,2396.4 1411.6,2398.4 1407.4,2396.8 1401.4,2394.5 1391.1,2394.5 1395.5,2389.2 1395.6,2383.8 1396.3,2376.1 1401.6,2373.7 1405.7,2370.7 1409.6,2370.3 1414.4,2366.2 1413,2360.7 1409.6,2356.5 1405.9,2348.8 1407.9,2344.3 1403.8,2340"/>
<polygon points="1417.7,2309.4 1427.3,2310.3 1433.4,2310 1432.6,2316.7 1433.2,2323.8 1431.4,2330.3 1424.7,2334 1418.3,2332.5 1418.5,2328.5 1417.7,2323 1419.3,2314.7"/>
<polygon points="1464.4,2306.4 1468.4,2308.8 1472.5,2308.9 1481.1,2310.2 1484.5,2306.4 1488.1,2307.5 1496.1,2306.3 1499.3,2309.7 1503.6,2309.2 1511.4,2306.4 1517.6,2306.5 1520.6,2305.9 1526.3,2307.8 1531.7,2308.6 1534.3,2307.6 1541.7,2309.6 1539.1,2311.6 1542,2319.1 1540.4,2326.1 1540.1,2327.8 1539.9,2332.9 1541.1,2340.5 1541.4,2346.6 1541.7,2352.2 1537,2347.5 1531.9,2346.2 1528.3,2342.9 1520.7,2343.3 1520.1,2337.7 1511.9,2333.9 1509.5,2330.2 1506.6,2328.5 1500.9,2323.9 1495.2,2325.1 1487.5,2324.8 1483.8,2325.3 1476.6,2319.6 1466.2,2319.2 1464.3,2312.2"/>
<polygon points="1477.1,2345.4 1481.5,2343.5 1485.7,2342.6 1489.3,2340 1496.7,2337 1500.5,2336.2 1504.4,2340 1510.2,2340.6 1515,2345 1519.6,2344 1524,2349.4 1525.6,2352.1 1523.2,2359.5 1525.7,2366 1526,2372.3 1523,2373.1 1518,2379.2 1510.8,2383.9 1506.9,2382.4 1502.3,2378.9 1494.2,2380.8 1489.4,2380.6 1487.1,2373.7 1482.7,2371.8 1474.9,2370.6 1472.6,2364.8 1472.9,2360.7 1474,2356.3 1474.4,2349.6"/>
<polygon points="1486.3,2386.6 1494.9,2384.3 1499.9,2382.7 1507.4,2382.9 1511.6,2382.7 1514.7,2388.9 1522.3,2391.1 1527.1,2395.7 1529.5,2397.7 1534,2404.8 1538,2407.3 1538.4,2414.6 1540.7,2418.6 1540.3,2427.6 1541,2429 1538.8,2435.4 1540.5,2441 1539.2,2445.1 1532.2,2447.5 1527.2,2447.8 1522.4,2447.6 1517.1,2448.4 1514.4,2443.3 1515.6,2434.7 1510.9,2429.7 1510.5,2423.7 1508.6,2422.6 1504.6,2415.3 1498.7,2415.6 1494.5,2408.9 1492.3,2403.4 1490.7,2396.5 1491.6,2393.3"/>
<polygon points="1373.8,2398.7 1383.4,2398 1388.6,2398.3 1395.9,2398.1 1394.4,2404.4 1400,2410.2 1401.4,2417.9 1404.9,2422 1403.6,2427.3 1407.8,2433.9 1409.4,2437.2 1403.7,2439.9 1399.7,2446.8 1396.3,2444.1 1389.4,2445.5 1385.4,2445.8 1382.7,2444.3 1374.7,2444.6 1373.9,2438.7 1376.4,2436.2 1376.5,2427.3 1377.1,2423.2 1373.8,2417.4 1375,2413.2 1376.4,2406.6 1377.7,2400.2"/>
<polygon points="1446,2325.4 1453,2323 1457.2,2323.9 1457.6,2326.5 1462.5,2336.9 1453.9,2337.7 1449.5,2338.4 1448.9,2332.1"/>
<polygon points="1463,2350.9 1466.5,2346.1 1475,2346.2 1472.5,2354.3 1476.5,2357.9 1468.5,2359.2 1464.5,2360.5 1466.4,2354.4"/>
<polygon points="1473.1,2392.7 1478.3,2389.1 1482.9,2387.8 1486.9,2392.9 1486.6,2399.9 1480.6,2402.1 1477.2,2402.1 1475.1,2396.4"/>
<polygon points="1518.1,2384.2 1525,2383.1 1531.7,2383.8 1532.5,2389.1 1529.8,2393.3 1524.9,2395 1519.5,2392.7 1518.1,2387"/>
<polygon points="1423.3,2424.1 1430.3,2419.7 1435.8,2421 1435.7,2427.6 1437.5,2428.2 1431.6,2430.5 1427.8,2434.9 1423.5,2429.9"/>
<polygon points="1384,2390.7 1390.2,2388.6 1394,2390.7 1391.1,2394.2 1393.9,2399.2 1390.7,2396.3 1386.1,2400.3 1385.5,2394.1"/>
</g>
<rect x="1478.4" y="2432.6" width="52.4" height="3.6" fill="#fff"/>
</g>
<g clip-path="url(#hc14)">
<rect x="1541.8" y="2310.3" width="158.4" height="132.5" filter="url(#m3)"/>
<rect x="1541.8" y="2310.3" width="158.4" height="132.5" fill="url(#hg14)"/>
<g fill="#061f04" filter="url(#hb)" opacity="0.93">
<polygon points="1540,2311.8 1548.6,2309.6 1551.6,2309.6 1556.2,2308.4 1558.4,2313.9 1559.1,2319.8 1557.5,2321.9 1557.3,2330.9 1555.3,2333.9 1549.2,2340.6 1548.2,2342.8 1542.9,2344.6 1543.4,2336.9 1543.3,2331.4 1539.6,2325.4 1539.8,2319.2 1543.3,2316.5"/>
<polygon points="1574.9,2315.7 1577,2316.2 1584.8,2315.1 1590.8,2311 1593.8,2314.5 1596.4,2320.5 1599.5,2324.4 1600.6,2332.3 1595.7,2339.5 1591.5,2338 1583.3,2344.7 1579.9,2336.1 1573.1,2333.6 1571.3,2327.2 1571.7,2322.7"/>
<polygon points="1617.7,2310.6 1622.5,2309.8 1630.1,2310.6 1634.5,2307.8 1638.8,2307 1644,2307.1 1648.1,2308.4 1656.5,2310.9 1662.4,2308.8 1665.4,2309.1 1669.3,2308.8 1677.9,2309.5 1682.3,2307.4 1684.8,2310.4 1691,2308.1 1699.1,2307 1700.8,2308.3 1703.3,2314.2 1704,2317.3 1702.7,2324.7 1702.2,2327.2 1704.2,2332.9 1704,2338 1695.5,2343.7 1690.9,2351.5 1688.8,2347 1682.4,2340.4 1677.8,2334.7 1677.1,2342.8 1673,2345.4 1672,2349.7 1670.8,2355.7 1666.6,2357.8 1664.2,2363.6 1658.9,2366 1654.9,2364.1 1655,2360.2 1652.6,2354.7 1652.3,2351.2 1652.5,2344.2 1651.3,2339.3 1647.9,2344 1643.8,2351.7 1643.1,2354.3 1636.7,2353.6 1634.5,2351 1633.5,2346.5 1635.5,2339.1 1635.1,2335.5 1635.6,2330 1631.2,2323.7 1628.7,2323.7 1622.5,2321.8 1622.1,2315.2"/>
<polygon points="1671.4,2361.2 1677,2360.7 1683,2363.5 1687.2,2359.1 1690.5,2362.2 1695.6,2367.1 1701.4,2371.3 1698.7,2376.7 1700.4,2378.1 1697,2384.7 1691.8,2383.8 1687.3,2386.1 1683.8,2384.6 1677.6,2383.4 1675.5,2377 1674.6,2374.4 1674.5,2369.9"/>
<polygon points="1541.7,2347.3 1546.3,2349.2 1552.4,2348.7 1553.8,2354.2 1556.1,2357.5 1555.8,2363.1 1558.5,2370.8 1554.4,2376.9 1554,2379.2 1554.2,2387.4 1553.2,2388.7 1547.8,2389.9 1540.5,2390.8 1542.3,2383.8 1543.1,2378.8 1543.5,2374.9 1542.9,2368.9 1541.1,2365.3 1540.1,2358.2 1542.9,2355.3"/>
<polygon points="1616.9,2398.8 1622.2,2396.3 1624.3,2394.5 1630.8,2392.8 1633.4,2402.5 1630.9,2406 1635.6,2415.3 1629.7,2419.2 1629.3,2425.9 1621.5,2423.6 1617.5,2420 1615.4,2411.8 1616.1,2408.7 1614.8,2404.3"/>
<polygon points="1612.8,2428.6 1616,2430.4 1623.5,2429 1626.5,2427.1 1630.9,2427.3 1639.4,2428 1639.2,2432.8 1638.6,2437.2 1638.6,2444.4 1636.2,2441 1631.2,2443.8 1624.2,2441 1617,2444.5 1611.6,2445.2 1613.1,2435.9"/>
<polygon points="1540.9,2406.8 1545.3,2406 1552.2,2406.1 1552.6,2408.5 1554.8,2416.6 1557.9,2420.9 1558.7,2427.5 1556.1,2430.8 1553.9,2440.3 1555.3,2445.3 1547,2444.6 1543.1,2442.8 1539.9,2439.7 1543.2,2434.7 1542.8,2428.6 1542.1,2423.8 1542.4,2418.5 1543.6,2411.6"/>
<polygon points="1675.5,2435.6 1678.8,2436.1 1686.1,2433 1691.8,2432.3 1696,2434 1702.6,2432.6 1700.8,2439 1702.3,2444.7 1693.2,2441.2 1686.7,2442 1683.4,2444.2 1674.5,2443.8 1675.1,2437.7"/>
<polygon points="1560,2350.9 1563.9,2351.1 1568.2,2348.7 1568,2356.9 1568.8,2362.5 1565.1,2362.9 1558.7,2362.6 1560.6,2357"/>
<polygon points="1601.2,2327.8 1604.8,2330.2 1610.1,2327.3 1611.3,2333.1 1613.5,2336.8 1605.9,2337.9 1603,2336.9 1602.3,2331.4"/>
<polygon points="1589.7,2390.1 1592.3,2393.4 1596,2393.4 1597.4,2397.6 1595.6,2401.1 1593.9,2400.2 1591.2,2400.1 1587.1,2395.1"/>
<polygon points="1569.5,2414 1573.5,2416.2 1577,2414.1 1579.8,2417.1 1580.9,2422.4 1574.3,2423.3 1572.1,2423 1572.3,2419.4"/>
</g>
<rect x="1642.6" y="2432.6" width="52.4" height="3.6" fill="#fff"/>
</g>
<g clip-path="url(#hc15)">
<rect x="1706" y="2310.3" width="158" height="132.5" filter="url(#m5)"/>
<g fill="#1a1a06" filter="url(#hb)" opacity="0.93">
<polygon points="1831,2311.1 1837.7,2309.4 1844.4,2312.2 1847.4,2311.8 1852.8,2308.7 1855.4,2316.8 1853,2318.6 1849.1,2318.2 1843.7,2320.2 1835.8,2319.2 1832.5,2317.8 1833.5,2313.9"/>
<polygon points="1832,2328.8 1839.5,2331.2 1843.5,2328.2 1849.2,2329.7 1849.5,2335.3 1851.6,2338.6 1854.2,2345.7 1854.2,2350.9 1854.1,2356.2 1852.2,2362.5 1847.6,2360.5 1841.6,2358.7 1833.4,2356.8 1833.1,2351.7 1832.7,2347.5 1831.8,2342.8 1831.6,2334.3"/>
<polygon points="1792.6,2371 1800.3,2371.6 1802,2373.1 1806,2379.4 1805,2381.9 1796.6,2383.5 1793.6,2381.7 1791.5,2376.7"/>
<polygon points="1804.3,2383.4 1807,2382.5 1810.7,2382.2 1811.2,2390.5 1811.3,2395.1 1805.3,2395.1 1800.1,2395.6 1802.9,2387.7"/>
<polygon points="1768.5,2384.6 1775.4,2386.6 1778.9,2386.3 1780.1,2389.3 1784.4,2393.7 1779.1,2401.3 1778.1,2405.5 1775.4,2408.3 1774.1,2413.2 1774.4,2418.9 1771.2,2426 1772.1,2431.6 1765.2,2426.8 1761.8,2421.8 1762.9,2420.4 1763.9,2412.2 1763.3,2407.1 1760.7,2401.8 1759.7,2398 1764.5,2395 1767.5,2389.9"/>
<polygon points="1762.8,2434 1768.8,2431.2 1773.6,2432.8 1777.3,2432.6 1778,2436.8 1779.9,2442.6 1775,2443.3 1770.2,2441.1 1763.1,2441.6 1764,2439"/>
<polygon points="1708.8,2403.3 1712.7,2404 1720.3,2403.2 1722.6,2405.8 1723.3,2409.9 1723.6,2418.3 1723.5,2424.4 1723.5,2427.1 1718.2,2429.5 1711,2428.4 1707.4,2426.6 1705.4,2423.3 1707.7,2416.1 1707.2,2409.8"/>
<polygon points="1733.2,2413.6 1737.4,2409.7 1742.3,2411.5 1749.3,2412.2 1748.9,2417.9 1750,2421.1 1750.2,2427.1 1748.4,2435.4 1751.1,2438.6 1743.6,2440.4 1736,2438 1730.9,2440.4 1733.4,2432.2 1733,2427 1734.4,2422.3 1732.3,2418.5"/>
<polygon points="1706.7,2379.8 1710.4,2383.4 1717.2,2381.9 1716.9,2387.6 1716.4,2396.1 1709.1,2394.1 1705.9,2392.1 1707.7,2389.3"/>
</g>
<rect x="1806.4" y="2432.6" width="52.4" height="3.6" fill="#fff"/>
</g>
<text x="1211.2" y="1875.7" font-size="25.2" text-anchor="middle">VEC</text>
<text x="1618.2" y="1875.7" font-size="25.7" text-anchor="middle">NRF1 KO</text>
<line x1="1054" y1="1890.7" x2="1370.8" y2="1890.7" stroke="#000" stroke-width="2.4"/>
<line x1="1385.2" y1="1890.7" x2="1860.4" y2="1890.7" stroke="#000" stroke-width="2.4"/>
<text x="1040.5" y="1926.4" font-size="24.8" text-anchor="end">FFA</text>
<text x="1040.5" y="1969.6" font-size="25.6" text-anchor="end">Tunicamycin</text>
<text x="1040.5" y="2011.7" font-size="25.8" text-anchor="end">MG132</text>
<text x="1132" y="1923" font-size="27" text-anchor="middle">-</text>
<text x="1294.1" y="1922.9" font-size="27" text-anchor="middle">+</text>
<text x="1456.5" y="1924.6" font-size="27" text-anchor="middle">+</text>
<text x="1620.1" y="1913.1" font-size="27" text-anchor="middle">+</text>
<text x="1783.1" y="1922.9" font-size="27" text-anchor="middle">+</text>
<text x="1132" y="1965.6" font-size="27" text-anchor="middle">-</text>
<text x="1293.9" y="1965.6" font-size="27" text-anchor="middle">-</text>
<text x="1456.3" y="1965.6" font-size="27" text-anchor="middle">-</text>
<text x="1620.1" y="1964.9" font-size="27" text-anchor="middle">+</text>
<text x="1782.9" y="1965.6" font-size="27" text-anchor="middle">-</text>
<text x="1132" y="2009.4" font-size="27" text-anchor="middle">-</text>
<text x="1293.9" y="2009.4" font-size="27" text-anchor="middle">-</text>
<text x="1456.3" y="2009.4" font-size="27" text-anchor="middle">-</text>
<text x="1619.9" y="2009.4" font-size="27" text-anchor="middle">-</text>
<text x="1783.1" y="2008.1" font-size="27" text-anchor="middle">+</text>
<text transform="translate(1040.3,2094.5) rotate(-90)" font-size="25.5" text-anchor="middle" fill="#64b432">Calcein</text>
<text transform="translate(1040.3,2247.2) rotate(-90)" font-size="25.5" text-anchor="middle" fill="#c81414">PI</text>
<text transform="translate(1040.3,2376.2) rotate(-90)" font-size="26.2" text-anchor="middle">Merge</text>
</svg></body></html>
